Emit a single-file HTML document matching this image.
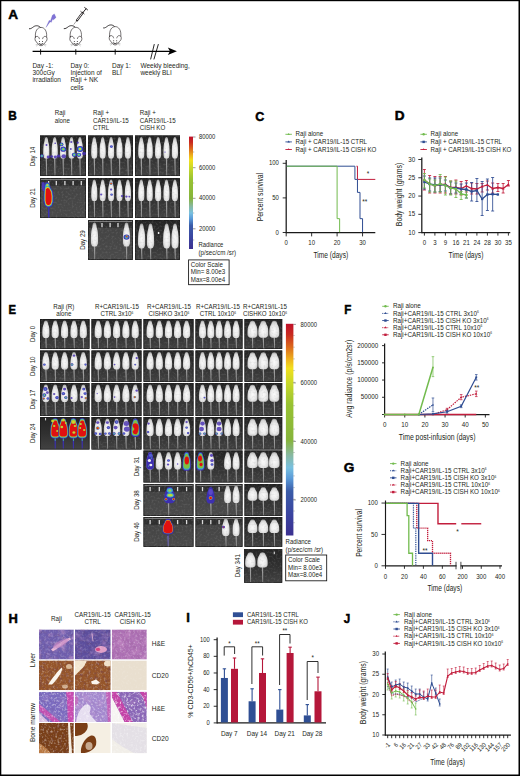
<!DOCTYPE html>
<html><head><meta charset="utf-8"><style>
html,body{margin:0;padding:0;background:#fff;width:520px;height:776px;overflow:hidden}
svg{display:block}
text{font-family:"Liberation Sans", sans-serif;stroke:none}
</style></head><body>
<svg width="520" height="776" viewBox="0 0 520 776" font-family='"Liberation Sans", sans-serif'>

<defs>
<radialGradient id="mg" cx="50%" cy="58%" r="60%">
 <stop offset="0" stop-color="#fafafa"/><stop offset="0.5" stop-color="#ececec"/><stop offset="0.8" stop-color="#d4d4d4"/><stop offset="1" stop-color="#8c8c8c"/>
</radialGradient>
<linearGradient id="pbg" x1="0" y1="0" x2="0" y2="1">
 <stop offset="0" stop-color="#242424"/><stop offset="0.5" stop-color="#303030"/><stop offset="1" stop-color="#424242"/>
</linearGradient>
<linearGradient id="cbar" x1="0" y1="0" x2="0" y2="1">
 <stop offset="0" stop-color="#c0102a"/>
 <stop offset="0.05" stop-color="#c82a20"/>
 <stop offset="0.11" stop-color="#dc6a1c"/>
 <stop offset="0.17" stop-color="#eeb41c"/>
 <stop offset="0.21" stop-color="#f2e01e"/>
 <stop offset="0.28" stop-color="#c8d82a"/>
 <stop offset="0.38" stop-color="#98c232"/>
 <stop offset="0.55" stop-color="#86b43c"/>
 <stop offset="0.62" stop-color="#88b8a0"/>
 <stop offset="0.68" stop-color="#78c0e0"/>
 <stop offset="0.73" stop-color="#5a9ad8"/>
 <stop offset="0.79" stop-color="#3a5ca8"/>
 <stop offset="0.9" stop-color="#3a44a0"/>
 <stop offset="1" stop-color="#3c3090"/>
</linearGradient>
<linearGradient id="pbg2" x1="0" y1="0" x2="0" y2="1">
 <stop offset="0" stop-color="#424242"/><stop offset="1" stop-color="#4a4a4a"/>
</linearGradient>
<g id="cmouse" fill="#fff" stroke="#231f20" stroke-width="0.62" stroke-linecap="round" stroke-linejoin="round">
 <path d="M-0.3,0.2 C-2,-1.8 -5,-2.4 -7.5,-0.6 C-9,0.5 -10.2,1.6 -11.6,1.4" fill="none" stroke-width="0.9"/>
 <path d="M-5.6,9.5 C-6.2,3.5 -3.4,0 0,0 C3.4,0 6.2,3.5 5.6,9.5 C6.6,11.5 6,14 4,15 C3,17.3 1.5,18.3 0,18.3 C-1.5,18.3 -3,17.3 -4,15 C-6,14 -6.6,11.5 -5.6,9.5 Z"/>
 <path d="M-5.4,9.6 C-4.2,8.3 -2.2,8.8 -1.6,11.3 M5.4,9.6 C4.2,8.3 2.2,8.8 1.6,11.3" fill="none"/>
 <circle cx="-1.5" cy="14.2" r="0.5" fill="#231f20" stroke="none"/>
 <circle cx="1.5" cy="14.2" r="0.5" fill="#231f20" stroke="none"/>
 <path d="M-1.8,16.4 Q0,18 1.8,16.4" fill="none" stroke-width="0.9"/>
 <path d="M-2.5,16.5 L-5,17.2 M-2.5,17 L-4.6,18.6 M2.5,16.5 L5,17.2 M2.5,17 L4.6,18.6" stroke="#888" stroke-width="0.4"/>
</g>
<filter id="speckW" x="0" y="0" width="100%" height="100%" filterUnits="objectBoundingBox">
 <feTurbulence type="fractalNoise" baseFrequency="0.45" numOctaves="3" seed="3"/>
 <feColorMatrix type="matrix" values="0 0 0 0 1  0 0 0 0 1  0 0 0 0 1  2.6 0 0 0 -1.25"/>
</filter>
<filter id="speckD" x="0" y="0" width="100%" height="100%" filterUnits="objectBoundingBox">
 <feTurbulence type="fractalNoise" baseFrequency="0.35" numOctaves="3" seed="8"/>
 <feColorMatrix type="matrix" values="0 0 0 0 0.15  0 0 0 0 0.05  0 0 0 0 0.1  2.4 0 0 0 -1.15"/>
</filter>
<filter id="speckP" x="0" y="0" width="100%" height="100%" filterUnits="objectBoundingBox">
 <feTurbulence type="fractalNoise" baseFrequency="0.12" numOctaves="3" seed="11"/>
 <feColorMatrix type="matrix" values="0 0 0 0 0.78  0 0 0 0 0.42  0 0 0 0 0.72  3.0 0 0 0 -1.4"/>
</filter>
<filter id="mtex" x="0" y="0" width="100%" height="100%" filterUnits="objectBoundingBox">
 <feTurbulence type="fractalNoise" baseFrequency="0.5" numOctaves="2" seed="5"/>
 <feColorMatrix type="matrix" values="0 0 0 0 0.35  0 0 0 0 0.35  0 0 0 0 0.35  2.6 0 0 0 -1.2"/>
</filter>
<filter id="soft" x="-20%" y="-10%" width="140%" height="120%"><feGaussianBlur stdDeviation="0.35"/></filter>
</defs>

<text transform="translate(8.2,19.299999999999997) scale(1.0,1)" font-size="13.6" font-weight="bold" fill="#000" style="stroke:#000;stroke-width:0.5px">A</text>
<use href="#cmouse" transform="translate(41.0,27.4)"/>
<use href="#cmouse" transform="translate(75.8,27.3)"/>
<use href="#cmouse" transform="translate(115.2,26.6)"/>
<path d="M46.1,27.3 L49.2,20.4 L50.5,20.9 L52.4,15.3 L54.3,13.9 L56.0,17.4 L53.6,19.7 L52.5,19.2 L51.3,22.3 L50.1,21.7 Z" fill="#7f72d6" stroke="#6458c0" stroke-width="0.3" stroke-linejoin="round"/>
<g stroke="#231f20" stroke-linecap="round"><line x1="74" y1="24.2" x2="77.2" y2="20" stroke-width="0.4"/><line x1="77" y1="20.4" x2="82.6" y2="12.8" stroke-width="2.2"/><line x1="77.4" y1="19.8" x2="82.1" y2="13.4" stroke="#fff" stroke-width="0.9"/><line x1="80.6" y1="11.3" x2="84.2" y2="14" stroke-width="0.6"/><line x1="83" y1="12.5" x2="86" y2="8.8" stroke-width="1"/><line x1="84.6" y1="7.5" x2="87.6" y2="9.9" stroke-width="0.9"/></g>
<line x1="32.6" y1="51.35" x2="172" y2="51.35" stroke="#000" stroke-width="1.25"/>
<path d="M176.9,51.35 L167.8,47.6 L170,51.35 L167.8,55.1 Z" fill="#000"/>
<line x1="40.6" y1="49.2" x2="40.6" y2="54.6" stroke="#000" stroke-width="0.9"/>
<line x1="75.8" y1="49.2" x2="75.8" y2="54.6" stroke="#000" stroke-width="0.9"/>
<line x1="115.2" y1="49.2" x2="115.2" y2="54.6" stroke="#000" stroke-width="0.9"/>
<line x1="150.6" y1="59.4" x2="154.3" y2="44.1" stroke="#000" stroke-width="0.85"/>
<line x1="153.9" y1="59.4" x2="158.4" y2="44.1" stroke="#000" stroke-width="0.85"/>
<text transform="translate(32.4,67.5) scale(0.8929,1)" font-size="7.28" text-anchor="start" font-weight="normal" fill="#231f20" >Day -1:</text>
<text transform="translate(32.4,74.95) scale(0.8929,1)" font-size="7.28" text-anchor="start" font-weight="normal" fill="#231f20" >300cGy</text>
<text transform="translate(32.4,82.4) scale(0.8929,1)" font-size="7.28" text-anchor="start" font-weight="normal" fill="#231f20" >irradiation</text>
<text transform="translate(70.4,67.5) scale(0.8929,1)" font-size="7.28" text-anchor="start" font-weight="normal" fill="#231f20" >Day 0:</text>
<text transform="translate(70.4,74.95) scale(0.8929,1)" font-size="7.28" text-anchor="start" font-weight="normal" fill="#231f20" >Injection of</text>
<text transform="translate(70.4,82.4) scale(0.8929,1)" font-size="7.28" text-anchor="start" font-weight="normal" fill="#231f20" >Raji + NK</text>
<text transform="translate(70.4,89.85) scale(0.8929,1)" font-size="7.28" text-anchor="start" font-weight="normal" fill="#231f20" >cells</text>
<text transform="translate(112.0,67.5) scale(0.8929,1)" font-size="7.28" text-anchor="start" font-weight="normal" fill="#231f20" >Day 1:</text>
<text transform="translate(112.0,74.95) scale(0.8929,1)" font-size="7.28" text-anchor="start" font-weight="normal" fill="#231f20" >BLI</text>
<text transform="translate(140.4,67.5) scale(0.8929,1)" font-size="7.28" text-anchor="start" font-weight="normal" fill="#231f20" >Weekly bleeding,</text>
<text transform="translate(140.4,74.95) scale(0.8929,1)" font-size="7.28" text-anchor="start" font-weight="normal" fill="#231f20" >weekly BLI</text>
<text transform="translate(8.3,120.4) scale(0.87,1)" font-size="13.6" font-weight="bold" fill="#000" style="stroke:#000;stroke-width:0.5px">B</text>
<text transform="translate(54.8,115.2) scale(0.8929,1)" font-size="6.944" text-anchor="start" font-weight="normal" fill="#231f20" >Raji</text>
<text transform="translate(54.8,122.6) scale(0.8929,1)" font-size="6.944" text-anchor="start" font-weight="normal" fill="#231f20" >alone</text>
<text transform="translate(93.0,115.2) scale(0.8929,1)" font-size="6.944" text-anchor="start" font-weight="normal" fill="#231f20" >Raji +</text>
<text transform="translate(93.0,122.6) scale(0.8929,1)" font-size="6.944" text-anchor="start" font-weight="normal" fill="#231f20" >CAR19/IL-15</text>
<text transform="translate(93.0,130.0) scale(0.8929,1)" font-size="6.944" text-anchor="start" font-weight="normal" fill="#231f20" >CTRL</text>
<text transform="translate(139.8,115.2) scale(0.8929,1)" font-size="6.944" text-anchor="start" font-weight="normal" fill="#231f20" >Raji +</text>
<text transform="translate(139.8,122.6) scale(0.8929,1)" font-size="6.944" text-anchor="start" font-weight="normal" fill="#231f20" >CAR19/IL-15</text>
<text transform="translate(139.8,130.0) scale(0.8929,1)" font-size="6.944" text-anchor="start" font-weight="normal" fill="#231f20" >CISH KO</text>
<text transform="translate(35.2,156.5) rotate(-90) scale(0.8929,1)" font-size="6.944" text-anchor="middle" fill="#231f20">Day 14</text>
<text transform="translate(35.2,198.0) rotate(-90) scale(0.8929,1)" font-size="6.944" text-anchor="middle" fill="#231f20">Day 21</text>
<text transform="translate(85.0,240.0) rotate(-90) scale(0.8929,1)" font-size="6.944" text-anchor="middle" fill="#231f20">Day 29</text>
<rect x="40" y="135.5" width="46" height="40.5" fill="url(#pbg)"/>
<rect x="40.35" y="135.85" width="45.3" height="39.8" fill="none" stroke="#1c1c1c" stroke-width="0.7"/>
<path d="M45.599999999999994,158.1 L47.0,158.1 L46.949999999999996,175.2 L46.24999999999999,175.2 Z" fill="#9c9c9c"/>
<path d="M46.30,137.10 C46.67,137.10 47.15,137.39 47.42,137.75 C47.68,138.10 47.78,138.64 47.91,139.25 C48.05,139.86 48.06,140.61 48.22,141.40 C48.38,142.19 48.70,143.01 48.87,143.98 C49.04,144.95 49.16,145.91 49.24,147.20 C49.33,148.49 49.39,150.25 49.40,151.72 C49.41,153.19 49.48,154.93 49.28,156.02 C49.07,157.11 48.66,157.85 48.16,158.28 C47.66,158.71 46.92,158.60 46.30,158.60 C45.68,158.60 44.94,158.71 44.44,158.28 C43.94,157.85 43.53,157.11 43.32,156.02 C43.12,154.93 43.19,153.19 43.20,151.72 C43.21,150.25 43.27,148.49 43.35,147.20 C43.44,145.91 43.56,144.95 43.73,143.98 C43.90,143.01 44.22,142.19 44.38,141.40 C44.54,140.61 44.55,139.86 44.69,139.25 C44.82,138.64 44.92,138.10 45.18,137.75 C45.45,137.39 45.93,137.10 46.30,137.10 Z" fill="url(#mg)" filter="url(#soft)"/>
<path d="M53.99999999999999,158.1 L55.4,158.1 L55.349999999999994,175.2 L54.64999999999999,175.2 Z" fill="#9c9c9c"/>
<path d="M54.70,137.10 C55.07,137.10 55.55,137.39 55.82,137.75 C56.08,138.10 56.18,138.64 56.31,139.25 C56.45,139.86 56.46,140.61 56.62,141.40 C56.78,142.19 57.10,143.01 57.27,143.98 C57.44,144.95 57.56,145.91 57.64,147.20 C57.73,148.49 57.79,150.25 57.80,151.72 C57.81,153.19 57.88,154.93 57.68,156.02 C57.47,157.11 57.06,157.85 56.56,158.28 C56.06,158.71 55.32,158.60 54.70,158.60 C54.08,158.60 53.34,158.71 52.84,158.28 C52.34,157.85 51.93,157.11 51.72,156.02 C51.52,154.93 51.59,153.19 51.60,151.72 C51.61,150.25 51.67,148.49 51.75,147.20 C51.84,145.91 51.96,144.95 52.13,143.98 C52.30,143.01 52.62,142.19 52.78,141.40 C52.94,140.61 52.95,139.86 53.09,139.25 C53.22,138.64 53.32,138.10 53.58,137.75 C53.85,137.39 54.33,137.10 54.70,137.10 Z" fill="url(#mg)" filter="url(#soft)"/>
<path d="M62.39999999999999,158.1 L63.8,158.1 L63.74999999999999,175.2 L63.04999999999999,175.2 Z" fill="#9c9c9c"/>
<path d="M63.10,137.10 C63.47,137.10 63.95,137.39 64.22,137.75 C64.48,138.10 64.58,138.64 64.71,139.25 C64.85,139.86 64.86,140.61 65.02,141.40 C65.18,142.19 65.50,143.01 65.67,143.98 C65.84,144.95 65.96,145.91 66.04,147.20 C66.13,148.49 66.19,150.25 66.20,151.72 C66.21,153.19 66.28,154.93 66.08,156.02 C65.87,157.11 65.46,157.85 64.96,158.28 C64.46,158.71 63.72,158.60 63.10,158.60 C62.48,158.60 61.74,158.71 61.24,158.28 C60.74,157.85 60.33,157.11 60.12,156.02 C59.92,154.93 59.99,153.19 60.00,151.72 C60.01,150.25 60.07,148.49 60.15,147.20 C60.24,145.91 60.36,144.95 60.53,143.98 C60.70,143.01 61.02,142.19 61.18,141.40 C61.34,140.61 61.35,139.86 61.49,139.25 C61.62,138.64 61.72,138.10 61.98,137.75 C62.25,137.39 62.73,137.10 63.10,137.10 Z" fill="url(#mg)" filter="url(#soft)"/>
<path d="M70.8,158.1 L72.2,158.1 L72.14999999999999,175.2 L71.45,175.2 Z" fill="#9c9c9c"/>
<path d="M71.50,137.10 C71.87,137.10 72.35,137.39 72.62,137.75 C72.88,138.10 72.98,138.64 73.11,139.25 C73.25,139.86 73.26,140.61 73.42,141.40 C73.58,142.19 73.90,143.01 74.07,143.98 C74.24,144.95 74.36,145.91 74.44,147.20 C74.53,148.49 74.59,150.25 74.60,151.72 C74.61,153.19 74.68,154.93 74.48,156.02 C74.27,157.11 73.86,157.85 73.36,158.28 C72.86,158.71 72.12,158.60 71.50,158.60 C70.88,158.60 70.14,158.71 69.64,158.28 C69.14,157.85 68.73,157.11 68.52,156.02 C68.32,154.93 68.39,153.19 68.40,151.72 C68.41,150.25 68.47,148.49 68.56,147.20 C68.64,145.91 68.76,144.95 68.93,143.98 C69.10,143.01 69.42,142.19 69.58,141.40 C69.74,140.61 69.75,139.86 69.89,139.25 C70.02,138.64 70.12,138.10 70.38,137.75 C70.65,137.39 71.13,137.10 71.50,137.10 Z" fill="url(#mg)" filter="url(#soft)"/>
<path d="M79.2,158.1 L80.60000000000001,158.1 L80.55,175.2 L79.85000000000001,175.2 Z" fill="#9c9c9c"/>
<path d="M79.90,137.10 C80.27,137.10 80.75,137.39 81.02,137.75 C81.28,138.10 81.38,138.64 81.51,139.25 C81.65,139.86 81.66,140.61 81.82,141.40 C81.98,142.19 82.30,143.01 82.47,143.98 C82.64,144.95 82.76,145.91 82.84,147.20 C82.93,148.49 82.99,150.25 83.00,151.72 C83.01,153.19 83.08,154.93 82.88,156.02 C82.67,157.11 82.26,157.85 81.76,158.28 C81.26,158.71 80.52,158.60 79.90,158.60 C79.28,158.60 78.54,158.71 78.04,158.28 C77.54,157.85 77.13,157.11 76.92,156.02 C76.72,154.93 76.79,153.19 76.80,151.72 C76.81,150.25 76.87,148.49 76.96,147.20 C77.04,145.91 77.16,144.95 77.33,143.98 C77.50,143.01 77.82,142.19 77.98,141.40 C78.14,140.61 78.15,139.86 78.29,139.25 C78.42,138.64 78.52,138.10 78.78,137.75 C79.05,137.39 79.53,137.10 79.90,137.10 Z" fill="url(#mg)" filter="url(#soft)"/>
<rect x="40" y="135.5" width="46" height="40.5" filter="url(#mtex)" opacity="0.22"/>
<ellipse cx="46.5" cy="145" rx="1.0" ry="0.9" fill="#4a32b5" opacity="0.85"/>
<ellipse cx="41.9" cy="156" rx="1.9" ry="1.71" fill="#3d2fb0"/><ellipse cx="41.9" cy="156" rx="1.2349999999999999" ry="1.14" fill="#3aa6c8"/><ellipse cx="41.9" cy="156" rx="0.6649999999999999" ry="0.57" fill="#a8d040"/>
<ellipse cx="48.3" cy="157" rx="1.6" ry="1.4400000000000002" fill="#4a32b5" opacity="0.85"/>
<ellipse cx="55.2" cy="143.3" rx="0.9" ry="0.81" fill="#4a32b5" opacity="0.85"/>
<ellipse cx="51.7" cy="156.5" rx="1.5" ry="1.35" fill="#4a32b5" opacity="0.85"/>
<ellipse cx="55.4" cy="157" rx="1.6" ry="1.4400000000000002" fill="#4a32b5" opacity="0.85"/>
<ellipse cx="61.5" cy="144.4" rx="2.0" ry="1.8" fill="#3d2fb0"/><ellipse cx="61.5" cy="144.4" rx="1.3" ry="1.2" fill="#3aa6c8"/><ellipse cx="61.5" cy="144.4" rx="0.7" ry="0.6" fill="#a8d040"/>
<ellipse cx="63.3" cy="149.2" rx="2.9" ry="2.61" fill="#3d2fb0"/><ellipse cx="63.3" cy="149.2" rx="1.885" ry="1.74" fill="#3aa6c8"/><ellipse cx="63.3" cy="149.2" rx="1.015" ry="0.87" fill="#a8d040"/>
<ellipse cx="58.6" cy="156" rx="1.7" ry="1.53" fill="#4a32b5" opacity="0.85"/>
<ellipse cx="63.8" cy="156.2" rx="2.3" ry="2.07" fill="#4a32b5" opacity="0.85"/>
<ellipse cx="71.3" cy="142" rx="1.1" ry="0.9900000000000001" fill="#4a32b5" opacity="0.85"/>
<ellipse cx="70.8" cy="149" rx="1.0" ry="0.9" fill="#4a32b5" opacity="0.85"/>
<ellipse cx="74.2" cy="154.8" rx="2.4" ry="2.16" fill="#3d2fb0"/><ellipse cx="74.2" cy="154.8" rx="1.56" ry="1.44" fill="#3aa6c8"/><ellipse cx="74.2" cy="154.8" rx="0.84" ry="0.72" fill="#a8d040"/>
<ellipse cx="77.7" cy="142.7" rx="1.2" ry="1.08" fill="#4a32b5" opacity="0.85"/>
<ellipse cx="80.0" cy="149.0" rx="3.4" ry="3.06" fill="#3d2fb0"/><ellipse cx="80.0" cy="149.0" rx="2.21" ry="2.04" fill="#3aa6c8"/><ellipse cx="80.0" cy="149.0" rx="1.19" ry="1.02" fill="#a8d040"/>
<ellipse cx="78.8" cy="154.8" rx="2.4" ry="2.16" fill="#3d2fb0"/><ellipse cx="78.8" cy="154.8" rx="1.56" ry="1.44" fill="#3aa6c8"/><ellipse cx="78.8" cy="154.8" rx="0.84" ry="0.72" fill="#a8d040"/>
<ellipse cx="84.0" cy="153.6" rx="2.0" ry="1.8" fill="#4a32b5" opacity="0.85"/>
<ellipse cx="80.0" cy="149.0" rx="1.2" ry="1.0" fill="#e8d020"/>
<rect x="88" y="135.5" width="45" height="40.5" fill="url(#pbg)"/>
<rect x="88.35" y="135.85" width="44.3" height="39.8" fill="none" stroke="#1c1c1c" stroke-width="0.7"/>
<path d="M93.6,158.1 L95.0,158.1 L94.94999999999999,175.2 L94.25,175.2 Z" fill="#9c9c9c"/>
<path d="M94.30,137.10 C94.67,137.10 95.15,137.39 95.42,137.75 C95.68,138.10 95.78,138.64 95.91,139.25 C96.05,139.86 96.06,140.61 96.22,141.40 C96.38,142.19 96.70,143.01 96.87,143.98 C97.04,144.95 97.16,145.91 97.24,147.20 C97.33,148.49 97.39,150.25 97.40,151.72 C97.41,153.19 97.48,154.93 97.28,156.02 C97.07,157.11 96.66,157.85 96.16,158.28 C95.66,158.71 94.92,158.60 94.30,158.60 C93.68,158.60 92.94,158.71 92.44,158.28 C91.94,157.85 91.53,157.11 91.32,156.02 C91.12,154.93 91.19,153.19 91.20,151.72 C91.21,150.25 91.27,148.49 91.36,147.20 C91.44,145.91 91.56,144.95 91.73,143.98 C91.90,143.01 92.22,142.19 92.38,141.40 C92.54,140.61 92.55,139.86 92.69,139.25 C92.82,138.64 92.92,138.10 93.18,137.75 C93.45,137.39 93.93,137.10 94.30,137.10 Z" fill="url(#mg)" filter="url(#soft)"/>
<path d="M102.0,158.1 L103.4,158.1 L103.35,175.2 L102.65,175.2 Z" fill="#9c9c9c"/>
<path d="M102.70,137.10 C103.07,137.10 103.55,137.39 103.82,137.75 C104.08,138.10 104.18,138.64 104.31,139.25 C104.45,139.86 104.46,140.61 104.62,141.40 C104.78,142.19 105.10,143.01 105.27,143.98 C105.44,144.95 105.56,145.91 105.64,147.20 C105.73,148.49 105.79,150.25 105.80,151.72 C105.81,153.19 105.88,154.93 105.68,156.02 C105.47,157.11 105.06,157.85 104.56,158.28 C104.06,158.71 103.32,158.60 102.70,158.60 C102.08,158.60 101.34,158.71 100.84,158.28 C100.34,157.85 99.93,157.11 99.72,156.02 C99.52,154.93 99.59,153.19 99.60,151.72 C99.61,150.25 99.67,148.49 99.76,147.20 C99.84,145.91 99.96,144.95 100.13,143.98 C100.30,143.01 100.62,142.19 100.78,141.40 C100.94,140.61 100.95,139.86 101.09,139.25 C101.22,138.64 101.32,138.10 101.58,137.75 C101.85,137.39 102.33,137.10 102.70,137.10 Z" fill="url(#mg)" filter="url(#soft)"/>
<path d="M110.39999999999999,158.1 L111.8,158.1 L111.74999999999999,175.2 L111.05,175.2 Z" fill="#9c9c9c"/>
<path d="M111.10,137.10 C111.47,137.10 111.95,137.39 112.22,137.75 C112.48,138.10 112.58,138.64 112.71,139.25 C112.85,139.86 112.86,140.61 113.02,141.40 C113.18,142.19 113.50,143.01 113.67,143.98 C113.84,144.95 113.96,145.91 114.04,147.20 C114.13,148.49 114.19,150.25 114.20,151.72 C114.21,153.19 114.28,154.93 114.08,156.02 C113.87,157.11 113.46,157.85 112.96,158.28 C112.46,158.71 111.72,158.60 111.10,158.60 C110.48,158.60 109.74,158.71 109.24,158.28 C108.74,157.85 108.33,157.11 108.12,156.02 C107.92,154.93 107.99,153.19 108.00,151.72 C108.01,150.25 108.07,148.49 108.16,147.20 C108.24,145.91 108.36,144.95 108.53,143.98 C108.70,143.01 109.02,142.19 109.18,141.40 C109.34,140.61 109.35,139.86 109.49,139.25 C109.62,138.64 109.72,138.10 109.98,137.75 C110.25,137.39 110.73,137.10 111.10,137.10 Z" fill="url(#mg)" filter="url(#soft)"/>
<ellipse cx="111.39999999999999" cy="146.6" rx="1.5" ry="1.35" fill="#3d2fb0" opacity="0.9"/><ellipse cx="111.39999999999999" cy="146.6" rx="0.675" ry="0.6000000000000001" fill="#4a8fe0" opacity="0.9"/>
<path d="M118.8,158.1 L120.2,158.1 L120.14999999999999,175.2 L119.45,175.2 Z" fill="#9c9c9c"/>
<path d="M119.50,137.10 C119.87,137.10 120.35,137.39 120.62,137.75 C120.88,138.10 120.98,138.64 121.11,139.25 C121.25,139.86 121.26,140.61 121.42,141.40 C121.58,142.19 121.90,143.01 122.07,143.98 C122.24,144.95 122.36,145.91 122.44,147.20 C122.53,148.49 122.59,150.25 122.60,151.72 C122.61,153.19 122.68,154.93 122.48,156.02 C122.27,157.11 121.86,157.85 121.36,158.28 C120.86,158.71 120.12,158.60 119.50,158.60 C118.88,158.60 118.14,158.71 117.64,158.28 C117.14,157.85 116.73,157.11 116.52,156.02 C116.32,154.93 116.39,153.19 116.40,151.72 C116.41,150.25 116.47,148.49 116.56,147.20 C116.64,145.91 116.76,144.95 116.93,143.98 C117.10,143.01 117.42,142.19 117.58,141.40 C117.74,140.61 117.75,139.86 117.89,139.25 C118.02,138.64 118.12,138.10 118.38,137.75 C118.65,137.39 119.13,137.10 119.50,137.10 Z" fill="url(#mg)" filter="url(#soft)"/>
<path d="M127.2,158.1 L128.6,158.1 L128.55,175.2 L127.85000000000002,175.2 Z" fill="#9c9c9c"/>
<path d="M127.90,137.10 C128.27,137.10 128.75,137.39 129.02,137.75 C129.28,138.10 129.38,138.64 129.51,139.25 C129.65,139.86 129.66,140.61 129.82,141.40 C129.98,142.19 130.30,143.01 130.47,143.98 C130.64,144.95 130.76,145.91 130.84,147.20 C130.93,148.49 130.99,150.25 131.00,151.72 C131.01,153.19 131.08,154.93 130.88,156.02 C130.67,157.11 130.26,157.85 129.76,158.28 C129.26,158.71 128.52,158.60 127.90,158.60 C127.28,158.60 126.54,158.71 126.04,158.28 C125.54,157.85 125.13,157.11 124.92,156.02 C124.72,154.93 124.79,153.19 124.80,151.72 C124.81,150.25 124.87,148.49 124.96,147.20 C125.04,145.91 125.16,144.95 125.33,143.98 C125.50,143.01 125.82,142.19 125.98,141.40 C126.14,140.61 126.15,139.86 126.29,139.25 C126.42,138.64 126.52,138.10 126.78,137.75 C127.05,137.39 127.53,137.10 127.90,137.10 Z" fill="url(#mg)" filter="url(#soft)"/>
<rect x="88" y="135.5" width="45" height="40.5" filter="url(#mtex)" opacity="0.22"/>
<rect x="135" y="135.5" width="45" height="40.5" fill="url(#pbg)"/>
<rect x="135.35" y="135.85" width="44.3" height="39.8" fill="none" stroke="#1c1c1c" stroke-width="0.7"/>
<path d="M140.60000000000002,158.1 L142.0,158.1 L141.95000000000002,175.2 L141.25000000000003,175.2 Z" fill="#9c9c9c"/>
<path d="M141.30,137.10 C141.67,137.10 142.15,137.39 142.42,137.75 C142.68,138.10 142.78,138.64 142.91,139.25 C143.05,139.86 143.06,140.61 143.22,141.40 C143.38,142.19 143.70,143.01 143.87,143.98 C144.04,144.95 144.16,145.91 144.25,147.20 C144.33,148.49 144.39,150.25 144.40,151.72 C144.41,153.19 144.48,154.93 144.28,156.02 C144.07,157.11 143.66,157.85 143.16,158.28 C142.66,158.71 141.92,158.60 141.30,158.60 C140.68,158.60 139.94,158.71 139.44,158.28 C138.94,157.85 138.53,157.11 138.32,156.02 C138.12,154.93 138.19,153.19 138.20,151.72 C138.21,150.25 138.27,148.49 138.36,147.20 C138.44,145.91 138.56,144.95 138.73,143.98 C138.90,143.01 139.22,142.19 139.38,141.40 C139.54,140.61 139.55,139.86 139.69,139.25 C139.82,138.64 139.92,138.10 140.18,137.75 C140.45,137.39 140.93,137.10 141.30,137.10 Z" fill="url(#mg)" filter="url(#soft)"/>
<path d="M149.00000000000003,158.1 L150.4,158.1 L150.35000000000002,175.2 L149.65000000000003,175.2 Z" fill="#9c9c9c"/>
<path d="M149.70,137.10 C150.07,137.10 150.55,137.39 150.82,137.75 C151.08,138.10 151.18,138.64 151.31,139.25 C151.45,139.86 151.46,140.61 151.62,141.40 C151.78,142.19 152.10,143.01 152.27,143.98 C152.44,144.95 152.56,145.91 152.65,147.20 C152.73,148.49 152.79,150.25 152.80,151.72 C152.81,153.19 152.88,154.93 152.68,156.02 C152.47,157.11 152.06,157.85 151.56,158.28 C151.06,158.71 150.32,158.60 149.70,158.60 C149.08,158.60 148.34,158.71 147.84,158.28 C147.34,157.85 146.93,157.11 146.72,156.02 C146.52,154.93 146.59,153.19 146.60,151.72 C146.61,150.25 146.67,148.49 146.76,147.20 C146.84,145.91 146.96,144.95 147.13,143.98 C147.30,143.01 147.62,142.19 147.78,141.40 C147.94,140.61 147.95,139.86 148.09,139.25 C148.22,138.64 148.32,138.10 148.58,137.75 C148.85,137.39 149.33,137.10 149.70,137.10 Z" fill="url(#mg)" filter="url(#soft)"/>
<path d="M157.40000000000003,158.1 L158.8,158.1 L158.75000000000003,175.2 L158.05000000000004,175.2 Z" fill="#9c9c9c"/>
<path d="M158.10,137.10 C158.47,137.10 158.95,137.39 159.22,137.75 C159.48,138.10 159.58,138.64 159.71,139.25 C159.85,139.86 159.86,140.61 160.02,141.40 C160.18,142.19 160.50,143.01 160.67,143.98 C160.84,144.95 160.96,145.91 161.05,147.20 C161.13,148.49 161.19,150.25 161.20,151.72 C161.21,153.19 161.28,154.93 161.08,156.02 C160.87,157.11 160.46,157.85 159.96,158.28 C159.46,158.71 158.72,158.60 158.10,158.60 C157.48,158.60 156.74,158.71 156.24,158.28 C155.74,157.85 155.33,157.11 155.12,156.02 C154.92,154.93 154.99,153.19 155.00,151.72 C155.01,150.25 155.07,148.49 155.16,147.20 C155.24,145.91 155.36,144.95 155.53,143.98 C155.70,143.01 156.02,142.19 156.18,141.40 C156.34,140.61 156.35,139.86 156.49,139.25 C156.62,138.64 156.72,138.10 156.98,137.75 C157.25,137.39 157.73,137.10 158.10,137.10 Z" fill="url(#mg)" filter="url(#soft)"/>
<path d="M165.8,158.1 L167.2,158.1 L167.15,175.2 L166.45000000000002,175.2 Z" fill="#9c9c9c"/>
<path d="M166.50,137.10 C166.87,137.10 167.35,137.39 167.62,137.75 C167.88,138.10 167.98,138.64 168.11,139.25 C168.25,139.86 168.26,140.61 168.42,141.40 C168.58,142.19 168.90,143.01 169.07,143.98 C169.24,144.95 169.36,145.91 169.44,147.20 C169.53,148.49 169.59,150.25 169.60,151.72 C169.61,153.19 169.68,154.93 169.48,156.02 C169.27,157.11 168.86,157.85 168.36,158.28 C167.86,158.71 167.12,158.60 166.50,158.60 C165.88,158.60 165.14,158.71 164.64,158.28 C164.14,157.85 163.73,157.11 163.52,156.02 C163.32,154.93 163.39,153.19 163.40,151.72 C163.41,150.25 163.47,148.49 163.56,147.20 C163.64,145.91 163.76,144.95 163.93,143.98 C164.10,143.01 164.42,142.19 164.58,141.40 C164.74,140.61 164.75,139.86 164.89,139.25 C165.02,138.64 165.12,138.10 165.38,137.75 C165.65,137.39 166.13,137.10 166.50,137.10 Z" fill="url(#mg)" filter="url(#soft)"/>
<ellipse cx="165.0" cy="152.1" rx="0.7" ry="0.63" fill="#4a32b5" opacity="0.85"/>
<path d="M174.20000000000002,158.1 L175.6,158.1 L175.55,175.2 L174.85000000000002,175.2 Z" fill="#9c9c9c"/>
<path d="M174.90,137.10 C175.27,137.10 175.75,137.39 176.02,137.75 C176.28,138.10 176.38,138.64 176.51,139.25 C176.65,139.86 176.66,140.61 176.82,141.40 C176.98,142.19 177.30,143.01 177.47,143.98 C177.64,144.95 177.76,145.91 177.84,147.20 C177.93,148.49 177.99,150.25 178.00,151.72 C178.01,153.19 178.08,154.93 177.88,156.02 C177.67,157.11 177.26,157.85 176.76,158.28 C176.26,158.71 175.52,158.60 174.90,158.60 C174.28,158.60 173.54,158.71 173.04,158.28 C172.54,157.85 172.13,157.11 171.92,156.02 C171.72,154.93 171.79,153.19 171.80,151.72 C171.81,150.25 171.87,148.49 171.96,147.20 C172.04,145.91 172.16,144.95 172.33,143.98 C172.50,143.01 172.82,142.19 172.98,141.40 C173.14,140.61 173.15,139.86 173.29,139.25 C173.42,138.64 173.52,138.10 173.78,137.75 C174.05,137.39 174.53,137.10 174.90,137.10 Z" fill="url(#mg)" filter="url(#soft)"/>
<rect x="135" y="135.5" width="45" height="40.5" filter="url(#mtex)" opacity="0.22"/>
<rect x="40" y="178" width="46" height="40" fill="url(#pbg2)"/>
<rect x="41" y="180.0" width="44" height="5.8" fill="#2e2e2e"/>
<rect x="41" y="179.0" width="44" height="1.0" fill="#7a7a7a"/>
<rect x="47.95" y="181.0" width="1.3" height="4.2" fill="#dcdcdc"/>
<rect x="55.65" y="181.0" width="1.3" height="4.2" fill="#dcdcdc"/>
<rect x="64.25" y="181.0" width="1.3" height="4.2" fill="#dcdcdc"/>
<rect x="72.44999999999999" y="181.0" width="1.3" height="4.2" fill="#dcdcdc"/>
<rect x="80.64999999999999" y="181.0" width="1.3" height="4.2" fill="#dcdcdc"/>
<rect x="40.35" y="178.35" width="45.3" height="39.3" fill="none" stroke="#1c1c1c" stroke-width="0.7"/>
<rect x="40" y="178" width="46" height="40" filter="url(#mtex)" opacity="0.22"/>
<line x1="48.6" y1="204" x2="48.8" y2="217.5" stroke="#3b30b0" stroke-width="1.5"/>
<path d="M41.6,182.6 L44.2,182 L45.2,186 L44.8,191.5 L42.6,190.8 L41.6,186 Z" fill="#4a3ab8"/>
<path d="M44.5,183.2 L46,182.3 L48.5,182.6 L49.9,184.8 L50.9,188 L52.9,191 L53.7,196 L53.5,202 L52.1,206 L49.7,207.6 L47.3,207.6 L44.9,206 L43.5,202 L43.5,196 L43.8,191 L44.6,188 Z" fill="#3d2fb0"/>
<path d="M45.2,186 L47,184.6 L49,185.3 L50.2,188 L52,191.2 L52.8,196 L52.7,201.5 L51.5,205.2 L49.4,206.6 L47.2,206.6 L45.4,205 L44.3,200.5 L44.3,195 L44.6,190.5 Z" fill="#38b0c8"/>
<path d="M45.6,188 L47.2,186.8 L49.2,187.4 L51.3,191.2 L52.2,196 L52.1,201.2 L51,204.6 L49.2,205.8 L47.3,205.8 L45.8,204.4 L44.9,200.5 L44.9,195 L45.2,191 Z" fill="#e8d020"/>
<path d="M45.9,189.2 L47.4,188 L49.2,188.6 L50.9,191.8 L51.6,196 L51.5,201 L50.6,204 L49.0,205.1 L47.5,205.1 L46.2,203.8 L45.5,200.3 L45.5,195 L45.7,191.5 Z" fill="#e01010"/>
<circle cx="47.4" cy="185.2" r="1.9" fill="#38b0c8"/><circle cx="47.4" cy="185.2" r="1.1" fill="#c8d830"/>
<rect x="88" y="178" width="45" height="40" fill="url(#pbg)"/>
<rect x="88.35" y="178.35" width="44.3" height="39.3" fill="none" stroke="#1c1c1c" stroke-width="0.7"/>
<path d="M93.6,200.6 L95.0,200.6 L94.94999999999999,217.2 L94.25,217.2 Z" fill="#9c9c9c"/>
<path d="M94.30,179.60 C94.67,179.60 95.15,179.89 95.42,180.25 C95.68,180.60 95.78,181.14 95.91,181.75 C96.05,182.36 96.06,183.11 96.22,183.90 C96.38,184.69 96.70,185.51 96.87,186.48 C97.04,187.45 97.16,188.41 97.24,189.70 C97.33,190.99 97.39,192.75 97.40,194.22 C97.41,195.69 97.48,197.43 97.28,198.52 C97.07,199.61 96.66,200.35 96.16,200.78 C95.66,201.21 94.92,201.10 94.30,201.10 C93.68,201.10 92.94,201.21 92.44,200.78 C91.94,200.35 91.53,199.61 91.32,198.52 C91.12,197.43 91.19,195.69 91.20,194.22 C91.21,192.75 91.27,190.99 91.36,189.70 C91.44,188.41 91.56,187.45 91.73,186.48 C91.90,185.51 92.22,184.69 92.38,183.90 C92.54,183.11 92.55,182.36 92.69,181.75 C92.82,181.14 92.92,180.60 93.18,180.25 C93.45,179.89 93.93,179.60 94.30,179.60 Z" fill="url(#mg)" filter="url(#soft)"/>
<path d="M102.0,200.6 L103.4,200.6 L103.35,217.2 L102.65,217.2 Z" fill="#9c9c9c"/>
<path d="M102.70,179.60 C103.07,179.60 103.55,179.89 103.82,180.25 C104.08,180.60 104.18,181.14 104.31,181.75 C104.45,182.36 104.46,183.11 104.62,183.90 C104.78,184.69 105.10,185.51 105.27,186.48 C105.44,187.45 105.56,188.41 105.64,189.70 C105.73,190.99 105.79,192.75 105.80,194.22 C105.81,195.69 105.88,197.43 105.68,198.52 C105.47,199.61 105.06,200.35 104.56,200.78 C104.06,201.21 103.32,201.10 102.70,201.10 C102.08,201.10 101.34,201.21 100.84,200.78 C100.34,200.35 99.93,199.61 99.72,198.52 C99.52,197.43 99.59,195.69 99.60,194.22 C99.61,192.75 99.67,190.99 99.76,189.70 C99.84,188.41 99.96,187.45 100.13,186.48 C100.30,185.51 100.62,184.69 100.78,183.90 C100.94,183.11 100.95,182.36 101.09,181.75 C101.22,181.14 101.32,180.60 101.58,180.25 C101.85,179.89 102.33,179.60 102.70,179.60 Z" fill="url(#mg)" filter="url(#soft)"/>
<ellipse cx="101.2" cy="194.6" rx="1.1" ry="0.9900000000000001" fill="#4a32b5" opacity="0.85"/>
<path d="M110.39999999999999,200.6 L111.8,200.6 L111.74999999999999,217.2 L111.05,217.2 Z" fill="#9c9c9c"/>
<path d="M111.10,179.60 C111.47,179.60 111.95,179.89 112.22,180.25 C112.48,180.60 112.58,181.14 112.71,181.75 C112.85,182.36 112.86,183.11 113.02,183.90 C113.18,184.69 113.50,185.51 113.67,186.48 C113.84,187.45 113.96,188.41 114.04,189.70 C114.13,190.99 114.19,192.75 114.20,194.22 C114.21,195.69 114.28,197.43 114.08,198.52 C113.87,199.61 113.46,200.35 112.96,200.78 C112.46,201.21 111.72,201.10 111.10,201.10 C110.48,201.10 109.74,201.21 109.24,200.78 C108.74,200.35 108.33,199.61 108.12,198.52 C107.92,197.43 107.99,195.69 108.00,194.22 C108.01,192.75 108.07,190.99 108.16,189.70 C108.24,188.41 108.36,187.45 108.53,186.48 C108.70,185.51 109.02,184.69 109.18,183.90 C109.34,183.11 109.35,182.36 109.49,181.75 C109.62,181.14 109.72,180.60 109.98,180.25 C110.25,179.89 110.73,179.60 111.10,179.60 Z" fill="url(#mg)" filter="url(#soft)"/>
<ellipse cx="111.1" cy="183.6" rx="1.3" ry="1.1700000000000002" fill="#3d2fb0"/><ellipse cx="111.1" cy="183.6" rx="1.066" ry="0.9750000000000001" fill="#38b0c8"/><ellipse cx="111.1" cy="183.6" rx="0.8840000000000001" ry="0.806" fill="#f0d020"/><ellipse cx="111.1" cy="183.6" rx="0.7150000000000001" ry="0.65" fill="#e01010"/>
<ellipse cx="111.1" cy="189.6" rx="1.2" ry="1.08" fill="#4a32b5" opacity="0.85"/>
<ellipse cx="111.6" cy="194.6" rx="1.3" ry="1.1700000000000002" fill="#3d2fb0" opacity="0.9"/><ellipse cx="111.6" cy="194.6" rx="0.5850000000000001" ry="0.52" fill="#4a8fe0" opacity="0.9"/>
<path d="M118.8,200.6 L120.2,200.6 L120.14999999999999,217.2 L119.45,217.2 Z" fill="#9c9c9c"/>
<path d="M119.50,179.60 C119.87,179.60 120.35,179.89 120.62,180.25 C120.88,180.60 120.98,181.14 121.11,181.75 C121.25,182.36 121.26,183.11 121.42,183.90 C121.58,184.69 121.90,185.51 122.07,186.48 C122.24,187.45 122.36,188.41 122.44,189.70 C122.53,190.99 122.59,192.75 122.60,194.22 C122.61,195.69 122.68,197.43 122.48,198.52 C122.27,199.61 121.86,200.35 121.36,200.78 C120.86,201.21 120.12,201.10 119.50,201.10 C118.88,201.10 118.14,201.21 117.64,200.78 C117.14,200.35 116.73,199.61 116.52,198.52 C116.32,197.43 116.39,195.69 116.40,194.22 C116.41,192.75 116.47,190.99 116.56,189.70 C116.64,188.41 116.76,187.45 116.93,186.48 C117.10,185.51 117.42,184.69 117.58,183.90 C117.74,183.11 117.75,182.36 117.89,181.75 C118.02,181.14 118.12,180.60 118.38,180.25 C118.65,179.89 119.13,179.60 119.50,179.60 Z" fill="url(#mg)" filter="url(#soft)"/>
<ellipse cx="122.0" cy="196.1" rx="1.2" ry="1.08" fill="#4a32b5" opacity="0.85"/>
<path d="M127.2,200.6 L128.6,200.6 L128.55,217.2 L127.85000000000002,217.2 Z" fill="#9c9c9c"/>
<path d="M127.90,179.60 C128.27,179.60 128.75,179.89 129.02,180.25 C129.28,180.60 129.38,181.14 129.51,181.75 C129.65,182.36 129.66,183.11 129.82,183.90 C129.98,184.69 130.30,185.51 130.47,186.48 C130.64,187.45 130.76,188.41 130.84,189.70 C130.93,190.99 130.99,192.75 131.00,194.22 C131.01,195.69 131.08,197.43 130.88,198.52 C130.67,199.61 130.26,200.35 129.76,200.78 C129.26,201.21 128.52,201.10 127.90,201.10 C127.28,201.10 126.54,201.21 126.04,200.78 C125.54,200.35 125.13,199.61 124.92,198.52 C124.72,197.43 124.79,195.69 124.80,194.22 C124.81,192.75 124.87,190.99 124.96,189.70 C125.04,188.41 125.16,187.45 125.33,186.48 C125.50,185.51 125.82,184.69 125.98,183.90 C126.14,183.11 126.15,182.36 126.29,181.75 C126.42,181.14 126.52,180.60 126.78,180.25 C127.05,179.89 127.53,179.60 127.90,179.60 Z" fill="url(#mg)" filter="url(#soft)"/>
<ellipse cx="126.4" cy="196.6" rx="1.2" ry="1.08" fill="#4a32b5" opacity="0.85"/>
<ellipse cx="129.4" cy="196.6" rx="1.0" ry="0.9" fill="#4a32b5" opacity="0.85"/>
<rect x="88" y="178" width="45" height="40" filter="url(#mtex)" opacity="0.22"/>
<rect x="135" y="178" width="45" height="40" fill="url(#pbg)"/>
<rect x="135.35" y="178.35" width="44.3" height="39.3" fill="none" stroke="#1c1c1c" stroke-width="0.7"/>
<path d="M140.60000000000002,200.6 L142.0,200.6 L141.95000000000002,217.2 L141.25000000000003,217.2 Z" fill="#9c9c9c"/>
<path d="M141.30,179.60 C141.67,179.60 142.15,179.89 142.42,180.25 C142.68,180.60 142.78,181.14 142.91,181.75 C143.05,182.36 143.06,183.11 143.22,183.90 C143.38,184.69 143.70,185.51 143.87,186.48 C144.04,187.45 144.16,188.41 144.25,189.70 C144.33,190.99 144.39,192.75 144.40,194.22 C144.41,195.69 144.48,197.43 144.28,198.52 C144.07,199.61 143.66,200.35 143.16,200.78 C142.66,201.21 141.92,201.10 141.30,201.10 C140.68,201.10 139.94,201.21 139.44,200.78 C138.94,200.35 138.53,199.61 138.32,198.52 C138.12,197.43 138.19,195.69 138.20,194.22 C138.21,192.75 138.27,190.99 138.36,189.70 C138.44,188.41 138.56,187.45 138.73,186.48 C138.90,185.51 139.22,184.69 139.38,183.90 C139.54,183.11 139.55,182.36 139.69,181.75 C139.82,181.14 139.92,180.60 140.18,180.25 C140.45,179.89 140.93,179.60 141.30,179.60 Z" fill="url(#mg)" filter="url(#soft)"/>
<path d="M149.00000000000003,200.6 L150.4,200.6 L150.35000000000002,217.2 L149.65000000000003,217.2 Z" fill="#9c9c9c"/>
<path d="M149.70,179.60 C150.07,179.60 150.55,179.89 150.82,180.25 C151.08,180.60 151.18,181.14 151.31,181.75 C151.45,182.36 151.46,183.11 151.62,183.90 C151.78,184.69 152.10,185.51 152.27,186.48 C152.44,187.45 152.56,188.41 152.65,189.70 C152.73,190.99 152.79,192.75 152.80,194.22 C152.81,195.69 152.88,197.43 152.68,198.52 C152.47,199.61 152.06,200.35 151.56,200.78 C151.06,201.21 150.32,201.10 149.70,201.10 C149.08,201.10 148.34,201.21 147.84,200.78 C147.34,200.35 146.93,199.61 146.72,198.52 C146.52,197.43 146.59,195.69 146.60,194.22 C146.61,192.75 146.67,190.99 146.76,189.70 C146.84,188.41 146.96,187.45 147.13,186.48 C147.30,185.51 147.62,184.69 147.78,183.90 C147.94,183.11 147.95,182.36 148.09,181.75 C148.22,181.14 148.32,180.60 148.58,180.25 C148.85,179.89 149.33,179.60 149.70,179.60 Z" fill="url(#mg)" filter="url(#soft)"/>
<path d="M157.40000000000003,200.6 L158.8,200.6 L158.75000000000003,217.2 L158.05000000000004,217.2 Z" fill="#9c9c9c"/>
<path d="M158.10,179.60 C158.47,179.60 158.95,179.89 159.22,180.25 C159.48,180.60 159.58,181.14 159.71,181.75 C159.85,182.36 159.86,183.11 160.02,183.90 C160.18,184.69 160.50,185.51 160.67,186.48 C160.84,187.45 160.96,188.41 161.05,189.70 C161.13,190.99 161.19,192.75 161.20,194.22 C161.21,195.69 161.28,197.43 161.08,198.52 C160.87,199.61 160.46,200.35 159.96,200.78 C159.46,201.21 158.72,201.10 158.10,201.10 C157.48,201.10 156.74,201.21 156.24,200.78 C155.74,200.35 155.33,199.61 155.12,198.52 C154.92,197.43 154.99,195.69 155.00,194.22 C155.01,192.75 155.07,190.99 155.16,189.70 C155.24,188.41 155.36,187.45 155.53,186.48 C155.70,185.51 156.02,184.69 156.18,183.90 C156.34,183.11 156.35,182.36 156.49,181.75 C156.62,181.14 156.72,180.60 156.98,180.25 C157.25,179.89 157.73,179.60 158.10,179.60 Z" fill="url(#mg)" filter="url(#soft)"/>
<path d="M165.8,200.6 L167.2,200.6 L167.15,217.2 L166.45000000000002,217.2 Z" fill="#9c9c9c"/>
<path d="M166.50,179.60 C166.87,179.60 167.35,179.89 167.62,180.25 C167.88,180.60 167.98,181.14 168.11,181.75 C168.25,182.36 168.26,183.11 168.42,183.90 C168.58,184.69 168.90,185.51 169.07,186.48 C169.24,187.45 169.36,188.41 169.44,189.70 C169.53,190.99 169.59,192.75 169.60,194.22 C169.61,195.69 169.68,197.43 169.48,198.52 C169.27,199.61 168.86,200.35 168.36,200.78 C167.86,201.21 167.12,201.10 166.50,201.10 C165.88,201.10 165.14,201.21 164.64,200.78 C164.14,200.35 163.73,199.61 163.52,198.52 C163.32,197.43 163.39,195.69 163.40,194.22 C163.41,192.75 163.47,190.99 163.56,189.70 C163.64,188.41 163.76,187.45 163.93,186.48 C164.10,185.51 164.42,184.69 164.58,183.90 C164.74,183.11 164.75,182.36 164.89,181.75 C165.02,181.14 165.12,180.60 165.38,180.25 C165.65,179.89 166.13,179.60 166.50,179.60 Z" fill="url(#mg)" filter="url(#soft)"/>
<path d="M174.20000000000002,200.6 L175.6,200.6 L175.55,217.2 L174.85000000000002,217.2 Z" fill="#9c9c9c"/>
<path d="M174.90,179.60 C175.27,179.60 175.75,179.89 176.02,180.25 C176.28,180.60 176.38,181.14 176.51,181.75 C176.65,182.36 176.66,183.11 176.82,183.90 C176.98,184.69 177.30,185.51 177.47,186.48 C177.64,187.45 177.76,188.41 177.84,189.70 C177.93,190.99 177.99,192.75 178.00,194.22 C178.01,195.69 178.08,197.43 177.88,198.52 C177.67,199.61 177.26,200.35 176.76,200.78 C176.26,201.21 175.52,201.10 174.90,201.10 C174.28,201.10 173.54,201.21 173.04,200.78 C172.54,200.35 172.13,199.61 171.92,198.52 C171.72,197.43 171.79,195.69 171.80,194.22 C171.81,192.75 171.87,190.99 171.96,189.70 C172.04,188.41 172.16,187.45 172.33,186.48 C172.50,185.51 172.82,184.69 172.98,183.90 C173.14,183.11 173.15,182.36 173.29,181.75 C173.42,181.14 173.52,180.60 173.78,180.25 C174.05,179.89 174.53,179.60 174.90,179.60 Z" fill="url(#mg)" filter="url(#soft)"/>
<rect x="135" y="178" width="45" height="40" filter="url(#mtex)" opacity="0.22"/>
<rect x="88" y="220" width="45" height="40" fill="url(#pbg2)"/>
<rect x="89" y="222.0" width="43" height="5.8" fill="#2e2e2e"/>
<rect x="89" y="221.0" width="43" height="1.0" fill="#7a7a7a"/>
<rect x="101.35" y="223.0" width="1.3" height="4.2" fill="#dcdcdc"/>
<rect x="109.44999999999999" y="223.0" width="1.3" height="4.2" fill="#dcdcdc"/>
<rect x="117.35" y="223.0" width="1.3" height="4.2" fill="#dcdcdc"/>
<rect x="88.35" y="220.35" width="44.3" height="39.3" fill="none" stroke="#1c1c1c" stroke-width="0.7"/>
<path d="M93.8,246.1 L95.2,246.1 L95.14999999999999,259.2 L94.45,259.2 Z" fill="#9c9c9c"/>
<path d="M94.50,222.60 C94.93,222.60 95.48,222.92 95.80,223.32 C96.11,223.72 96.22,224.32 96.37,225.00 C96.53,225.68 96.55,226.52 96.73,227.40 C96.92,228.28 97.29,229.20 97.49,230.28 C97.69,231.36 97.82,232.44 97.92,233.88 C98.02,235.32 98.09,237.28 98.10,238.92 C98.11,240.56 98.20,242.50 97.96,243.72 C97.72,244.94 97.24,245.76 96.66,246.24 C96.08,246.72 95.22,246.60 94.50,246.60 C93.78,246.60 92.92,246.72 92.34,246.24 C91.76,245.76 91.28,244.94 91.04,243.72 C90.80,242.50 90.89,240.56 90.90,238.92 C90.91,237.28 90.98,235.32 91.08,233.88 C91.18,232.44 91.31,231.36 91.51,230.28 C91.71,229.20 92.08,228.28 92.27,227.40 C92.45,226.52 92.47,225.68 92.63,225.00 C92.78,224.32 92.89,223.72 93.20,223.32 C93.52,222.92 94.07,222.60 94.50,222.60 Z" fill="url(#mg)" filter="url(#soft)"/>
<path d="M125.8,246.1 L127.2,246.1 L127.14999999999999,259.2 L126.45,259.2 Z" fill="#9c9c9c"/>
<path d="M126.50,222.60 C126.93,222.60 127.48,222.92 127.80,223.32 C128.11,223.72 128.22,224.32 128.37,225.00 C128.53,225.68 128.55,226.52 128.73,227.40 C128.92,228.28 129.29,229.20 129.49,230.28 C129.69,231.36 129.82,232.44 129.92,233.88 C130.02,235.32 130.09,237.28 130.10,238.92 C130.11,240.56 130.20,242.50 129.96,243.72 C129.72,244.94 129.24,245.76 128.66,246.24 C128.08,246.72 127.22,246.60 126.50,246.60 C125.78,246.60 124.92,246.72 124.34,246.24 C123.76,245.76 123.28,244.94 123.04,243.72 C122.80,242.50 122.89,240.56 122.90,238.92 C122.91,237.28 122.98,235.32 123.08,233.88 C123.18,232.44 123.31,231.36 123.51,230.28 C123.71,229.20 124.08,228.28 124.27,227.40 C124.45,226.52 124.47,225.68 124.63,225.00 C124.78,224.32 124.89,223.72 125.20,223.32 C125.52,222.92 126.07,222.60 126.50,222.60 Z" fill="url(#mg)" filter="url(#soft)"/>
<ellipse cx="126.5" cy="237.1" rx="3.0" ry="2.7" fill="#3d2fb0"/><ellipse cx="126.5" cy="237.1" rx="1.9500000000000002" ry="1.7999999999999998" fill="#3aa6c8"/><ellipse cx="126.5" cy="237.1" rx="1.0499999999999998" ry="0.8999999999999999" fill="#a8d040"/>
<ellipse cx="126.8" cy="236.4" rx="1.3" ry="1.1700000000000002" fill="#3d2fb0"/><ellipse cx="126.8" cy="236.4" rx="1.066" ry="0.9750000000000001" fill="#38b0c8"/><ellipse cx="126.8" cy="236.4" rx="0.8840000000000001" ry="0.806" fill="#f0d020"/><ellipse cx="126.8" cy="236.4" rx="0.7150000000000001" ry="0.65" fill="#e01010"/>
<rect x="88" y="220" width="45" height="40" filter="url(#mtex)" opacity="0.22"/>
<rect x="135" y="220" width="45" height="40" fill="url(#pbg)"/>
<rect x="135.35" y="220.35" width="44.3" height="39.3" fill="none" stroke="#1c1c1c" stroke-width="0.7"/>
<path d="M140.9,248.0 L142.29999999999998,248.0 L142.25,259.2 L141.55,259.2 Z" fill="#9c9c9c"/>
<path d="M141.60,223.50 C142.03,223.50 142.58,223.83 142.90,224.25 C143.21,224.67 143.32,225.29 143.47,226.00 C143.63,226.71 143.65,227.58 143.83,228.50 C144.02,229.42 144.39,230.38 144.59,231.50 C144.79,232.62 144.92,233.75 145.02,235.25 C145.12,236.75 145.19,238.79 145.20,240.50 C145.21,242.21 145.30,244.23 145.06,245.50 C144.82,246.77 144.34,247.62 143.76,248.12 C143.18,248.62 142.32,248.50 141.60,248.50 C140.88,248.50 140.02,248.62 139.44,248.12 C138.86,247.62 138.38,246.77 138.14,245.50 C137.90,244.23 137.99,242.21 138.00,240.50 C138.01,238.79 138.08,236.75 138.18,235.25 C138.28,233.75 138.41,232.62 138.61,231.50 C138.81,230.38 139.18,229.42 139.37,228.50 C139.55,227.58 139.57,226.71 139.73,226.00 C139.88,225.29 139.99,224.67 140.30,224.25 C140.62,223.83 141.17,223.50 141.60,223.50 Z" fill="url(#mg)" filter="url(#soft)"/>
<path d="M149.8,248.0 L151.2,248.0 L151.15,259.2 L150.45000000000002,259.2 Z" fill="#9c9c9c"/>
<path d="M150.50,223.50 C150.93,223.50 151.48,223.83 151.80,224.25 C152.11,224.67 152.22,225.29 152.37,226.00 C152.53,226.71 152.55,227.58 152.73,228.50 C152.92,229.42 153.29,230.38 153.49,231.50 C153.69,232.62 153.82,233.75 153.92,235.25 C154.02,236.75 154.09,238.79 154.10,240.50 C154.11,242.21 154.20,244.23 153.96,245.50 C153.72,246.77 153.24,247.62 152.66,248.12 C152.08,248.62 151.22,248.50 150.50,248.50 C149.78,248.50 148.92,248.62 148.34,248.12 C147.76,247.62 147.28,246.77 147.04,245.50 C146.80,244.23 146.89,242.21 146.90,240.50 C146.91,238.79 146.98,236.75 147.08,235.25 C147.18,233.75 147.31,232.62 147.51,231.50 C147.71,230.38 148.08,229.42 148.27,228.50 C148.45,227.58 148.47,226.71 148.63,226.00 C148.78,225.29 148.89,224.67 149.20,224.25 C149.52,223.83 150.07,223.50 150.50,223.50 Z" fill="url(#mg)" filter="url(#soft)"/>
<path d="M166.0,248.0 L167.39999999999998,248.0 L167.35,259.2 L166.65,259.2 Z" fill="#9c9c9c"/>
<path d="M166.70,223.50 C167.13,223.50 167.68,223.83 168.00,224.25 C168.31,224.67 168.42,225.29 168.57,226.00 C168.73,226.71 168.75,227.58 168.93,228.50 C169.12,229.42 169.49,230.38 169.69,231.50 C169.89,232.62 170.02,233.75 170.12,235.25 C170.22,236.75 170.29,238.79 170.30,240.50 C170.31,242.21 170.40,244.23 170.16,245.50 C169.92,246.77 169.44,247.62 168.86,248.12 C168.28,248.62 167.42,248.50 166.70,248.50 C165.98,248.50 165.12,248.62 164.54,248.12 C163.96,247.62 163.48,246.77 163.24,245.50 C163.00,244.23 163.09,242.21 163.10,240.50 C163.11,238.79 163.18,236.75 163.28,235.25 C163.38,233.75 163.51,232.62 163.71,231.50 C163.91,230.38 164.28,229.42 164.47,228.50 C164.65,227.58 164.67,226.71 164.83,226.00 C164.98,225.29 165.09,224.67 165.40,224.25 C165.72,223.83 166.27,223.50 166.70,223.50 Z" fill="url(#mg)" filter="url(#soft)"/>
<path d="M174.3,248.0 L175.7,248.0 L175.65,259.2 L174.95000000000002,259.2 Z" fill="#9c9c9c"/>
<path d="M175.00,223.50 C175.43,223.50 175.98,223.83 176.30,224.25 C176.61,224.67 176.72,225.29 176.87,226.00 C177.03,226.71 177.05,227.58 177.23,228.50 C177.42,229.42 177.79,230.38 177.99,231.50 C178.19,232.62 178.32,233.75 178.42,235.25 C178.52,236.75 178.59,238.79 178.60,240.50 C178.61,242.21 178.70,244.23 178.46,245.50 C178.22,246.77 177.74,247.62 177.16,248.12 C176.58,248.62 175.72,248.50 175.00,248.50 C174.28,248.50 173.42,248.62 172.84,248.12 C172.26,247.62 171.78,246.77 171.54,245.50 C171.30,244.23 171.39,242.21 171.40,240.50 C171.41,238.79 171.48,236.75 171.58,235.25 C171.68,233.75 171.81,232.62 172.01,231.50 C172.21,230.38 172.58,229.42 172.77,228.50 C172.95,227.58 172.97,226.71 173.13,226.00 C173.28,225.29 173.39,224.67 173.70,224.25 C174.02,223.83 174.57,223.50 175.00,223.50 Z" fill="url(#mg)" filter="url(#soft)"/>
<rect x="135" y="220" width="45" height="40" filter="url(#mtex)" opacity="0.22"/>
<circle cx="158.6" cy="233" r="0.9" fill="#fff"/>
<rect x="189" y="136.6" width="4" height="112.4" fill="url(#cbar)"/>
<line x1="193" y1="152" x2="194.3" y2="152" stroke="#555" stroke-width="0.4"/>
<line x1="193" y1="183" x2="194.3" y2="183" stroke="#555" stroke-width="0.4"/>
<line x1="193" y1="213" x2="194.3" y2="213" stroke="#555" stroke-width="0.4"/>
<line x1="193" y1="240" x2="194.3" y2="240" stroke="#555" stroke-width="0.4"/>
<line x1="193" y1="137" x2="195.5" y2="137" stroke="#333" stroke-width="0.5"/>
<text transform="translate(199,139.1) scale(0.8929,1)" font-size="6.608" text-anchor="start" font-weight="normal" fill="#231f20" >80000</text>
<line x1="193" y1="167.7" x2="195.5" y2="167.7" stroke="#333" stroke-width="0.5"/>
<text transform="translate(199,169.79999999999998) scale(0.8929,1)" font-size="6.608" text-anchor="start" font-weight="normal" fill="#231f20" >60000</text>
<line x1="193" y1="198.3" x2="195.5" y2="198.3" stroke="#333" stroke-width="0.5"/>
<text transform="translate(199,200.4) scale(0.8929,1)" font-size="6.608" text-anchor="start" font-weight="normal" fill="#231f20" >40000</text>
<line x1="193" y1="228.8" x2="195.5" y2="228.8" stroke="#333" stroke-width="0.5"/>
<text transform="translate(199,230.9) scale(0.8929,1)" font-size="6.608" text-anchor="start" font-weight="normal" fill="#231f20" >20000</text>
<text transform="translate(198.5,246.5) scale(0.8929,1)" font-size="6.608" text-anchor="start" font-weight="normal" fill="#231f20" >Radiance</text>
<text transform="translate(198.5,254.6) scale(0.8929,1)" font-size="6.944" text-anchor="start" font-weight="normal" fill="#231f20" >(p/sec/cm /sr)</text>
<rect x="188.6" y="259.9" width="40.5" height="24.8" fill="none" stroke="#111" stroke-width="0.85"/>
<text transform="translate(190.8,267.1) scale(0.8929,1)" font-size="6.944" text-anchor="start" font-weight="normal" fill="#231f20" >Color Scale</text>
<text transform="translate(190.8,274.3) scale(0.8929,1)" font-size="6.944" text-anchor="start" font-weight="normal" fill="#231f20" >Min= 8.00e3</text>
<text transform="translate(190.8,281.5) scale(0.8929,1)" font-size="6.944" text-anchor="start" font-weight="normal" fill="#231f20" >Max=8.00e4</text>
<text transform="translate(255.3,120.9) scale(0.92,1)" font-size="13.6" font-weight="bold" fill="#000" style="stroke:#000;stroke-width:0.5px">C</text>
<line x1="285.4" y1="134.3" x2="291.9" y2="134.3" stroke="#72bb4e" stroke-width="0.9"/>
<path d="M287.34999999999997,134.9 L288.65,133.0 L289.95,134.9 Z" fill="#72bb4e"/>
<text transform="translate(295.6,136.4) scale(0.8929,1)" font-size="6.944" text-anchor="start" font-weight="normal" fill="#231f20" >Raji alone</text>
<line x1="285.4" y1="141.9" x2="291.9" y2="141.9" stroke="#2f4d92" stroke-width="0.9"/>
<path d="M287.34999999999997,142.5 L288.65,140.6 L289.95,142.5 Z" fill="#2f4d92"/>
<text transform="translate(295.6,144.0) scale(0.8929,1)" font-size="6.944" text-anchor="start" font-weight="normal" fill="#231f20" >Raji + CAR19/IL-15 CTRL</text>
<line x1="285.4" y1="149.5" x2="291.9" y2="149.5" stroke="#c21d3c" stroke-width="0.9"/>
<path d="M287.34999999999997,150.1 L288.65,148.2 L289.95,150.1 Z" fill="#c21d3c"/>
<text transform="translate(295.6,151.6) scale(0.8929,1)" font-size="6.944" text-anchor="start" font-weight="normal" fill="#231f20" >Raji + CAR19/IL-15 CISH KO</text>
<line x1="286.2" y1="232.5" x2="375.3" y2="232.5" stroke="#1a1a1a" stroke-width="1.25"/>
<line x1="286.2" y1="233.125" x2="286.2" y2="160.0" stroke="#1a1a1a" stroke-width="1.25"/>
<line x1="282.7" y1="163.3" x2="286.2" y2="163.3" stroke="#1a1a1a" stroke-width="0.9"/>
<text transform="translate(278.9,165.45000000000002) scale(0.8929,1)" font-size="6.72" text-anchor="end" font-weight="normal" fill="#231f20" >100</text>
<line x1="282.7" y1="197.9" x2="286.2" y2="197.9" stroke="#1a1a1a" stroke-width="0.9"/>
<text transform="translate(278.9,200.05) scale(0.8929,1)" font-size="6.72" text-anchor="end" font-weight="normal" fill="#231f20" >50</text>
<line x1="282.7" y1="232.5" x2="286.2" y2="232.5" stroke="#1a1a1a" stroke-width="0.9"/>
<text transform="translate(278.9,234.65) scale(0.8929,1)" font-size="6.72" text-anchor="end" font-weight="normal" fill="#231f20" >0</text>
<line x1="286.2" y1="232.5" x2="286.2" y2="236.4" stroke="#1a1a1a" stroke-width="0.9"/>
<text transform="translate(286.2,245.4) scale(0.8929,1)" font-size="6.72" text-anchor="middle" font-weight="normal" fill="#231f20" >0</text>
<line x1="311.65" y1="232.5" x2="311.65" y2="236.4" stroke="#1a1a1a" stroke-width="0.9"/>
<text transform="translate(311.65,245.4) scale(0.8929,1)" font-size="6.72" text-anchor="middle" font-weight="normal" fill="#231f20" >10</text>
<line x1="337.09999999999997" y1="232.5" x2="337.09999999999997" y2="236.4" stroke="#1a1a1a" stroke-width="0.9"/>
<text transform="translate(337.09999999999997,245.4) scale(0.8929,1)" font-size="6.72" text-anchor="middle" font-weight="normal" fill="#231f20" >20</text>
<line x1="362.54999999999995" y1="232.5" x2="362.54999999999995" y2="236.4" stroke="#1a1a1a" stroke-width="0.9"/>
<text transform="translate(362.54999999999995,245.4) scale(0.8929,1)" font-size="6.72" text-anchor="middle" font-weight="normal" fill="#231f20" >30</text>
<polyline points="356.44,166.20 357.46,166.20 357.46,179.40 375.30,179.40 375.30,179.40" fill="none" stroke="#c21d3c" stroke-width="1.0" stroke-linejoin="miter"/>
<polyline points="286.70,166.20 354.91,166.20 354.91,179.40 357.46,179.40 357.46,192.40 360.00,192.40 360.00,218.66 362.55,218.66 362.55,232.20" fill="none" stroke="#2f4d92" stroke-width="1.0" stroke-linejoin="miter"/>
<polyline points="286.80,166.20 337.10,166.20 337.10,218.66 339.64,218.66 339.64,232.20" fill="none" stroke="#72bb4e" stroke-width="1.0" stroke-linejoin="miter"/>
<text transform="translate(368,175.6) scale(0.8929,1)" font-size="7.28" text-anchor="middle" font-weight="normal" fill="#231f20" >*</text>
<text transform="translate(364.8,203.8) scale(0.8929,1)" font-size="7.28" text-anchor="middle" font-weight="normal" fill="#231f20" >**</text>
<text transform="translate(262.9,197.1) rotate(-90) scale(0.7893,1)" font-size="8.624" text-anchor="middle" fill="#231f20">Percent survival</text>
<text transform="translate(330.8,257.8) scale(0.7411,1)" font-size="8.96" text-anchor="middle" font-weight="normal" fill="#231f20" >Time (days)</text>
<text transform="translate(394.8,120.4) scale(1.0,1)" font-size="13.6" font-weight="bold" fill="#000" style="stroke:#000;stroke-width:0.5px">D</text>
<line x1="420.4" y1="134.3" x2="426.9" y2="134.3" stroke="#72bb4e" stroke-width="0.9"/>
<circle cx="423.65" cy="134.3" r="1.2" fill="#72bb4e"/>
<text transform="translate(430.6,136.4) scale(0.8929,1)" font-size="6.944" text-anchor="start" font-weight="normal" fill="#231f20" >Raji alone</text>
<line x1="420.4" y1="141.9" x2="426.9" y2="141.9" stroke="#2f4d92" stroke-width="0.9"/>
<rect x="422.45" y="140.70000000000002" width="2.4" height="2.4" fill="#2f4d92"/>
<text transform="translate(430.6,144.0) scale(0.8929,1)" font-size="6.944" text-anchor="start" font-weight="normal" fill="#231f20" >Raji + CAR19/IL-15 CTRL</text>
<line x1="420.4" y1="149.5" x2="426.9" y2="149.5" stroke="#c21d3c" stroke-width="0.9"/>
<path d="M422.34999999999997,150.1 L423.65,148.2 L424.95,150.1 Z" fill="#c21d3c"/>
<text transform="translate(430.6,151.6) scale(0.8929,1)" font-size="6.944" text-anchor="start" font-weight="normal" fill="#231f20" >Raji + CAR19/IL-15 CISH KO</text>
<line x1="421.8" y1="232.6" x2="510.3" y2="232.6" stroke="#1a1a1a" stroke-width="1.25"/>
<line x1="421.8" y1="233.225" x2="421.8" y2="157.5" stroke="#1a1a1a" stroke-width="1.25"/>
<line x1="418.3" y1="159.5" x2="421.8" y2="159.5" stroke="#1a1a1a" stroke-width="0.9"/>
<text transform="translate(415.2,161.65) scale(0.8929,1)" font-size="6.944" text-anchor="end" font-weight="normal" fill="#231f20" >30</text>
<line x1="418.3" y1="177.775" x2="421.8" y2="177.775" stroke="#1a1a1a" stroke-width="0.9"/>
<text transform="translate(415.2,179.925) scale(0.8929,1)" font-size="6.944" text-anchor="end" font-weight="normal" fill="#231f20" >25</text>
<line x1="418.3" y1="196.05" x2="421.8" y2="196.05" stroke="#1a1a1a" stroke-width="0.9"/>
<text transform="translate(415.2,198.20000000000002) scale(0.8929,1)" font-size="6.944" text-anchor="end" font-weight="normal" fill="#231f20" >20</text>
<line x1="418.3" y1="214.325" x2="421.8" y2="214.325" stroke="#1a1a1a" stroke-width="0.9"/>
<text transform="translate(415.2,216.475) scale(0.8929,1)" font-size="6.944" text-anchor="end" font-weight="normal" fill="#231f20" >15</text>
<line x1="418.3" y1="232.6" x2="421.8" y2="232.6" stroke="#1a1a1a" stroke-width="0.9"/>
<text transform="translate(415.2,234.75) scale(0.8929,1)" font-size="6.944" text-anchor="end" font-weight="normal" fill="#231f20" >10</text>
<line x1="424.4" y1="232.6" x2="424.4" y2="235.6" stroke="#1a1a1a" stroke-width="0.9"/>
<text transform="translate(424.4,245.4) scale(0.8929,1)" font-size="6.832" text-anchor="middle" font-weight="normal" fill="#231f20" >0</text>
<line x1="434.9" y1="232.6" x2="434.9" y2="235.6" stroke="#1a1a1a" stroke-width="0.9"/>
<text transform="translate(434.9,245.4) scale(0.8929,1)" font-size="6.832" text-anchor="middle" font-weight="normal" fill="#231f20" >3</text>
<line x1="445.4" y1="232.6" x2="445.4" y2="235.6" stroke="#1a1a1a" stroke-width="0.9"/>
<text transform="translate(445.4,245.4) scale(0.8929,1)" font-size="6.832" text-anchor="middle" font-weight="normal" fill="#231f20" >9</text>
<line x1="455.9" y1="232.6" x2="455.9" y2="235.6" stroke="#1a1a1a" stroke-width="0.9"/>
<text transform="translate(455.9,245.4) scale(0.8929,1)" font-size="6.832" text-anchor="middle" font-weight="normal" fill="#231f20" >16</text>
<line x1="466.4" y1="232.6" x2="466.4" y2="235.6" stroke="#1a1a1a" stroke-width="0.9"/>
<text transform="translate(466.4,245.4) scale(0.8929,1)" font-size="6.832" text-anchor="middle" font-weight="normal" fill="#231f20" >21</text>
<line x1="476.9" y1="232.6" x2="476.9" y2="235.6" stroke="#1a1a1a" stroke-width="0.9"/>
<text transform="translate(476.9,245.4) scale(0.8929,1)" font-size="6.832" text-anchor="middle" font-weight="normal" fill="#231f20" >24</text>
<line x1="487.4" y1="232.6" x2="487.4" y2="235.6" stroke="#1a1a1a" stroke-width="0.9"/>
<text transform="translate(487.4,245.4) scale(0.8929,1)" font-size="6.832" text-anchor="middle" font-weight="normal" fill="#231f20" >28</text>
<line x1="497.9" y1="232.6" x2="497.9" y2="235.6" stroke="#1a1a1a" stroke-width="0.9"/>
<text transform="translate(497.9,245.4) scale(0.8929,1)" font-size="6.832" text-anchor="middle" font-weight="normal" fill="#231f20" >30</text>
<line x1="508.4" y1="232.6" x2="508.4" y2="235.6" stroke="#1a1a1a" stroke-width="0.9"/>
<text transform="translate(508.4,245.4) scale(0.8929,1)" font-size="6.832" text-anchor="middle" font-weight="normal" fill="#231f20" >35</text>
<line x1="424.40" y1="169.5" x2="424.40" y2="190" stroke="#c21d3c" stroke-width="0.85"/>
<line x1="422.90" y1="169.5" x2="425.90" y2="169.5" stroke="#c21d3c" stroke-width="0.85"/>
<line x1="422.90" y1="190" x2="425.90" y2="190" stroke="#c21d3c" stroke-width="0.85"/>
<line x1="429.65" y1="175.5" x2="429.65" y2="193" stroke="#c21d3c" stroke-width="0.85"/>
<line x1="428.15" y1="175.5" x2="431.15" y2="175.5" stroke="#c21d3c" stroke-width="0.85"/>
<line x1="428.15" y1="193" x2="431.15" y2="193" stroke="#c21d3c" stroke-width="0.85"/>
<line x1="434.90" y1="176.5" x2="434.90" y2="193" stroke="#c21d3c" stroke-width="0.85"/>
<line x1="433.40" y1="176.5" x2="436.40" y2="176.5" stroke="#c21d3c" stroke-width="0.85"/>
<line x1="433.40" y1="193" x2="436.40" y2="193" stroke="#c21d3c" stroke-width="0.85"/>
<line x1="440.15" y1="176.5" x2="440.15" y2="193" stroke="#c21d3c" stroke-width="0.85"/>
<line x1="438.65" y1="176.5" x2="441.65" y2="176.5" stroke="#c21d3c" stroke-width="0.85"/>
<line x1="438.65" y1="193" x2="441.65" y2="193" stroke="#c21d3c" stroke-width="0.85"/>
<line x1="445.40" y1="176.5" x2="445.40" y2="193" stroke="#c21d3c" stroke-width="0.85"/>
<line x1="443.90" y1="176.5" x2="446.90" y2="176.5" stroke="#c21d3c" stroke-width="0.85"/>
<line x1="443.90" y1="193" x2="446.90" y2="193" stroke="#c21d3c" stroke-width="0.85"/>
<line x1="450.65" y1="181" x2="450.65" y2="194" stroke="#c21d3c" stroke-width="0.85"/>
<line x1="449.15" y1="181" x2="452.15" y2="181" stroke="#c21d3c" stroke-width="0.85"/>
<line x1="449.15" y1="194" x2="452.15" y2="194" stroke="#c21d3c" stroke-width="0.85"/>
<line x1="455.90" y1="180" x2="455.90" y2="194" stroke="#c21d3c" stroke-width="0.85"/>
<line x1="454.40" y1="180" x2="457.40" y2="180" stroke="#c21d3c" stroke-width="0.85"/>
<line x1="454.40" y1="194" x2="457.40" y2="194" stroke="#c21d3c" stroke-width="0.85"/>
<line x1="461.15" y1="181.5" x2="461.15" y2="195" stroke="#c21d3c" stroke-width="0.85"/>
<line x1="459.65" y1="181.5" x2="462.65" y2="181.5" stroke="#c21d3c" stroke-width="0.85"/>
<line x1="459.65" y1="195" x2="462.65" y2="195" stroke="#c21d3c" stroke-width="0.85"/>
<line x1="466.40" y1="180.5" x2="466.40" y2="192" stroke="#c21d3c" stroke-width="0.85"/>
<line x1="464.90" y1="180.5" x2="467.90" y2="180.5" stroke="#c21d3c" stroke-width="0.85"/>
<line x1="464.90" y1="192" x2="467.90" y2="192" stroke="#c21d3c" stroke-width="0.85"/>
<line x1="471.65" y1="183" x2="471.65" y2="194" stroke="#c21d3c" stroke-width="0.85"/>
<line x1="470.15" y1="183" x2="473.15" y2="183" stroke="#c21d3c" stroke-width="0.85"/>
<line x1="470.15" y1="194" x2="473.15" y2="194" stroke="#c21d3c" stroke-width="0.85"/>
<line x1="476.90" y1="183.5" x2="476.90" y2="194" stroke="#c21d3c" stroke-width="0.85"/>
<line x1="475.40" y1="183.5" x2="478.40" y2="183.5" stroke="#c21d3c" stroke-width="0.85"/>
<line x1="475.40" y1="194" x2="478.40" y2="194" stroke="#c21d3c" stroke-width="0.85"/>
<line x1="482.15" y1="183.5" x2="482.15" y2="192" stroke="#c21d3c" stroke-width="0.85"/>
<line x1="480.65" y1="183.5" x2="483.65" y2="183.5" stroke="#c21d3c" stroke-width="0.85"/>
<line x1="480.65" y1="192" x2="483.65" y2="192" stroke="#c21d3c" stroke-width="0.85"/>
<line x1="487.40" y1="181" x2="487.40" y2="190" stroke="#c21d3c" stroke-width="0.85"/>
<line x1="485.90" y1="181" x2="488.90" y2="181" stroke="#c21d3c" stroke-width="0.85"/>
<line x1="485.90" y1="190" x2="488.90" y2="190" stroke="#c21d3c" stroke-width="0.85"/>
<line x1="492.65" y1="183" x2="492.65" y2="193" stroke="#c21d3c" stroke-width="0.85"/>
<line x1="491.15" y1="183" x2="494.15" y2="183" stroke="#c21d3c" stroke-width="0.85"/>
<line x1="491.15" y1="193" x2="494.15" y2="193" stroke="#c21d3c" stroke-width="0.85"/>
<line x1="497.90" y1="183.5" x2="497.90" y2="191.5" stroke="#c21d3c" stroke-width="0.85"/>
<line x1="496.40" y1="183.5" x2="499.40" y2="183.5" stroke="#c21d3c" stroke-width="0.85"/>
<line x1="496.40" y1="191.5" x2="499.40" y2="191.5" stroke="#c21d3c" stroke-width="0.85"/>
<line x1="503.15" y1="183.5" x2="503.15" y2="193" stroke="#c21d3c" stroke-width="0.85"/>
<line x1="501.65" y1="183.5" x2="504.65" y2="183.5" stroke="#c21d3c" stroke-width="0.85"/>
<line x1="501.65" y1="193" x2="504.65" y2="193" stroke="#c21d3c" stroke-width="0.85"/>
<line x1="508.40" y1="180.5" x2="508.40" y2="186" stroke="#c21d3c" stroke-width="0.85"/>
<line x1="506.90" y1="180.5" x2="509.90" y2="180.5" stroke="#c21d3c" stroke-width="0.85"/>
<line x1="506.90" y1="186" x2="509.90" y2="186" stroke="#c21d3c" stroke-width="0.85"/>
<line x1="424.40" y1="176" x2="424.40" y2="189" stroke="#2f4d92" stroke-width="0.85"/>
<line x1="422.90" y1="176" x2="425.90" y2="176" stroke="#2f4d92" stroke-width="0.85"/>
<line x1="422.90" y1="189" x2="425.90" y2="189" stroke="#2f4d92" stroke-width="0.85"/>
<line x1="429.65" y1="178" x2="429.65" y2="191" stroke="#2f4d92" stroke-width="0.85"/>
<line x1="428.15" y1="178" x2="431.15" y2="178" stroke="#2f4d92" stroke-width="0.85"/>
<line x1="428.15" y1="191" x2="431.15" y2="191" stroke="#2f4d92" stroke-width="0.85"/>
<line x1="434.90" y1="178" x2="434.90" y2="192" stroke="#2f4d92" stroke-width="0.85"/>
<line x1="433.40" y1="178" x2="436.40" y2="178" stroke="#2f4d92" stroke-width="0.85"/>
<line x1="433.40" y1="192" x2="436.40" y2="192" stroke="#2f4d92" stroke-width="0.85"/>
<line x1="440.15" y1="178" x2="440.15" y2="191.5" stroke="#2f4d92" stroke-width="0.85"/>
<line x1="438.65" y1="178" x2="441.65" y2="178" stroke="#2f4d92" stroke-width="0.85"/>
<line x1="438.65" y1="191.5" x2="441.65" y2="191.5" stroke="#2f4d92" stroke-width="0.85"/>
<line x1="445.40" y1="180" x2="445.40" y2="191" stroke="#2f4d92" stroke-width="0.85"/>
<line x1="443.90" y1="180" x2="446.90" y2="180" stroke="#2f4d92" stroke-width="0.85"/>
<line x1="443.90" y1="191" x2="446.90" y2="191" stroke="#2f4d92" stroke-width="0.85"/>
<line x1="450.65" y1="182" x2="450.65" y2="194" stroke="#2f4d92" stroke-width="0.85"/>
<line x1="449.15" y1="182" x2="452.15" y2="182" stroke="#2f4d92" stroke-width="0.85"/>
<line x1="449.15" y1="194" x2="452.15" y2="194" stroke="#2f4d92" stroke-width="0.85"/>
<line x1="455.90" y1="183" x2="455.90" y2="193" stroke="#2f4d92" stroke-width="0.85"/>
<line x1="454.40" y1="183" x2="457.40" y2="183" stroke="#2f4d92" stroke-width="0.85"/>
<line x1="454.40" y1="193" x2="457.40" y2="193" stroke="#2f4d92" stroke-width="0.85"/>
<line x1="461.15" y1="184" x2="461.15" y2="194.5" stroke="#2f4d92" stroke-width="0.85"/>
<line x1="459.65" y1="184" x2="462.65" y2="184" stroke="#2f4d92" stroke-width="0.85"/>
<line x1="459.65" y1="194.5" x2="462.65" y2="194.5" stroke="#2f4d92" stroke-width="0.85"/>
<line x1="466.40" y1="183" x2="466.40" y2="198" stroke="#2f4d92" stroke-width="0.85"/>
<line x1="464.90" y1="183" x2="467.90" y2="183" stroke="#2f4d92" stroke-width="0.85"/>
<line x1="464.90" y1="198" x2="467.90" y2="198" stroke="#2f4d92" stroke-width="0.85"/>
<line x1="471.65" y1="182.5" x2="471.65" y2="201" stroke="#2f4d92" stroke-width="0.85"/>
<line x1="470.15" y1="182.5" x2="473.15" y2="182.5" stroke="#2f4d92" stroke-width="0.85"/>
<line x1="470.15" y1="201" x2="473.15" y2="201" stroke="#2f4d92" stroke-width="0.85"/>
<line x1="476.90" y1="178.5" x2="476.90" y2="201.5" stroke="#2f4d92" stroke-width="0.85"/>
<line x1="475.40" y1="178.5" x2="478.40" y2="178.5" stroke="#2f4d92" stroke-width="0.85"/>
<line x1="475.40" y1="201.5" x2="478.40" y2="201.5" stroke="#2f4d92" stroke-width="0.85"/>
<line x1="482.15" y1="181.5" x2="482.15" y2="215.5" stroke="#2f4d92" stroke-width="0.85"/>
<line x1="480.65" y1="181.5" x2="483.65" y2="181.5" stroke="#2f4d92" stroke-width="0.85"/>
<line x1="480.65" y1="215.5" x2="483.65" y2="215.5" stroke="#2f4d92" stroke-width="0.85"/>
<line x1="487.40" y1="179" x2="487.40" y2="210.5" stroke="#2f4d92" stroke-width="0.85"/>
<line x1="485.90" y1="179" x2="488.90" y2="179" stroke="#2f4d92" stroke-width="0.85"/>
<line x1="485.90" y1="210.5" x2="488.90" y2="210.5" stroke="#2f4d92" stroke-width="0.85"/>
<line x1="492.65" y1="177.5" x2="492.65" y2="211" stroke="#2f4d92" stroke-width="0.85"/>
<line x1="491.15" y1="177.5" x2="494.15" y2="177.5" stroke="#2f4d92" stroke-width="0.85"/>
<line x1="491.15" y1="211" x2="494.15" y2="211" stroke="#2f4d92" stroke-width="0.85"/>
<line x1="424.40" y1="173.5" x2="424.40" y2="188" stroke="#72bb4e" stroke-width="0.85"/>
<line x1="422.90" y1="173.5" x2="425.90" y2="173.5" stroke="#72bb4e" stroke-width="0.85"/>
<line x1="422.90" y1="188" x2="425.90" y2="188" stroke="#72bb4e" stroke-width="0.85"/>
<line x1="429.65" y1="179" x2="429.65" y2="192" stroke="#72bb4e" stroke-width="0.85"/>
<line x1="428.15" y1="179" x2="431.15" y2="179" stroke="#72bb4e" stroke-width="0.85"/>
<line x1="428.15" y1="192" x2="431.15" y2="192" stroke="#72bb4e" stroke-width="0.85"/>
<line x1="434.90" y1="180" x2="434.90" y2="192" stroke="#72bb4e" stroke-width="0.85"/>
<line x1="433.40" y1="180" x2="436.40" y2="180" stroke="#72bb4e" stroke-width="0.85"/>
<line x1="433.40" y1="192" x2="436.40" y2="192" stroke="#72bb4e" stroke-width="0.85"/>
<line x1="440.15" y1="174.5" x2="440.15" y2="192" stroke="#72bb4e" stroke-width="0.85"/>
<line x1="438.65" y1="174.5" x2="441.65" y2="174.5" stroke="#72bb4e" stroke-width="0.85"/>
<line x1="438.65" y1="192" x2="441.65" y2="192" stroke="#72bb4e" stroke-width="0.85"/>
<line x1="445.40" y1="177" x2="445.40" y2="195" stroke="#72bb4e" stroke-width="0.85"/>
<line x1="443.90" y1="177" x2="446.90" y2="177" stroke="#72bb4e" stroke-width="0.85"/>
<line x1="443.90" y1="195" x2="446.90" y2="195" stroke="#72bb4e" stroke-width="0.85"/>
<line x1="450.65" y1="181" x2="450.65" y2="195" stroke="#72bb4e" stroke-width="0.85"/>
<line x1="449.15" y1="181" x2="452.15" y2="181" stroke="#72bb4e" stroke-width="0.85"/>
<line x1="449.15" y1="195" x2="452.15" y2="195" stroke="#72bb4e" stroke-width="0.85"/>
<line x1="455.90" y1="181" x2="455.90" y2="197.5" stroke="#72bb4e" stroke-width="0.85"/>
<line x1="454.40" y1="181" x2="457.40" y2="181" stroke="#72bb4e" stroke-width="0.85"/>
<line x1="454.40" y1="197.5" x2="457.40" y2="197.5" stroke="#72bb4e" stroke-width="0.85"/>
<line x1="461.15" y1="191.5" x2="461.15" y2="199.5" stroke="#72bb4e" stroke-width="0.85"/>
<line x1="459.65" y1="191.5" x2="462.65" y2="191.5" stroke="#72bb4e" stroke-width="0.85"/>
<line x1="459.65" y1="199.5" x2="462.65" y2="199.5" stroke="#72bb4e" stroke-width="0.85"/>
<line x1="466.40" y1="190.5" x2="466.40" y2="198" stroke="#72bb4e" stroke-width="0.85"/>
<line x1="464.90" y1="190.5" x2="467.90" y2="190.5" stroke="#72bb4e" stroke-width="0.85"/>
<line x1="464.90" y1="198" x2="467.90" y2="198" stroke="#72bb4e" stroke-width="0.85"/>
<polyline points="424.40,180.00 429.65,184.00 434.90,185.50 440.15,184.50 445.40,184.50 450.65,187.50 455.90,187.50 461.15,188.50 466.40,186.00 471.65,188.50 476.90,189.00 482.15,186.50 487.40,185.00 492.65,188.50 497.90,187.50 503.15,188.50 508.40,184.50" fill="none" stroke="#c21d3c" stroke-width="1.3" stroke-linejoin="miter"/>
<path d="M422.96,180.96 L424.40,178.56 L425.84,180.96 Z" fill="#c21d3c"/>
<path d="M428.21,184.96 L429.65,182.56 L431.09,184.96 Z" fill="#c21d3c"/>
<path d="M433.46,186.46 L434.90,184.06 L436.34,186.46 Z" fill="#c21d3c"/>
<path d="M438.71,185.46 L440.15,183.06 L441.59,185.46 Z" fill="#c21d3c"/>
<path d="M443.96,185.46 L445.40,183.06 L446.84,185.46 Z" fill="#c21d3c"/>
<path d="M449.21,188.46 L450.65,186.06 L452.09,188.46 Z" fill="#c21d3c"/>
<path d="M454.46,188.46 L455.90,186.06 L457.34,188.46 Z" fill="#c21d3c"/>
<path d="M459.71,189.46 L461.15,187.06 L462.59,189.46 Z" fill="#c21d3c"/>
<path d="M464.96,186.96 L466.40,184.56 L467.84,186.96 Z" fill="#c21d3c"/>
<path d="M470.21,189.46 L471.65,187.06 L473.09,189.46 Z" fill="#c21d3c"/>
<path d="M475.46,189.96 L476.90,187.56 L478.34,189.96 Z" fill="#c21d3c"/>
<path d="M480.71,187.46 L482.15,185.06 L483.59,187.46 Z" fill="#c21d3c"/>
<path d="M485.96,185.96 L487.40,183.56 L488.84,185.96 Z" fill="#c21d3c"/>
<path d="M491.21,189.46 L492.65,187.06 L494.09,189.46 Z" fill="#c21d3c"/>
<path d="M496.46,188.46 L497.90,186.06 L499.34,188.46 Z" fill="#c21d3c"/>
<path d="M501.71,189.46 L503.15,187.06 L504.59,189.46 Z" fill="#c21d3c"/>
<path d="M506.96,185.46 L508.40,183.06 L509.84,185.46 Z" fill="#c21d3c"/>
<polyline points="424.40,182.00 429.65,184.00 434.90,185.00 440.15,184.50 445.40,185.00 450.65,188.00 455.90,188.00 461.15,189.00 466.40,189.50 471.65,191.50 476.90,190.50 482.15,199.00 487.40,194.50 492.65,194.20 497.90,194.50" fill="none" stroke="#2f4d92" stroke-width="1.3" stroke-linejoin="miter"/>
<rect x="423.25" y="180.85" width="2.3" height="2.3" fill="#2f4d92"/>
<rect x="428.50" y="182.85" width="2.3" height="2.3" fill="#2f4d92"/>
<rect x="433.75" y="183.85" width="2.3" height="2.3" fill="#2f4d92"/>
<rect x="439.00" y="183.35" width="2.3" height="2.3" fill="#2f4d92"/>
<rect x="444.25" y="183.85" width="2.3" height="2.3" fill="#2f4d92"/>
<rect x="449.50" y="186.85" width="2.3" height="2.3" fill="#2f4d92"/>
<rect x="454.75" y="186.85" width="2.3" height="2.3" fill="#2f4d92"/>
<rect x="460.00" y="187.85" width="2.3" height="2.3" fill="#2f4d92"/>
<rect x="465.25" y="188.35" width="2.3" height="2.3" fill="#2f4d92"/>
<rect x="470.50" y="190.35" width="2.3" height="2.3" fill="#2f4d92"/>
<rect x="475.75" y="189.35" width="2.3" height="2.3" fill="#2f4d92"/>
<rect x="481.00" y="197.85" width="2.3" height="2.3" fill="#2f4d92"/>
<rect x="486.25" y="193.35" width="2.3" height="2.3" fill="#2f4d92"/>
<rect x="491.50" y="193.04999999999998" width="2.3" height="2.3" fill="#2f4d92"/>
<rect x="496.75" y="193.35" width="2.3" height="2.3" fill="#2f4d92"/>
<polyline points="424.40,180.00 429.65,184.00 434.90,185.50 440.15,184.00 445.40,185.50 450.65,188.00 455.90,189.00 461.15,194.00 466.40,195.00" fill="none" stroke="#72bb4e" stroke-width="1.3" stroke-linejoin="miter"/>
<circle cx="424.40" cy="180" r="1.35" fill="#72bb4e"/>
<circle cx="429.65" cy="184" r="1.35" fill="#72bb4e"/>
<circle cx="434.90" cy="185.5" r="1.35" fill="#72bb4e"/>
<circle cx="440.15" cy="184" r="1.35" fill="#72bb4e"/>
<circle cx="445.40" cy="185.5" r="1.35" fill="#72bb4e"/>
<circle cx="450.65" cy="188" r="1.35" fill="#72bb4e"/>
<circle cx="455.90" cy="189" r="1.35" fill="#72bb4e"/>
<circle cx="461.15" cy="194" r="1.35" fill="#72bb4e"/>
<circle cx="466.40" cy="195" r="1.35" fill="#72bb4e"/>
<text transform="translate(402.0,194.5) rotate(-90) scale(0.8036,1)" font-size="8.624" text-anchor="middle" fill="#231f20">Body weight (grams)</text>
<text transform="translate(466.0,257.8) scale(0.7411,1)" font-size="8.96" text-anchor="middle" font-weight="normal" fill="#231f20" >Time (days)</text>
<text transform="translate(8.6,313.5) scale(0.83,1)" font-size="13.6" font-weight="bold" fill="#000" style="stroke:#000;stroke-width:0.5px">E</text>
<text transform="translate(63.8,309.1) scale(0.8929,1)" font-size="6.944" text-anchor="middle" font-weight="normal" fill="#231f20" >Raji (R)</text>
<text transform="translate(63.8,316.4) scale(0.8929,1)" font-size="6.944" text-anchor="middle" font-weight="normal" fill="#231f20" >alone</text>
<text transform="translate(116.9,309.1) scale(0.8929,1)" font-size="6.944" text-anchor="middle" font-weight="normal" fill="#231f20" >R+CAR19/IL-15</text>
<text transform="translate(116.9,316.4) scale(0.8929,1)" font-size="6.944" text-anchor="middle" font-weight="normal" fill="#231f20" >CTRL 3x10<tspan font-size="3.6" dy="-2.4">6</tspan></text>
<text transform="translate(168.9,309.1) scale(0.8929,1)" font-size="6.944" text-anchor="middle" font-weight="normal" fill="#231f20" >R+CAR19/IL-15</text>
<text transform="translate(168.9,316.4) scale(0.8929,1)" font-size="6.944" text-anchor="middle" font-weight="normal" fill="#231f20" >CISHKO 3x10<tspan font-size="3.6" dy="-2.4">6</tspan></text>
<text transform="translate(217.9,309.1) scale(0.8929,1)" font-size="6.944" text-anchor="middle" font-weight="normal" fill="#231f20" >R+CAR19/IL-15</text>
<text transform="translate(217.9,316.4) scale(0.8929,1)" font-size="6.944" text-anchor="middle" font-weight="normal" fill="#231f20" >CTRL 10x10<tspan font-size="3.6" dy="-2.4">6</tspan></text>
<text transform="translate(265.0,309.1) scale(0.8929,1)" font-size="6.944" text-anchor="middle" font-weight="normal" fill="#231f20" >R+CAR19/IL-15</text>
<text transform="translate(265.0,316.4) scale(0.8929,1)" font-size="6.944" text-anchor="middle" font-weight="normal" fill="#231f20" >CISHKO 10x10<tspan font-size="3.6" dy="-2.4">6</tspan></text>
<text transform="translate(35.3,334.0) rotate(-90) scale(0.8929,1)" font-size="6.944" text-anchor="middle" fill="#231f20">Day 0</text>
<text transform="translate(35.3,366.25) rotate(-90) scale(0.8929,1)" font-size="6.944" text-anchor="middle" fill="#231f20">Day 10</text>
<text transform="translate(35.3,399.5) rotate(-90) scale(0.8929,1)" font-size="6.944" text-anchor="middle" fill="#231f20">Day 17</text>
<text transform="translate(35.3,433.25) rotate(-90) scale(0.8929,1)" font-size="6.944" text-anchor="middle" fill="#231f20">Day 24</text>
<text transform="translate(139.2,466.5) rotate(-90) scale(0.8929,1)" font-size="6.944" text-anchor="middle" fill="#231f20">Day 31</text>
<text transform="translate(139.2,500.0) rotate(-90) scale(0.8929,1)" font-size="6.944" text-anchor="middle" fill="#231f20">Day 38</text>
<text transform="translate(139.2,532.0) rotate(-90) scale(0.8929,1)" font-size="6.944" text-anchor="middle" fill="#231f20">Day 46</text>
<text transform="translate(239.6,565.6) rotate(-90) scale(0.8929,1)" font-size="6.944" text-anchor="middle" fill="#231f20">Day 341</text>
<rect x="40" y="319" width="49.5" height="30" fill="url(#pbg)"/>
<rect x="40.35" y="319.35" width="48.8" height="29.3" fill="none" stroke="#1c1c1c" stroke-width="0.7"/>
<path d="M45.199999999999996,337.6 L46.6,337.6 L46.55,348.2 L45.849999999999994,348.2 Z" fill="#9c9c9c"/>
<path d="M45.90,320.60 C46.33,320.60 46.88,320.83 47.20,321.12 C47.51,321.42 47.62,321.85 47.77,322.35 C47.93,322.85 47.95,323.46 48.13,324.10 C48.32,324.74 48.69,325.41 48.89,326.20 C49.09,326.99 49.22,327.78 49.32,328.83 C49.42,329.88 49.49,331.30 49.50,332.50 C49.51,333.70 49.60,335.11 49.36,336.00 C49.12,336.89 48.64,337.49 48.06,337.84 C47.48,338.19 46.62,338.10 45.90,338.10 C45.18,338.10 44.32,338.19 43.74,337.84 C43.16,337.49 42.68,336.89 42.44,336.00 C42.20,335.11 42.29,333.70 42.30,332.50 C42.31,331.30 42.38,329.88 42.48,328.83 C42.58,327.78 42.71,326.99 42.91,326.20 C43.11,325.41 43.48,324.74 43.67,324.10 C43.85,323.46 43.87,322.85 44.03,322.35 C44.18,321.85 44.29,321.42 44.60,321.12 C44.92,320.83 45.47,320.60 45.90,320.60 Z" fill="url(#mg)" filter="url(#soft)"/>
<path d="M54.5,337.6 L55.900000000000006,337.6 L55.85,348.2 L55.15,348.2 Z" fill="#9c9c9c"/>
<path d="M55.20,320.60 C55.63,320.60 56.18,320.83 56.50,321.12 C56.81,321.42 56.92,321.85 57.07,322.35 C57.23,322.85 57.25,323.46 57.43,324.10 C57.62,324.74 57.99,325.41 58.19,326.20 C58.39,326.99 58.52,327.78 58.62,328.83 C58.72,329.88 58.79,331.30 58.80,332.50 C58.81,333.70 58.90,335.11 58.66,336.00 C58.42,336.89 57.94,337.49 57.36,337.84 C56.78,338.19 55.92,338.10 55.20,338.10 C54.48,338.10 53.62,338.19 53.04,337.84 C52.46,337.49 51.98,336.89 51.74,336.00 C51.50,335.11 51.59,333.70 51.60,332.50 C51.61,331.30 51.68,329.88 51.78,328.83 C51.88,327.78 52.01,326.99 52.21,326.20 C52.41,325.41 52.78,324.74 52.97,324.10 C53.15,323.46 53.17,322.85 53.33,322.35 C53.48,321.85 53.59,321.42 53.90,321.12 C54.22,320.83 54.77,320.60 55.20,320.60 Z" fill="url(#mg)" filter="url(#soft)"/>
<path d="M63.89999999999999,337.6 L65.3,337.6 L65.24999999999999,348.2 L64.55,348.2 Z" fill="#9c9c9c"/>
<path d="M64.60,320.60 C65.03,320.60 65.58,320.83 65.90,321.12 C66.21,321.42 66.32,321.85 66.47,322.35 C66.63,322.85 66.65,323.46 66.83,324.10 C67.02,324.74 67.39,325.41 67.59,326.20 C67.79,326.99 67.92,327.78 68.02,328.83 C68.12,329.88 68.19,331.30 68.20,332.50 C68.21,333.70 68.30,335.11 68.06,336.00 C67.82,336.89 67.34,337.49 66.76,337.84 C66.18,338.19 65.32,338.10 64.60,338.10 C63.88,338.10 63.02,338.19 62.44,337.84 C61.86,337.49 61.38,336.89 61.14,336.00 C60.90,335.11 60.99,333.70 61.00,332.50 C61.01,331.30 61.08,329.88 61.18,328.83 C61.28,327.78 61.41,326.99 61.61,326.20 C61.81,325.41 62.18,324.74 62.37,324.10 C62.55,323.46 62.57,322.85 62.73,322.35 C62.88,321.85 62.99,321.42 63.30,321.12 C63.62,320.83 64.17,320.60 64.60,320.60 Z" fill="url(#mg)" filter="url(#soft)"/>
<path d="M73.3,337.6 L74.7,337.6 L74.64999999999999,348.2 L73.95,348.2 Z" fill="#9c9c9c"/>
<path d="M74.00,320.60 C74.43,320.60 74.98,320.83 75.30,321.12 C75.61,321.42 75.72,321.85 75.87,322.35 C76.03,322.85 76.05,323.46 76.23,324.10 C76.42,324.74 76.79,325.41 76.99,326.20 C77.19,326.99 77.32,327.78 77.42,328.83 C77.52,329.88 77.59,331.30 77.60,332.50 C77.61,333.70 77.70,335.11 77.46,336.00 C77.22,336.89 76.74,337.49 76.16,337.84 C75.58,338.19 74.72,338.10 74.00,338.10 C73.28,338.10 72.42,338.19 71.84,337.84 C71.26,337.49 70.78,336.89 70.54,336.00 C70.30,335.11 70.39,333.70 70.40,332.50 C70.41,331.30 70.48,329.88 70.58,328.83 C70.68,327.78 70.81,326.99 71.01,326.20 C71.21,325.41 71.58,324.74 71.77,324.10 C71.95,323.46 71.97,322.85 72.13,322.35 C72.28,321.85 72.39,321.42 72.70,321.12 C73.02,320.83 73.57,320.60 74.00,320.60 Z" fill="url(#mg)" filter="url(#soft)"/>
<path d="M82.6,337.6 L84.0,337.6 L83.94999999999999,348.2 L83.25,348.2 Z" fill="#9c9c9c"/>
<path d="M83.30,320.60 C83.73,320.60 84.28,320.83 84.60,321.12 C84.91,321.42 85.02,321.85 85.17,322.35 C85.33,322.85 85.35,323.46 85.53,324.10 C85.72,324.74 86.09,325.41 86.29,326.20 C86.49,326.99 86.62,327.78 86.72,328.83 C86.82,329.88 86.89,331.30 86.90,332.50 C86.91,333.70 87.00,335.11 86.76,336.00 C86.52,336.89 86.04,337.49 85.46,337.84 C84.88,338.19 84.02,338.10 83.30,338.10 C82.58,338.10 81.72,338.19 81.14,337.84 C80.56,337.49 80.08,336.89 79.84,336.00 C79.60,335.11 79.69,333.70 79.70,332.50 C79.71,331.30 79.78,329.88 79.88,328.83 C79.98,327.78 80.11,326.99 80.31,326.20 C80.51,325.41 80.88,324.74 81.07,324.10 C81.25,323.46 81.27,322.85 81.43,322.35 C81.58,321.85 81.69,321.42 82.00,321.12 C82.32,320.83 82.87,320.60 83.30,320.60 Z" fill="url(#mg)" filter="url(#soft)"/>
<rect x="40" y="319" width="49.5" height="30" filter="url(#mtex)" opacity="0.22"/>
<rect x="91.5" y="319" width="50.0" height="30" fill="url(#pbg)"/>
<rect x="91.85" y="319.35" width="49.3" height="29.3" fill="none" stroke="#1c1c1c" stroke-width="0.7"/>
<path d="M97.5,337.6 L98.9,337.6 L98.85,348.2 L98.15,348.2 Z" fill="#9c9c9c"/>
<path d="M98.20,320.60 C98.63,320.60 99.18,320.83 99.50,321.12 C99.81,321.42 99.92,321.85 100.07,322.35 C100.23,322.85 100.25,323.46 100.43,324.10 C100.62,324.74 100.99,325.41 101.19,326.20 C101.39,326.99 101.52,327.78 101.62,328.83 C101.72,329.88 101.79,331.30 101.80,332.50 C101.81,333.70 101.90,335.11 101.66,336.00 C101.42,336.89 100.94,337.49 100.36,337.84 C99.78,338.19 98.92,338.10 98.20,338.10 C97.48,338.10 96.62,338.19 96.04,337.84 C95.46,337.49 94.98,336.89 94.74,336.00 C94.50,335.11 94.59,333.70 94.60,332.50 C94.61,331.30 94.68,329.88 94.78,328.83 C94.88,327.78 95.01,326.99 95.21,326.20 C95.41,325.41 95.78,324.74 95.97,324.10 C96.15,323.46 96.17,322.85 96.33,322.35 C96.48,321.85 96.59,321.42 96.90,321.12 C97.22,320.83 97.77,320.60 98.20,320.60 Z" fill="url(#mg)" filter="url(#soft)"/>
<path d="M106.7,337.6 L108.10000000000001,337.6 L108.05,348.2 L107.35000000000001,348.2 Z" fill="#9c9c9c"/>
<path d="M107.40,320.60 C107.83,320.60 108.38,320.83 108.70,321.12 C109.01,321.42 109.12,321.85 109.27,322.35 C109.43,322.85 109.45,323.46 109.63,324.10 C109.82,324.74 110.19,325.41 110.39,326.20 C110.59,326.99 110.72,327.78 110.82,328.83 C110.92,329.88 110.99,331.30 111.00,332.50 C111.01,333.70 111.10,335.11 110.86,336.00 C110.62,336.89 110.14,337.49 109.56,337.84 C108.98,338.19 108.12,338.10 107.40,338.10 C106.68,338.10 105.82,338.19 105.24,337.84 C104.66,337.49 104.18,336.89 103.94,336.00 C103.70,335.11 103.79,333.70 103.80,332.50 C103.81,331.30 103.88,329.88 103.98,328.83 C104.08,327.78 104.21,326.99 104.41,326.20 C104.61,325.41 104.98,324.74 105.17,324.10 C105.35,323.46 105.37,322.85 105.53,322.35 C105.68,321.85 105.79,321.42 106.10,321.12 C106.42,320.83 106.97,320.60 107.40,320.60 Z" fill="url(#mg)" filter="url(#soft)"/>
<path d="M115.89999999999999,337.6 L117.3,337.6 L117.24999999999999,348.2 L116.55,348.2 Z" fill="#9c9c9c"/>
<path d="M116.60,320.60 C117.03,320.60 117.58,320.83 117.90,321.12 C118.21,321.42 118.32,321.85 118.47,322.35 C118.63,322.85 118.65,323.46 118.83,324.10 C119.02,324.74 119.39,325.41 119.59,326.20 C119.79,326.99 119.92,327.78 120.02,328.83 C120.12,329.88 120.19,331.30 120.20,332.50 C120.21,333.70 120.30,335.11 120.06,336.00 C119.82,336.89 119.34,337.49 118.76,337.84 C118.18,338.19 117.32,338.10 116.60,338.10 C115.88,338.10 115.02,338.19 114.44,337.84 C113.86,337.49 113.38,336.89 113.14,336.00 C112.90,335.11 112.99,333.70 113.00,332.50 C113.01,331.30 113.08,329.88 113.18,328.83 C113.28,327.78 113.41,326.99 113.61,326.20 C113.81,325.41 114.18,324.74 114.37,324.10 C114.55,323.46 114.57,322.85 114.73,322.35 C114.88,321.85 114.99,321.42 115.30,321.12 C115.62,320.83 116.17,320.60 116.60,320.60 Z" fill="url(#mg)" filter="url(#soft)"/>
<path d="M125.2,337.6 L126.60000000000001,337.6 L126.55,348.2 L125.85000000000001,348.2 Z" fill="#9c9c9c"/>
<path d="M125.90,320.60 C126.33,320.60 126.88,320.83 127.20,321.12 C127.51,321.42 127.62,321.85 127.77,322.35 C127.93,322.85 127.95,323.46 128.13,324.10 C128.32,324.74 128.69,325.41 128.89,326.20 C129.09,326.99 129.22,327.78 129.32,328.83 C129.42,329.88 129.49,331.30 129.50,332.50 C129.51,333.70 129.60,335.11 129.36,336.00 C129.12,336.89 128.64,337.49 128.06,337.84 C127.48,338.19 126.62,338.10 125.90,338.10 C125.18,338.10 124.32,338.19 123.74,337.84 C123.16,337.49 122.68,336.89 122.44,336.00 C122.20,335.11 122.29,333.70 122.30,332.50 C122.31,331.30 122.38,329.88 122.48,328.83 C122.58,327.78 122.71,326.99 122.91,326.20 C123.11,325.41 123.48,324.74 123.67,324.10 C123.85,323.46 123.87,322.85 124.03,322.35 C124.18,321.85 124.29,321.42 124.60,321.12 C124.92,320.83 125.47,320.60 125.90,320.60 Z" fill="url(#mg)" filter="url(#soft)"/>
<path d="M134.5,337.6 L135.89999999999998,337.6 L135.85,348.2 L135.15,348.2 Z" fill="#9c9c9c"/>
<path d="M135.20,320.60 C135.63,320.60 136.18,320.83 136.50,321.12 C136.81,321.42 136.92,321.85 137.07,322.35 C137.23,322.85 137.25,323.46 137.43,324.10 C137.62,324.74 137.99,325.41 138.19,326.20 C138.39,326.99 138.52,327.78 138.62,328.83 C138.72,329.88 138.79,331.30 138.80,332.50 C138.81,333.70 138.90,335.11 138.66,336.00 C138.42,336.89 137.94,337.49 137.36,337.84 C136.78,338.19 135.92,338.10 135.20,338.10 C134.48,338.10 133.62,338.19 133.04,337.84 C132.46,337.49 131.98,336.89 131.74,336.00 C131.50,335.11 131.59,333.70 131.60,332.50 C131.61,331.30 131.68,329.88 131.78,328.83 C131.88,327.78 132.01,326.99 132.21,326.20 C132.41,325.41 132.78,324.74 132.97,324.10 C133.15,323.46 133.17,322.85 133.33,322.35 C133.48,321.85 133.59,321.42 133.90,321.12 C134.22,320.83 134.77,320.60 135.20,320.60 Z" fill="url(#mg)" filter="url(#soft)"/>
<rect x="91.5" y="319" width="50.0" height="30" filter="url(#mtex)" opacity="0.22"/>
<rect x="143.5" y="319" width="50.0" height="30" fill="url(#pbg)"/>
<rect x="143.85" y="319.35" width="49.3" height="29.3" fill="none" stroke="#1c1c1c" stroke-width="0.7"/>
<path d="M149.4,337.6 L150.79999999999998,337.6 L150.75,348.2 L150.05,348.2 Z" fill="#9c9c9c"/>
<path d="M150.10,320.60 C150.53,320.60 151.08,320.83 151.40,321.12 C151.71,321.42 151.82,321.85 151.97,322.35 C152.13,322.85 152.15,323.46 152.33,324.10 C152.52,324.74 152.89,325.41 153.09,326.20 C153.29,326.99 153.42,327.78 153.52,328.83 C153.62,329.88 153.69,331.30 153.70,332.50 C153.71,333.70 153.80,335.11 153.56,336.00 C153.32,336.89 152.84,337.49 152.26,337.84 C151.68,338.19 150.82,338.10 150.10,338.10 C149.38,338.10 148.52,338.19 147.94,337.84 C147.36,337.49 146.88,336.89 146.64,336.00 C146.40,335.11 146.49,333.70 146.50,332.50 C146.51,331.30 146.58,329.88 146.68,328.83 C146.78,327.78 146.91,326.99 147.11,326.20 C147.31,325.41 147.68,324.74 147.87,324.10 C148.05,323.46 148.07,322.85 148.23,322.35 C148.38,321.85 148.49,321.42 148.80,321.12 C149.12,320.83 149.67,320.60 150.10,320.60 Z" fill="url(#mg)" filter="url(#soft)"/>
<path d="M158.60000000000002,337.6 L160.0,337.6 L159.95000000000002,348.2 L159.25000000000003,348.2 Z" fill="#9c9c9c"/>
<path d="M159.30,320.60 C159.73,320.60 160.28,320.83 160.60,321.12 C160.91,321.42 161.02,321.85 161.17,322.35 C161.33,322.85 161.35,323.46 161.53,324.10 C161.72,324.74 162.09,325.41 162.29,326.20 C162.49,326.99 162.62,327.78 162.72,328.83 C162.82,329.88 162.89,331.30 162.90,332.50 C162.91,333.70 163.00,335.11 162.76,336.00 C162.52,336.89 162.04,337.49 161.46,337.84 C160.88,338.19 160.02,338.10 159.30,338.10 C158.58,338.10 157.72,338.19 157.14,337.84 C156.56,337.49 156.08,336.89 155.84,336.00 C155.60,335.11 155.69,333.70 155.70,332.50 C155.71,331.30 155.78,329.88 155.88,328.83 C155.98,327.78 156.11,326.99 156.31,326.20 C156.51,325.41 156.88,324.74 157.07,324.10 C157.25,323.46 157.27,322.85 157.43,322.35 C157.58,321.85 157.69,321.42 158.00,321.12 C158.32,320.83 158.87,320.60 159.30,320.60 Z" fill="url(#mg)" filter="url(#soft)"/>
<path d="M167.8,337.6 L169.2,337.6 L169.15,348.2 L168.45000000000002,348.2 Z" fill="#9c9c9c"/>
<path d="M168.50,320.60 C168.93,320.60 169.48,320.83 169.80,321.12 C170.11,321.42 170.22,321.85 170.37,322.35 C170.53,322.85 170.55,323.46 170.73,324.10 C170.92,324.74 171.29,325.41 171.49,326.20 C171.69,326.99 171.82,327.78 171.92,328.83 C172.02,329.88 172.09,331.30 172.10,332.50 C172.11,333.70 172.20,335.11 171.96,336.00 C171.72,336.89 171.24,337.49 170.66,337.84 C170.08,338.19 169.22,338.10 168.50,338.10 C167.78,338.10 166.92,338.19 166.34,337.84 C165.76,337.49 165.28,336.89 165.04,336.00 C164.80,335.11 164.89,333.70 164.90,332.50 C164.91,331.30 164.98,329.88 165.08,328.83 C165.18,327.78 165.31,326.99 165.51,326.20 C165.71,325.41 166.08,324.74 166.27,324.10 C166.45,323.46 166.47,322.85 166.63,322.35 C166.78,321.85 166.89,321.42 167.20,321.12 C167.52,320.83 168.07,320.60 168.50,320.60 Z" fill="url(#mg)" filter="url(#soft)"/>
<path d="M176.9,337.6 L178.29999999999998,337.6 L178.25,348.2 L177.55,348.2 Z" fill="#9c9c9c"/>
<path d="M177.60,320.60 C178.03,320.60 178.58,320.83 178.90,321.12 C179.21,321.42 179.32,321.85 179.47,322.35 C179.63,322.85 179.65,323.46 179.83,324.10 C180.02,324.74 180.39,325.41 180.59,326.20 C180.79,326.99 180.92,327.78 181.02,328.83 C181.12,329.88 181.19,331.30 181.20,332.50 C181.21,333.70 181.30,335.11 181.06,336.00 C180.82,336.89 180.34,337.49 179.76,337.84 C179.18,338.19 178.32,338.10 177.60,338.10 C176.88,338.10 176.02,338.19 175.44,337.84 C174.86,337.49 174.38,336.89 174.14,336.00 C173.90,335.11 173.99,333.70 174.00,332.50 C174.01,331.30 174.08,329.88 174.18,328.83 C174.28,327.78 174.41,326.99 174.61,326.20 C174.81,325.41 175.18,324.74 175.37,324.10 C175.55,323.46 175.57,322.85 175.73,322.35 C175.88,321.85 175.99,321.42 176.30,321.12 C176.62,320.83 177.17,320.60 177.60,320.60 Z" fill="url(#mg)" filter="url(#soft)"/>
<path d="M185.9,337.6 L187.29999999999998,337.6 L187.25,348.2 L186.55,348.2 Z" fill="#9c9c9c"/>
<path d="M186.60,320.60 C187.03,320.60 187.58,320.83 187.90,321.12 C188.21,321.42 188.32,321.85 188.47,322.35 C188.63,322.85 188.65,323.46 188.83,324.10 C189.02,324.74 189.39,325.41 189.59,326.20 C189.79,326.99 189.92,327.78 190.02,328.83 C190.12,329.88 190.19,331.30 190.20,332.50 C190.21,333.70 190.30,335.11 190.06,336.00 C189.82,336.89 189.34,337.49 188.76,337.84 C188.18,338.19 187.32,338.10 186.60,338.10 C185.88,338.10 185.02,338.19 184.44,337.84 C183.86,337.49 183.38,336.89 183.14,336.00 C182.90,335.11 182.99,333.70 183.00,332.50 C183.01,331.30 183.08,329.88 183.18,328.83 C183.28,327.78 183.41,326.99 183.61,326.20 C183.81,325.41 184.18,324.74 184.37,324.10 C184.55,323.46 184.57,322.85 184.73,322.35 C184.88,321.85 184.99,321.42 185.30,321.12 C185.62,320.83 186.17,320.60 186.60,320.60 Z" fill="url(#mg)" filter="url(#soft)"/>
<rect x="143.5" y="319" width="50.0" height="30" filter="url(#mtex)" opacity="0.22"/>
<rect x="195.5" y="319" width="47.0" height="30" fill="url(#pbg)"/>
<rect x="195.85" y="319.35" width="46.3" height="29.3" fill="none" stroke="#1c1c1c" stroke-width="0.7"/>
<path d="M201.8,337.6 L203.2,337.6 L203.15,348.2 L202.45000000000002,348.2 Z" fill="#9c9c9c"/>
<path d="M202.50,320.60 C202.92,320.60 203.46,320.83 203.76,321.12 C204.06,321.42 204.17,321.85 204.32,322.35 C204.47,322.85 204.49,323.46 204.67,324.10 C204.85,324.74 205.21,325.41 205.41,326.20 C205.60,326.99 205.73,327.78 205.82,328.83 C205.92,329.88 205.99,331.30 206.00,332.50 C206.01,333.70 206.09,335.11 205.86,336.00 C205.63,336.89 205.16,337.49 204.60,337.84 C204.04,338.19 203.20,338.10 202.50,338.10 C201.80,338.10 200.96,338.19 200.40,337.84 C199.84,337.49 199.37,336.89 199.14,336.00 C198.91,335.11 198.99,333.70 199.00,332.50 C199.01,331.30 199.08,329.88 199.18,328.83 C199.27,327.78 199.40,326.99 199.59,326.20 C199.79,325.41 200.15,324.74 200.33,324.10 C200.51,323.46 200.53,322.85 200.68,322.35 C200.83,321.85 200.94,321.42 201.24,321.12 C201.54,320.83 202.08,320.60 202.50,320.60 Z" fill="url(#mg)" filter="url(#soft)"/>
<path d="M210.10000000000002,337.6 L211.5,337.6 L211.45000000000002,348.2 L210.75000000000003,348.2 Z" fill="#9c9c9c"/>
<path d="M210.80,320.60 C211.22,320.60 211.76,320.83 212.06,321.12 C212.36,321.42 212.47,321.85 212.62,322.35 C212.77,322.85 212.79,323.46 212.97,324.10 C213.15,324.74 213.51,325.41 213.71,326.20 C213.90,326.99 214.03,327.78 214.12,328.83 C214.22,329.88 214.29,331.30 214.30,332.50 C214.31,333.70 214.39,335.11 214.16,336.00 C213.93,336.89 213.46,337.49 212.90,337.84 C212.34,338.19 211.50,338.10 210.80,338.10 C210.10,338.10 209.26,338.19 208.70,337.84 C208.14,337.49 207.67,336.89 207.44,336.00 C207.21,335.11 207.29,333.70 207.30,332.50 C207.31,331.30 207.38,329.88 207.48,328.83 C207.57,327.78 207.70,326.99 207.90,326.20 C208.09,325.41 208.45,324.74 208.63,324.10 C208.81,323.46 208.83,322.85 208.98,322.35 C209.13,321.85 209.24,321.42 209.54,321.12 C209.84,320.83 210.38,320.60 210.80,320.60 Z" fill="url(#mg)" filter="url(#soft)"/>
<path d="M218.4,337.6 L219.79999999999998,337.6 L219.75,348.2 L219.05,348.2 Z" fill="#9c9c9c"/>
<path d="M219.10,320.60 C219.52,320.60 220.06,320.83 220.36,321.12 C220.66,321.42 220.77,321.85 220.92,322.35 C221.07,322.85 221.09,323.46 221.27,324.10 C221.45,324.74 221.81,325.41 222.00,326.20 C222.20,326.99 222.33,327.78 222.42,328.83 C222.52,329.88 222.59,331.30 222.60,332.50 C222.61,333.70 222.69,335.11 222.46,336.00 C222.23,336.89 221.76,337.49 221.20,337.84 C220.64,338.19 219.80,338.10 219.10,338.10 C218.40,338.10 217.56,338.19 217.00,337.84 C216.44,337.49 215.97,336.89 215.74,336.00 C215.51,335.11 215.59,333.70 215.60,332.50 C215.61,331.30 215.68,329.88 215.78,328.83 C215.87,327.78 216.00,326.99 216.19,326.20 C216.39,325.41 216.75,324.74 216.93,324.10 C217.11,323.46 217.13,322.85 217.28,322.35 C217.43,321.85 217.54,321.42 217.84,321.12 C218.14,320.83 218.68,320.60 219.10,320.60 Z" fill="url(#mg)" filter="url(#soft)"/>
<path d="M226.9,337.6 L228.29999999999998,337.6 L228.25,348.2 L227.55,348.2 Z" fill="#9c9c9c"/>
<path d="M227.60,320.60 C228.02,320.60 228.56,320.83 228.86,321.12 C229.16,321.42 229.27,321.85 229.42,322.35 C229.57,322.85 229.59,323.46 229.77,324.10 C229.95,324.74 230.31,325.41 230.50,326.20 C230.70,326.99 230.83,327.78 230.92,328.83 C231.02,329.88 231.09,331.30 231.10,332.50 C231.11,333.70 231.19,335.11 230.96,336.00 C230.73,336.89 230.26,337.49 229.70,337.84 C229.14,338.19 228.30,338.10 227.60,338.10 C226.90,338.10 226.06,338.19 225.50,337.84 C224.94,337.49 224.47,336.89 224.24,336.00 C224.01,335.11 224.09,333.70 224.10,332.50 C224.11,331.30 224.18,329.88 224.28,328.83 C224.37,327.78 224.50,326.99 224.69,326.20 C224.89,325.41 225.25,324.74 225.43,324.10 C225.61,323.46 225.63,322.85 225.78,322.35 C225.93,321.85 226.04,321.42 226.34,321.12 C226.64,320.83 227.18,320.60 227.60,320.60 Z" fill="url(#mg)" filter="url(#soft)"/>
<path d="M235.4,337.6 L236.79999999999998,337.6 L236.75,348.2 L236.05,348.2 Z" fill="#9c9c9c"/>
<path d="M236.10,320.60 C236.52,320.60 237.06,320.83 237.36,321.12 C237.66,321.42 237.77,321.85 237.92,322.35 C238.07,322.85 238.09,323.46 238.27,324.10 C238.45,324.74 238.81,325.41 239.00,326.20 C239.20,326.99 239.33,327.78 239.42,328.83 C239.52,329.88 239.59,331.30 239.60,332.50 C239.61,333.70 239.69,335.11 239.46,336.00 C239.23,336.89 238.76,337.49 238.20,337.84 C237.64,338.19 236.80,338.10 236.10,338.10 C235.40,338.10 234.56,338.19 234.00,337.84 C233.44,337.49 232.97,336.89 232.74,336.00 C232.51,335.11 232.59,333.70 232.60,332.50 C232.61,331.30 232.68,329.88 232.78,328.83 C232.87,327.78 233.00,326.99 233.19,326.20 C233.39,325.41 233.75,324.74 233.93,324.10 C234.11,323.46 234.13,322.85 234.28,322.35 C234.43,321.85 234.54,321.42 234.84,321.12 C235.14,320.83 235.68,320.60 236.10,320.60 Z" fill="url(#mg)" filter="url(#soft)"/>
<rect x="195.5" y="319" width="47.0" height="30" filter="url(#mtex)" opacity="0.22"/>
<rect x="244.5" y="319" width="37.69999999999999" height="30" fill="url(#pbg)"/>
<rect x="244.85" y="319.35" width="36.999999999999986" height="29.3" fill="none" stroke="#1c1c1c" stroke-width="0.7"/>
<path d="M251.8,337.3 L253.2,337.3 L253.15,348.2 L252.45000000000002,348.2 Z" fill="#9c9c9c"/>
<path d="M252.50,320.80 C253.10,320.80 253.87,321.03 254.30,321.31 C254.73,321.59 254.88,322.02 255.10,322.50 C255.32,322.98 255.34,323.58 255.60,324.20 C255.86,324.82 256.38,325.48 256.65,326.24 C256.92,327.00 257.11,327.77 257.25,328.79 C257.39,329.81 257.49,331.20 257.50,332.36 C257.51,333.52 257.63,334.90 257.30,335.76 C256.97,336.62 256.30,337.21 255.50,337.55 C254.70,337.88 253.50,337.80 252.50,337.80 C251.50,337.80 250.30,337.88 249.50,337.55 C248.70,337.21 248.03,336.62 247.70,335.76 C247.37,334.90 247.49,333.52 247.50,332.36 C247.51,331.20 247.61,329.81 247.75,328.79 C247.89,327.77 248.07,327.00 248.35,326.24 C248.62,325.48 249.14,324.82 249.40,324.20 C249.66,323.58 249.68,322.98 249.90,322.50 C250.12,322.02 250.27,321.59 250.70,321.31 C251.13,321.03 251.90,320.80 252.50,320.80 Z" fill="url(#mg)" filter="url(#soft)"/>
<path d="M262.6,337.3 L264.0,337.3 L263.95000000000005,348.2 L263.25,348.2 Z" fill="#9c9c9c"/>
<path d="M263.30,320.80 C263.90,320.80 264.67,321.03 265.10,321.31 C265.53,321.59 265.68,322.02 265.90,322.50 C266.12,322.98 266.14,323.58 266.40,324.20 C266.66,324.82 267.18,325.48 267.45,326.24 C267.72,327.00 267.91,327.77 268.05,328.79 C268.19,329.81 268.29,331.20 268.30,332.36 C268.31,333.52 268.43,334.90 268.10,335.76 C267.77,336.62 267.10,337.21 266.30,337.55 C265.50,337.88 264.30,337.80 263.30,337.80 C262.30,337.80 261.10,337.88 260.30,337.55 C259.50,337.21 258.83,336.62 258.50,335.76 C258.17,334.90 258.29,333.52 258.30,332.36 C258.31,331.20 258.41,329.81 258.55,328.79 C258.69,327.77 258.88,327.00 259.15,326.24 C259.43,325.48 259.94,324.82 260.20,324.20 C260.46,323.58 260.48,322.98 260.70,322.50 C260.92,322.02 261.07,321.59 261.50,321.31 C261.93,321.03 262.70,320.80 263.30,320.80 Z" fill="url(#mg)" filter="url(#soft)"/>
<path d="M273.6,337.3 L275.0,337.3 L274.95000000000005,348.2 L274.25,348.2 Z" fill="#9c9c9c"/>
<path d="M274.30,320.80 C274.90,320.80 275.67,321.03 276.10,321.31 C276.53,321.59 276.68,322.02 276.90,322.50 C277.12,322.98 277.14,323.58 277.40,324.20 C277.66,324.82 278.18,325.48 278.45,326.24 C278.72,327.00 278.91,327.77 279.05,328.79 C279.19,329.81 279.29,331.20 279.30,332.36 C279.31,333.52 279.43,334.90 279.10,335.76 C278.77,336.62 278.10,337.21 277.30,337.55 C276.50,337.88 275.30,337.80 274.30,337.80 C273.30,337.80 272.10,337.88 271.30,337.55 C270.50,337.21 269.83,336.62 269.50,335.76 C269.17,334.90 269.29,333.52 269.30,332.36 C269.31,331.20 269.41,329.81 269.55,328.79 C269.69,327.77 269.88,327.00 270.15,326.24 C270.43,325.48 270.94,324.82 271.20,324.20 C271.46,323.58 271.48,322.98 271.70,322.50 C271.92,322.02 272.07,321.59 272.50,321.31 C272.93,321.03 273.70,320.80 274.30,320.80 Z" fill="url(#mg)" filter="url(#soft)"/>
<rect x="244.5" y="319" width="37.69999999999999" height="30" filter="url(#mtex)" opacity="0.22"/>
<rect x="40" y="350.5" width="49.5" height="31.5" fill="url(#pbg)"/>
<rect x="40.35" y="350.85" width="48.8" height="30.8" fill="none" stroke="#1c1c1c" stroke-width="0.7"/>
<path d="M45.199999999999996,369.1 L46.6,369.1 L46.55,381.2 L45.849999999999994,381.2 Z" fill="#9c9c9c"/>
<path d="M45.90,352.10 C46.33,352.10 46.88,352.33 47.20,352.62 C47.51,352.92 47.62,353.35 47.77,353.85 C47.93,354.35 47.95,354.96 48.13,355.60 C48.32,356.24 48.69,356.91 48.89,357.70 C49.09,358.49 49.22,359.28 49.32,360.33 C49.42,361.38 49.49,362.80 49.50,364.00 C49.51,365.20 49.60,366.61 49.36,367.50 C49.12,368.39 48.64,368.99 48.06,369.34 C47.48,369.69 46.62,369.60 45.90,369.60 C45.18,369.60 44.32,369.69 43.74,369.34 C43.16,368.99 42.68,368.39 42.44,367.50 C42.20,366.61 42.29,365.20 42.30,364.00 C42.31,362.80 42.38,361.38 42.48,360.33 C42.58,359.28 42.71,358.49 42.91,357.70 C43.11,356.91 43.48,356.24 43.67,355.60 C43.85,354.96 43.87,354.35 44.03,353.85 C44.18,353.35 44.29,352.92 44.60,352.62 C44.92,352.33 45.47,352.10 45.90,352.10 Z" fill="url(#mg)" filter="url(#soft)"/>
<ellipse cx="44.4" cy="364.6" rx="1.3" ry="1.1700000000000002" fill="#3d2fb0" opacity="0.9"/><ellipse cx="44.4" cy="364.6" rx="0.5850000000000001" ry="0.52" fill="#4a8fe0" opacity="0.9"/>
<path d="M54.5,369.1 L55.900000000000006,369.1 L55.85,381.2 L55.15,381.2 Z" fill="#9c9c9c"/>
<path d="M55.20,352.10 C55.63,352.10 56.18,352.33 56.50,352.62 C56.81,352.92 56.92,353.35 57.07,353.85 C57.23,354.35 57.25,354.96 57.43,355.60 C57.62,356.24 57.99,356.91 58.19,357.70 C58.39,358.49 58.52,359.28 58.62,360.33 C58.72,361.38 58.79,362.80 58.80,364.00 C58.81,365.20 58.90,366.61 58.66,367.50 C58.42,368.39 57.94,368.99 57.36,369.34 C56.78,369.69 55.92,369.60 55.20,369.60 C54.48,369.60 53.62,369.69 53.04,369.34 C52.46,368.99 51.98,368.39 51.74,367.50 C51.50,366.61 51.59,365.20 51.60,364.00 C51.61,362.80 51.68,361.38 51.78,360.33 C51.88,359.28 52.01,358.49 52.21,357.70 C52.41,356.91 52.78,356.24 52.97,355.60 C53.15,354.96 53.17,354.35 53.33,353.85 C53.48,353.35 53.59,352.92 53.90,352.62 C54.22,352.33 54.77,352.10 55.20,352.10 Z" fill="url(#mg)" filter="url(#soft)"/>
<path d="M63.89999999999999,369.1 L65.3,369.1 L65.24999999999999,381.2 L64.55,381.2 Z" fill="#9c9c9c"/>
<path d="M64.60,352.10 C65.03,352.10 65.58,352.33 65.90,352.62 C66.21,352.92 66.32,353.35 66.47,353.85 C66.63,354.35 66.65,354.96 66.83,355.60 C67.02,356.24 67.39,356.91 67.59,357.70 C67.79,358.49 67.92,359.28 68.02,360.33 C68.12,361.38 68.19,362.80 68.20,364.00 C68.21,365.20 68.30,366.61 68.06,367.50 C67.82,368.39 67.34,368.99 66.76,369.34 C66.18,369.69 65.32,369.60 64.60,369.60 C63.88,369.60 63.02,369.69 62.44,369.34 C61.86,368.99 61.38,368.39 61.14,367.50 C60.90,366.61 60.99,365.20 61.00,364.00 C61.01,362.80 61.08,361.38 61.18,360.33 C61.28,359.28 61.41,358.49 61.61,357.70 C61.81,356.91 62.18,356.24 62.37,355.60 C62.55,354.96 62.57,354.35 62.73,353.85 C62.88,353.35 62.99,352.92 63.30,352.62 C63.62,352.33 64.17,352.10 64.60,352.10 Z" fill="url(#mg)" filter="url(#soft)"/>
<path d="M73.3,369.1 L74.7,369.1 L74.64999999999999,381.2 L73.95,381.2 Z" fill="#9c9c9c"/>
<path d="M74.00,352.10 C74.43,352.10 74.98,352.33 75.30,352.62 C75.61,352.92 75.72,353.35 75.87,353.85 C76.03,354.35 76.05,354.96 76.23,355.60 C76.42,356.24 76.79,356.91 76.99,357.70 C77.19,358.49 77.32,359.28 77.42,360.33 C77.52,361.38 77.59,362.80 77.60,364.00 C77.61,365.20 77.70,366.61 77.46,367.50 C77.22,368.39 76.74,368.99 76.16,369.34 C75.58,369.69 74.72,369.60 74.00,369.60 C73.28,369.60 72.42,369.69 71.84,369.34 C71.26,368.99 70.78,368.39 70.54,367.50 C70.30,366.61 70.39,365.20 70.40,364.00 C70.41,362.80 70.48,361.38 70.58,360.33 C70.68,359.28 70.81,358.49 71.01,357.70 C71.21,356.91 71.58,356.24 71.77,355.60 C71.95,354.96 71.97,354.35 72.13,353.85 C72.28,353.35 72.39,352.92 72.70,352.62 C73.02,352.33 73.57,352.10 74.00,352.10 Z" fill="url(#mg)" filter="url(#soft)"/>
<ellipse cx="74.0" cy="355.6" rx="1.3" ry="1.1700000000000002" fill="#4a32b5" opacity="0.85"/>
<ellipse cx="72.0" cy="364.6" rx="1.4" ry="1.26" fill="#3d2fb0"/><ellipse cx="72.0" cy="364.6" rx="0.9099999999999999" ry="0.84" fill="#3aa6c8"/><ellipse cx="72.0" cy="364.6" rx="0.48999999999999994" ry="0.42" fill="#a8d040"/>
<path d="M82.6,369.1 L84.0,369.1 L83.94999999999999,381.2 L83.25,381.2 Z" fill="#9c9c9c"/>
<path d="M83.30,352.10 C83.73,352.10 84.28,352.33 84.60,352.62 C84.91,352.92 85.02,353.35 85.17,353.85 C85.33,354.35 85.35,354.96 85.53,355.60 C85.72,356.24 86.09,356.91 86.29,357.70 C86.49,358.49 86.62,359.28 86.72,360.33 C86.82,361.38 86.89,362.80 86.90,364.00 C86.91,365.20 87.00,366.61 86.76,367.50 C86.52,368.39 86.04,368.99 85.46,369.34 C84.88,369.69 84.02,369.60 83.30,369.60 C82.58,369.60 81.72,369.69 81.14,369.34 C80.56,368.99 80.08,368.39 79.84,367.50 C79.60,366.61 79.69,365.20 79.70,364.00 C79.71,362.80 79.78,361.38 79.88,360.33 C79.98,359.28 80.11,358.49 80.31,357.70 C80.51,356.91 80.88,356.24 81.07,355.60 C81.25,354.96 81.27,354.35 81.43,353.85 C81.58,353.35 81.69,352.92 82.00,352.62 C82.32,352.33 82.87,352.10 83.30,352.10 Z" fill="url(#mg)" filter="url(#soft)"/>
<ellipse cx="85.5" cy="364.6" rx="1.2" ry="1.08" fill="#3d2fb0" opacity="0.9"/><ellipse cx="85.5" cy="364.6" rx="0.54" ry="0.48" fill="#4a8fe0" opacity="0.9"/>
<rect x="40" y="350.5" width="49.5" height="31.5" filter="url(#mtex)" opacity="0.22"/>
<rect x="91.5" y="350.5" width="50.0" height="31.5" fill="url(#pbg)"/>
<rect x="91.85" y="350.85" width="49.3" height="30.8" fill="none" stroke="#1c1c1c" stroke-width="0.7"/>
<path d="M97.5,369.1 L98.9,369.1 L98.85,381.2 L98.15,381.2 Z" fill="#9c9c9c"/>
<path d="M98.20,352.10 C98.63,352.10 99.18,352.33 99.50,352.62 C99.81,352.92 99.92,353.35 100.07,353.85 C100.23,354.35 100.25,354.96 100.43,355.60 C100.62,356.24 100.99,356.91 101.19,357.70 C101.39,358.49 101.52,359.28 101.62,360.33 C101.72,361.38 101.79,362.80 101.80,364.00 C101.81,365.20 101.90,366.61 101.66,367.50 C101.42,368.39 100.94,368.99 100.36,369.34 C99.78,369.69 98.92,369.60 98.20,369.60 C97.48,369.60 96.62,369.69 96.04,369.34 C95.46,368.99 94.98,368.39 94.74,367.50 C94.50,366.61 94.59,365.20 94.60,364.00 C94.61,362.80 94.68,361.38 94.78,360.33 C94.88,359.28 95.01,358.49 95.21,357.70 C95.41,356.91 95.78,356.24 95.97,355.60 C96.15,354.96 96.17,354.35 96.33,353.85 C96.48,353.35 96.59,352.92 96.90,352.62 C97.22,352.33 97.77,352.10 98.20,352.10 Z" fill="url(#mg)" filter="url(#soft)"/>
<path d="M106.7,369.1 L108.10000000000001,369.1 L108.05,381.2 L107.35000000000001,381.2 Z" fill="#9c9c9c"/>
<path d="M107.40,352.10 C107.83,352.10 108.38,352.33 108.70,352.62 C109.01,352.92 109.12,353.35 109.27,353.85 C109.43,354.35 109.45,354.96 109.63,355.60 C109.82,356.24 110.19,356.91 110.39,357.70 C110.59,358.49 110.72,359.28 110.82,360.33 C110.92,361.38 110.99,362.80 111.00,364.00 C111.01,365.20 111.10,366.61 110.86,367.50 C110.62,368.39 110.14,368.99 109.56,369.34 C108.98,369.69 108.12,369.60 107.40,369.60 C106.68,369.60 105.82,369.69 105.24,369.34 C104.66,368.99 104.18,368.39 103.94,367.50 C103.70,366.61 103.79,365.20 103.80,364.00 C103.81,362.80 103.88,361.38 103.98,360.33 C104.08,359.28 104.21,358.49 104.41,357.70 C104.61,356.91 104.98,356.24 105.17,355.60 C105.35,354.96 105.37,354.35 105.53,353.85 C105.68,353.35 105.79,352.92 106.10,352.62 C106.42,352.33 106.97,352.10 107.40,352.10 Z" fill="url(#mg)" filter="url(#soft)"/>
<path d="M115.89999999999999,369.1 L117.3,369.1 L117.24999999999999,381.2 L116.55,381.2 Z" fill="#9c9c9c"/>
<path d="M116.60,352.10 C117.03,352.10 117.58,352.33 117.90,352.62 C118.21,352.92 118.32,353.35 118.47,353.85 C118.63,354.35 118.65,354.96 118.83,355.60 C119.02,356.24 119.39,356.91 119.59,357.70 C119.79,358.49 119.92,359.28 120.02,360.33 C120.12,361.38 120.19,362.80 120.20,364.00 C120.21,365.20 120.30,366.61 120.06,367.50 C119.82,368.39 119.34,368.99 118.76,369.34 C118.18,369.69 117.32,369.60 116.60,369.60 C115.88,369.60 115.02,369.69 114.44,369.34 C113.86,368.99 113.38,368.39 113.14,367.50 C112.90,366.61 112.99,365.20 113.00,364.00 C113.01,362.80 113.08,361.38 113.18,360.33 C113.28,359.28 113.41,358.49 113.61,357.70 C113.81,356.91 114.18,356.24 114.37,355.60 C114.55,354.96 114.57,354.35 114.73,353.85 C114.88,353.35 114.99,352.92 115.30,352.62 C115.62,352.33 116.17,352.10 116.60,352.10 Z" fill="url(#mg)" filter="url(#soft)"/>
<ellipse cx="114.6" cy="364.6" rx="0.9" ry="0.81" fill="#4a32b5" opacity="0.85"/>
<path d="M125.2,369.1 L126.60000000000001,369.1 L126.55,381.2 L125.85000000000001,381.2 Z" fill="#9c9c9c"/>
<path d="M125.90,352.10 C126.33,352.10 126.88,352.33 127.20,352.62 C127.51,352.92 127.62,353.35 127.77,353.85 C127.93,354.35 127.95,354.96 128.13,355.60 C128.32,356.24 128.69,356.91 128.89,357.70 C129.09,358.49 129.22,359.28 129.32,360.33 C129.42,361.38 129.49,362.80 129.50,364.00 C129.51,365.20 129.60,366.61 129.36,367.50 C129.12,368.39 128.64,368.99 128.06,369.34 C127.48,369.69 126.62,369.60 125.90,369.60 C125.18,369.60 124.32,369.69 123.74,369.34 C123.16,368.99 122.68,368.39 122.44,367.50 C122.20,366.61 122.29,365.20 122.30,364.00 C122.31,362.80 122.38,361.38 122.48,360.33 C122.58,359.28 122.71,358.49 122.91,357.70 C123.11,356.91 123.48,356.24 123.67,355.60 C123.85,354.96 123.87,354.35 124.03,353.85 C124.18,353.35 124.29,352.92 124.60,352.62 C124.92,352.33 125.47,352.10 125.90,352.10 Z" fill="url(#mg)" filter="url(#soft)"/>
<path d="M134.5,369.1 L135.89999999999998,369.1 L135.85,381.2 L135.15,381.2 Z" fill="#9c9c9c"/>
<path d="M135.20,352.10 C135.63,352.10 136.18,352.33 136.50,352.62 C136.81,352.92 136.92,353.35 137.07,353.85 C137.23,354.35 137.25,354.96 137.43,355.60 C137.62,356.24 137.99,356.91 138.19,357.70 C138.39,358.49 138.52,359.28 138.62,360.33 C138.72,361.38 138.79,362.80 138.80,364.00 C138.81,365.20 138.90,366.61 138.66,367.50 C138.42,368.39 137.94,368.99 137.36,369.34 C136.78,369.69 135.92,369.60 135.20,369.60 C134.48,369.60 133.62,369.69 133.04,369.34 C132.46,368.99 131.98,368.39 131.74,367.50 C131.50,366.61 131.59,365.20 131.60,364.00 C131.61,362.80 131.68,361.38 131.78,360.33 C131.88,359.28 132.01,358.49 132.21,357.70 C132.41,356.91 132.78,356.24 132.97,355.60 C133.15,354.96 133.17,354.35 133.33,353.85 C133.48,353.35 133.59,352.92 133.90,352.62 C134.22,352.33 134.77,352.10 135.20,352.10 Z" fill="url(#mg)" filter="url(#soft)"/>
<ellipse cx="136.7" cy="358.1" rx="1.2" ry="1.08" fill="#4a32b5" opacity="0.85"/>
<ellipse cx="135.2" cy="364.6" rx="1.0" ry="0.9" fill="#3d2fb0" opacity="0.9"/><ellipse cx="135.2" cy="364.6" rx="0.45" ry="0.4" fill="#4a8fe0" opacity="0.9"/>
<rect x="91.5" y="350.5" width="50.0" height="31.5" filter="url(#mtex)" opacity="0.22"/>
<rect x="143.5" y="350.5" width="50.0" height="31.5" fill="url(#pbg)"/>
<rect x="143.85" y="350.85" width="49.3" height="30.8" fill="none" stroke="#1c1c1c" stroke-width="0.7"/>
<path d="M149.4,369.1 L150.79999999999998,369.1 L150.75,381.2 L150.05,381.2 Z" fill="#9c9c9c"/>
<path d="M150.10,352.10 C150.53,352.10 151.08,352.33 151.40,352.62 C151.71,352.92 151.82,353.35 151.97,353.85 C152.13,354.35 152.15,354.96 152.33,355.60 C152.52,356.24 152.89,356.91 153.09,357.70 C153.29,358.49 153.42,359.28 153.52,360.33 C153.62,361.38 153.69,362.80 153.70,364.00 C153.71,365.20 153.80,366.61 153.56,367.50 C153.32,368.39 152.84,368.99 152.26,369.34 C151.68,369.69 150.82,369.60 150.10,369.60 C149.38,369.60 148.52,369.69 147.94,369.34 C147.36,368.99 146.88,368.39 146.64,367.50 C146.40,366.61 146.49,365.20 146.50,364.00 C146.51,362.80 146.58,361.38 146.68,360.33 C146.78,359.28 146.91,358.49 147.11,357.70 C147.31,356.91 147.68,356.24 147.87,355.60 C148.05,354.96 148.07,354.35 148.23,353.85 C148.38,353.35 148.49,352.92 148.80,352.62 C149.12,352.33 149.67,352.10 150.10,352.10 Z" fill="url(#mg)" filter="url(#soft)"/>
<path d="M158.60000000000002,369.1 L160.0,369.1 L159.95000000000002,381.2 L159.25000000000003,381.2 Z" fill="#9c9c9c"/>
<path d="M159.30,352.10 C159.73,352.10 160.28,352.33 160.60,352.62 C160.91,352.92 161.02,353.35 161.17,353.85 C161.33,354.35 161.35,354.96 161.53,355.60 C161.72,356.24 162.09,356.91 162.29,357.70 C162.49,358.49 162.62,359.28 162.72,360.33 C162.82,361.38 162.89,362.80 162.90,364.00 C162.91,365.20 163.00,366.61 162.76,367.50 C162.52,368.39 162.04,368.99 161.46,369.34 C160.88,369.69 160.02,369.60 159.30,369.60 C158.58,369.60 157.72,369.69 157.14,369.34 C156.56,368.99 156.08,368.39 155.84,367.50 C155.60,366.61 155.69,365.20 155.70,364.00 C155.71,362.80 155.78,361.38 155.88,360.33 C155.98,359.28 156.11,358.49 156.31,357.70 C156.51,356.91 156.88,356.24 157.07,355.60 C157.25,354.96 157.27,354.35 157.43,353.85 C157.58,353.35 157.69,352.92 158.00,352.62 C158.32,352.33 158.87,352.10 159.30,352.10 Z" fill="url(#mg)" filter="url(#soft)"/>
<path d="M167.8,369.1 L169.2,369.1 L169.15,381.2 L168.45000000000002,381.2 Z" fill="#9c9c9c"/>
<path d="M168.50,352.10 C168.93,352.10 169.48,352.33 169.80,352.62 C170.11,352.92 170.22,353.35 170.37,353.85 C170.53,354.35 170.55,354.96 170.73,355.60 C170.92,356.24 171.29,356.91 171.49,357.70 C171.69,358.49 171.82,359.28 171.92,360.33 C172.02,361.38 172.09,362.80 172.10,364.00 C172.11,365.20 172.20,366.61 171.96,367.50 C171.72,368.39 171.24,368.99 170.66,369.34 C170.08,369.69 169.22,369.60 168.50,369.60 C167.78,369.60 166.92,369.69 166.34,369.34 C165.76,368.99 165.28,368.39 165.04,367.50 C164.80,366.61 164.89,365.20 164.90,364.00 C164.91,362.80 164.98,361.38 165.08,360.33 C165.18,359.28 165.31,358.49 165.51,357.70 C165.71,356.91 166.08,356.24 166.27,355.60 C166.45,354.96 166.47,354.35 166.63,353.85 C166.78,353.35 166.89,352.92 167.20,352.62 C167.52,352.33 168.07,352.10 168.50,352.10 Z" fill="url(#mg)" filter="url(#soft)"/>
<path d="M176.9,369.1 L178.29999999999998,369.1 L178.25,381.2 L177.55,381.2 Z" fill="#9c9c9c"/>
<path d="M177.60,352.10 C178.03,352.10 178.58,352.33 178.90,352.62 C179.21,352.92 179.32,353.35 179.47,353.85 C179.63,354.35 179.65,354.96 179.83,355.60 C180.02,356.24 180.39,356.91 180.59,357.70 C180.79,358.49 180.92,359.28 181.02,360.33 C181.12,361.38 181.19,362.80 181.20,364.00 C181.21,365.20 181.30,366.61 181.06,367.50 C180.82,368.39 180.34,368.99 179.76,369.34 C179.18,369.69 178.32,369.60 177.60,369.60 C176.88,369.60 176.02,369.69 175.44,369.34 C174.86,368.99 174.38,368.39 174.14,367.50 C173.90,366.61 173.99,365.20 174.00,364.00 C174.01,362.80 174.08,361.38 174.18,360.33 C174.28,359.28 174.41,358.49 174.61,357.70 C174.81,356.91 175.18,356.24 175.37,355.60 C175.55,354.96 175.57,354.35 175.73,353.85 C175.88,353.35 175.99,352.92 176.30,352.62 C176.62,352.33 177.17,352.10 177.60,352.10 Z" fill="url(#mg)" filter="url(#soft)"/>
<path d="M185.9,369.1 L187.29999999999998,369.1 L187.25,381.2 L186.55,381.2 Z" fill="#9c9c9c"/>
<path d="M186.60,352.10 C187.03,352.10 187.58,352.33 187.90,352.62 C188.21,352.92 188.32,353.35 188.47,353.85 C188.63,354.35 188.65,354.96 188.83,355.60 C189.02,356.24 189.39,356.91 189.59,357.70 C189.79,358.49 189.92,359.28 190.02,360.33 C190.12,361.38 190.19,362.80 190.20,364.00 C190.21,365.20 190.30,366.61 190.06,367.50 C189.82,368.39 189.34,368.99 188.76,369.34 C188.18,369.69 187.32,369.60 186.60,369.60 C185.88,369.60 185.02,369.69 184.44,369.34 C183.86,368.99 183.38,368.39 183.14,367.50 C182.90,366.61 182.99,365.20 183.00,364.00 C183.01,362.80 183.08,361.38 183.18,360.33 C183.28,359.28 183.41,358.49 183.61,357.70 C183.81,356.91 184.18,356.24 184.37,355.60 C184.55,354.96 184.57,354.35 184.73,353.85 C184.88,353.35 184.99,352.92 185.30,352.62 C185.62,352.33 186.17,352.10 186.60,352.10 Z" fill="url(#mg)" filter="url(#soft)"/>
<rect x="143.5" y="350.5" width="50.0" height="31.5" filter="url(#mtex)" opacity="0.22"/>
<rect x="195.5" y="350.5" width="47.0" height="31.5" fill="url(#pbg)"/>
<rect x="195.85" y="350.85" width="46.3" height="30.8" fill="none" stroke="#1c1c1c" stroke-width="0.7"/>
<path d="M201.8,369.1 L203.2,369.1 L203.15,381.2 L202.45000000000002,381.2 Z" fill="#9c9c9c"/>
<path d="M202.50,352.10 C202.92,352.10 203.46,352.33 203.76,352.62 C204.06,352.92 204.17,353.35 204.32,353.85 C204.47,354.35 204.49,354.96 204.67,355.60 C204.85,356.24 205.21,356.91 205.41,357.70 C205.60,358.49 205.73,359.28 205.82,360.33 C205.92,361.38 205.99,362.80 206.00,364.00 C206.01,365.20 206.09,366.61 205.86,367.50 C205.63,368.39 205.16,368.99 204.60,369.34 C204.04,369.69 203.20,369.60 202.50,369.60 C201.80,369.60 200.96,369.69 200.40,369.34 C199.84,368.99 199.37,368.39 199.14,367.50 C198.91,366.61 198.99,365.20 199.00,364.00 C199.01,362.80 199.08,361.38 199.18,360.33 C199.27,359.28 199.40,358.49 199.59,357.70 C199.79,356.91 200.15,356.24 200.33,355.60 C200.51,354.96 200.53,354.35 200.68,353.85 C200.83,353.35 200.94,352.92 201.24,352.62 C201.54,352.33 202.08,352.10 202.50,352.10 Z" fill="url(#mg)" filter="url(#soft)"/>
<path d="M210.10000000000002,369.1 L211.5,369.1 L211.45000000000002,381.2 L210.75000000000003,381.2 Z" fill="#9c9c9c"/>
<path d="M210.80,352.10 C211.22,352.10 211.76,352.33 212.06,352.62 C212.36,352.92 212.47,353.35 212.62,353.85 C212.77,354.35 212.79,354.96 212.97,355.60 C213.15,356.24 213.51,356.91 213.71,357.70 C213.90,358.49 214.03,359.28 214.12,360.33 C214.22,361.38 214.29,362.80 214.30,364.00 C214.31,365.20 214.39,366.61 214.16,367.50 C213.93,368.39 213.46,368.99 212.90,369.34 C212.34,369.69 211.50,369.60 210.80,369.60 C210.10,369.60 209.26,369.69 208.70,369.34 C208.14,368.99 207.67,368.39 207.44,367.50 C207.21,366.61 207.29,365.20 207.30,364.00 C207.31,362.80 207.38,361.38 207.48,360.33 C207.57,359.28 207.70,358.49 207.90,357.70 C208.09,356.91 208.45,356.24 208.63,355.60 C208.81,354.96 208.83,354.35 208.98,353.85 C209.13,353.35 209.24,352.92 209.54,352.62 C209.84,352.33 210.38,352.10 210.80,352.10 Z" fill="url(#mg)" filter="url(#soft)"/>
<path d="M218.4,369.1 L219.79999999999998,369.1 L219.75,381.2 L219.05,381.2 Z" fill="#9c9c9c"/>
<path d="M219.10,352.10 C219.52,352.10 220.06,352.33 220.36,352.62 C220.66,352.92 220.77,353.35 220.92,353.85 C221.07,354.35 221.09,354.96 221.27,355.60 C221.45,356.24 221.81,356.91 222.00,357.70 C222.20,358.49 222.33,359.28 222.42,360.33 C222.52,361.38 222.59,362.80 222.60,364.00 C222.61,365.20 222.69,366.61 222.46,367.50 C222.23,368.39 221.76,368.99 221.20,369.34 C220.64,369.69 219.80,369.60 219.10,369.60 C218.40,369.60 217.56,369.69 217.00,369.34 C216.44,368.99 215.97,368.39 215.74,367.50 C215.51,366.61 215.59,365.20 215.60,364.00 C215.61,362.80 215.68,361.38 215.78,360.33 C215.87,359.28 216.00,358.49 216.19,357.70 C216.39,356.91 216.75,356.24 216.93,355.60 C217.11,354.96 217.13,354.35 217.28,353.85 C217.43,353.35 217.54,352.92 217.84,352.62 C218.14,352.33 218.68,352.10 219.10,352.10 Z" fill="url(#mg)" filter="url(#soft)"/>
<path d="M226.9,369.1 L228.29999999999998,369.1 L228.25,381.2 L227.55,381.2 Z" fill="#9c9c9c"/>
<path d="M227.60,352.10 C228.02,352.10 228.56,352.33 228.86,352.62 C229.16,352.92 229.27,353.35 229.42,353.85 C229.57,354.35 229.59,354.96 229.77,355.60 C229.95,356.24 230.31,356.91 230.50,357.70 C230.70,358.49 230.83,359.28 230.92,360.33 C231.02,361.38 231.09,362.80 231.10,364.00 C231.11,365.20 231.19,366.61 230.96,367.50 C230.73,368.39 230.26,368.99 229.70,369.34 C229.14,369.69 228.30,369.60 227.60,369.60 C226.90,369.60 226.06,369.69 225.50,369.34 C224.94,368.99 224.47,368.39 224.24,367.50 C224.01,366.61 224.09,365.20 224.10,364.00 C224.11,362.80 224.18,361.38 224.28,360.33 C224.37,359.28 224.50,358.49 224.69,357.70 C224.89,356.91 225.25,356.24 225.43,355.60 C225.61,354.96 225.63,354.35 225.78,353.85 C225.93,353.35 226.04,352.92 226.34,352.62 C226.64,352.33 227.18,352.10 227.60,352.10 Z" fill="url(#mg)" filter="url(#soft)"/>
<path d="M235.4,369.1 L236.79999999999998,369.1 L236.75,381.2 L236.05,381.2 Z" fill="#9c9c9c"/>
<path d="M236.10,352.10 C236.52,352.10 237.06,352.33 237.36,352.62 C237.66,352.92 237.77,353.35 237.92,353.85 C238.07,354.35 238.09,354.96 238.27,355.60 C238.45,356.24 238.81,356.91 239.00,357.70 C239.20,358.49 239.33,359.28 239.42,360.33 C239.52,361.38 239.59,362.80 239.60,364.00 C239.61,365.20 239.69,366.61 239.46,367.50 C239.23,368.39 238.76,368.99 238.20,369.34 C237.64,369.69 236.80,369.60 236.10,369.60 C235.40,369.60 234.56,369.69 234.00,369.34 C233.44,368.99 232.97,368.39 232.74,367.50 C232.51,366.61 232.59,365.20 232.60,364.00 C232.61,362.80 232.68,361.38 232.78,360.33 C232.87,359.28 233.00,358.49 233.19,357.70 C233.39,356.91 233.75,356.24 233.93,355.60 C234.11,354.96 234.13,354.35 234.28,353.85 C234.43,353.35 234.54,352.92 234.84,352.62 C235.14,352.33 235.68,352.10 236.10,352.10 Z" fill="url(#mg)" filter="url(#soft)"/>
<rect x="195.5" y="350.5" width="47.0" height="31.5" filter="url(#mtex)" opacity="0.22"/>
<rect x="244.5" y="350.5" width="37.69999999999999" height="31.5" fill="url(#pbg)"/>
<rect x="244.85" y="350.85" width="36.999999999999986" height="30.8" fill="none" stroke="#1c1c1c" stroke-width="0.7"/>
<path d="M251.8,368.8 L253.2,368.8 L253.15,381.2 L252.45000000000002,381.2 Z" fill="#9c9c9c"/>
<path d="M252.50,352.30 C253.10,352.30 253.87,352.53 254.30,352.81 C254.73,353.09 254.88,353.52 255.10,354.00 C255.32,354.48 255.34,355.08 255.60,355.70 C255.86,356.32 256.38,356.98 256.65,357.74 C256.92,358.50 257.11,359.27 257.25,360.29 C257.39,361.31 257.49,362.70 257.50,363.86 C257.51,365.02 257.63,366.40 257.30,367.26 C256.97,368.12 256.30,368.71 255.50,369.05 C254.70,369.38 253.50,369.30 252.50,369.30 C251.50,369.30 250.30,369.38 249.50,369.05 C248.70,368.71 248.03,368.12 247.70,367.26 C247.37,366.40 247.49,365.02 247.50,363.86 C247.51,362.70 247.61,361.31 247.75,360.29 C247.89,359.27 248.07,358.50 248.35,357.74 C248.62,356.98 249.14,356.32 249.40,355.70 C249.66,355.08 249.68,354.48 249.90,354.00 C250.12,353.52 250.27,353.09 250.70,352.81 C251.13,352.53 251.90,352.30 252.50,352.30 Z" fill="url(#mg)" filter="url(#soft)"/>
<path d="M262.6,368.8 L264.0,368.8 L263.95000000000005,381.2 L263.25,381.2 Z" fill="#9c9c9c"/>
<path d="M263.30,352.30 C263.90,352.30 264.67,352.53 265.10,352.81 C265.53,353.09 265.68,353.52 265.90,354.00 C266.12,354.48 266.14,355.08 266.40,355.70 C266.66,356.32 267.18,356.98 267.45,357.74 C267.72,358.50 267.91,359.27 268.05,360.29 C268.19,361.31 268.29,362.70 268.30,363.86 C268.31,365.02 268.43,366.40 268.10,367.26 C267.77,368.12 267.10,368.71 266.30,369.05 C265.50,369.38 264.30,369.30 263.30,369.30 C262.30,369.30 261.10,369.38 260.30,369.05 C259.50,368.71 258.83,368.12 258.50,367.26 C258.17,366.40 258.29,365.02 258.30,363.86 C258.31,362.70 258.41,361.31 258.55,360.29 C258.69,359.27 258.88,358.50 259.15,357.74 C259.43,356.98 259.94,356.32 260.20,355.70 C260.46,355.08 260.48,354.48 260.70,354.00 C260.92,353.52 261.07,353.09 261.50,352.81 C261.93,352.53 262.70,352.30 263.30,352.30 Z" fill="url(#mg)" filter="url(#soft)"/>
<path d="M273.6,368.8 L275.0,368.8 L274.95000000000005,381.2 L274.25,381.2 Z" fill="#9c9c9c"/>
<path d="M274.30,352.30 C274.90,352.30 275.67,352.53 276.10,352.81 C276.53,353.09 276.68,353.52 276.90,354.00 C277.12,354.48 277.14,355.08 277.40,355.70 C277.66,356.32 278.18,356.98 278.45,357.74 C278.72,358.50 278.91,359.27 279.05,360.29 C279.19,361.31 279.29,362.70 279.30,363.86 C279.31,365.02 279.43,366.40 279.10,367.26 C278.77,368.12 278.10,368.71 277.30,369.05 C276.50,369.38 275.30,369.30 274.30,369.30 C273.30,369.30 272.10,369.38 271.30,369.05 C270.50,368.71 269.83,368.12 269.50,367.26 C269.17,366.40 269.29,365.02 269.30,363.86 C269.31,362.70 269.41,361.31 269.55,360.29 C269.69,359.27 269.88,358.50 270.15,357.74 C270.43,356.98 270.94,356.32 271.20,355.70 C271.46,355.08 271.48,354.48 271.70,354.00 C271.92,353.52 272.07,353.09 272.50,352.81 C272.93,352.53 273.70,352.30 274.30,352.30 Z" fill="url(#mg)" filter="url(#soft)"/>
<rect x="244.5" y="350.5" width="37.69999999999999" height="31.5" filter="url(#mtex)" opacity="0.22"/>
<rect x="40" y="383" width="49.5" height="33" fill="url(#pbg)"/>
<rect x="40.35" y="383.35" width="48.8" height="32.3" fill="none" stroke="#1c1c1c" stroke-width="0.7"/>
<path d="M45.199999999999996,401.6 L46.6,401.6 L46.55,415.2 L45.849999999999994,415.2 Z" fill="#9c9c9c"/>
<path d="M45.90,384.60 C46.33,384.60 46.88,384.83 47.20,385.12 C47.51,385.42 47.62,385.85 47.77,386.35 C47.93,386.85 47.95,387.46 48.13,388.10 C48.32,388.74 48.69,389.41 48.89,390.20 C49.09,390.99 49.22,391.78 49.32,392.83 C49.42,393.88 49.49,395.30 49.50,396.50 C49.51,397.70 49.60,399.11 49.36,400.00 C49.12,400.89 48.64,401.49 48.06,401.84 C47.48,402.19 46.62,402.10 45.90,402.10 C45.18,402.10 44.32,402.19 43.74,401.84 C43.16,401.49 42.68,400.89 42.44,400.00 C42.20,399.11 42.29,397.70 42.30,396.50 C42.31,395.30 42.38,393.88 42.48,392.83 C42.58,391.78 42.71,390.99 42.91,390.20 C43.11,389.41 43.48,388.74 43.67,388.10 C43.85,387.46 43.87,386.85 44.03,386.35 C44.18,385.85 44.29,385.42 44.60,385.12 C44.92,384.83 45.47,384.60 45.90,384.60 Z" fill="url(#mg)" filter="url(#soft)"/>
<ellipse cx="45.4" cy="389.1" rx="2.2" ry="1.9800000000000002" fill="#3d2fb0" opacity="0.9"/><ellipse cx="45.4" cy="389.1" rx="0.9900000000000001" ry="0.8800000000000001" fill="#4a8fe0" opacity="0.9"/>
<ellipse cx="44.4" cy="395.1" rx="2.0" ry="1.8" fill="#3d2fb0"/><ellipse cx="44.4" cy="395.1" rx="1.3" ry="1.2" fill="#3aa6c8"/><ellipse cx="44.4" cy="395.1" rx="0.7" ry="0.6" fill="#a8d040"/>
<ellipse cx="47.4" cy="392.6" rx="1.5" ry="1.35" fill="#4a32b5" opacity="0.85"/>
<ellipse cx="43.699999999999996" cy="398.6" rx="1.2" ry="1.08" fill="#3d2fb0"/><ellipse cx="43.699999999999996" cy="398.6" rx="0.9839999999999999" ry="0.8999999999999999" fill="#38b0c8"/><ellipse cx="43.699999999999996" cy="398.6" rx="0.8160000000000001" ry="0.744" fill="#f0d020"/><ellipse cx="43.699999999999996" cy="398.6" rx="0.66" ry="0.6" fill="#e01010"/>
<ellipse cx="47.9" cy="398.6" rx="1.4" ry="1.26" fill="#3d2fb0" opacity="0.9"/><ellipse cx="47.9" cy="398.6" rx="0.63" ry="0.5599999999999999" fill="#4a8fe0" opacity="0.9"/>
<path d="M54.5,401.6 L55.900000000000006,401.6 L55.85,415.2 L55.15,415.2 Z" fill="#9c9c9c"/>
<path d="M55.20,384.60 C55.63,384.60 56.18,384.83 56.50,385.12 C56.81,385.42 56.92,385.85 57.07,386.35 C57.23,386.85 57.25,387.46 57.43,388.10 C57.62,388.74 57.99,389.41 58.19,390.20 C58.39,390.99 58.52,391.78 58.62,392.83 C58.72,393.88 58.79,395.30 58.80,396.50 C58.81,397.70 58.90,399.11 58.66,400.00 C58.42,400.89 57.94,401.49 57.36,401.84 C56.78,402.19 55.92,402.10 55.20,402.10 C54.48,402.10 53.62,402.19 53.04,401.84 C52.46,401.49 51.98,400.89 51.74,400.00 C51.50,399.11 51.59,397.70 51.60,396.50 C51.61,395.30 51.68,393.88 51.78,392.83 C51.88,391.78 52.01,390.99 52.21,390.20 C52.41,389.41 52.78,388.74 52.97,388.10 C53.15,387.46 53.17,386.85 53.33,386.35 C53.48,385.85 53.59,385.42 53.90,385.12 C54.22,384.83 54.77,384.60 55.20,384.60 Z" fill="url(#mg)" filter="url(#soft)"/>
<ellipse cx="54.2" cy="394.1" rx="1.2" ry="1.08" fill="#4a32b5" opacity="0.85"/>
<ellipse cx="57.0" cy="397.6" rx="1.8" ry="1.62" fill="#3d2fb0" opacity="0.9"/><ellipse cx="57.0" cy="397.6" rx="0.81" ry="0.7200000000000001" fill="#4a8fe0" opacity="0.9"/>
<path d="M63.89999999999999,401.6 L65.3,401.6 L65.24999999999999,415.2 L64.55,415.2 Z" fill="#9c9c9c"/>
<path d="M64.60,384.60 C65.03,384.60 65.58,384.83 65.90,385.12 C66.21,385.42 66.32,385.85 66.47,386.35 C66.63,386.85 66.65,387.46 66.83,388.10 C67.02,388.74 67.39,389.41 67.59,390.20 C67.79,390.99 67.92,391.78 68.02,392.83 C68.12,393.88 68.19,395.30 68.20,396.50 C68.21,397.70 68.30,399.11 68.06,400.00 C67.82,400.89 67.34,401.49 66.76,401.84 C66.18,402.19 65.32,402.10 64.60,402.10 C63.88,402.10 63.02,402.19 62.44,401.84 C61.86,401.49 61.38,400.89 61.14,400.00 C60.90,399.11 60.99,397.70 61.00,396.50 C61.01,395.30 61.08,393.88 61.18,392.83 C61.28,391.78 61.41,390.99 61.61,390.20 C61.81,389.41 62.18,388.74 62.37,388.10 C62.55,387.46 62.57,386.85 62.73,386.35 C62.88,385.85 62.99,385.42 63.30,385.12 C63.62,384.83 64.17,384.60 64.60,384.60 Z" fill="url(#mg)" filter="url(#soft)"/>
<ellipse cx="64.6" cy="389.1" rx="1.6" ry="1.4400000000000002" fill="#4a32b5" opacity="0.85"/>
<ellipse cx="63.39999999999999" cy="393.6" rx="1.8" ry="1.62" fill="#3d2fb0" opacity="0.9"/><ellipse cx="63.39999999999999" cy="393.6" rx="0.81" ry="0.7200000000000001" fill="#4a8fe0" opacity="0.9"/>
<ellipse cx="65.8" cy="397.6" rx="1.6" ry="1.4400000000000002" fill="#3d2fb0"/><ellipse cx="65.8" cy="397.6" rx="1.04" ry="0.96" fill="#3aa6c8"/><ellipse cx="65.8" cy="397.6" rx="0.5599999999999999" ry="0.48" fill="#a8d040"/>
<path d="M73.3,401.6 L74.7,401.6 L74.64999999999999,415.2 L73.95,415.2 Z" fill="#9c9c9c"/>
<path d="M74.00,384.60 C74.43,384.60 74.98,384.83 75.30,385.12 C75.61,385.42 75.72,385.85 75.87,386.35 C76.03,386.85 76.05,387.46 76.23,388.10 C76.42,388.74 76.79,389.41 76.99,390.20 C77.19,390.99 77.32,391.78 77.42,392.83 C77.52,393.88 77.59,395.30 77.60,396.50 C77.61,397.70 77.70,399.11 77.46,400.00 C77.22,400.89 76.74,401.49 76.16,401.84 C75.58,402.19 74.72,402.10 74.00,402.10 C73.28,402.10 72.42,402.19 71.84,401.84 C71.26,401.49 70.78,400.89 70.54,400.00 C70.30,399.11 70.39,397.70 70.40,396.50 C70.41,395.30 70.48,393.88 70.58,392.83 C70.68,391.78 70.81,390.99 71.01,390.20 C71.21,389.41 71.58,388.74 71.77,388.10 C71.95,387.46 71.97,386.85 72.13,386.35 C72.28,385.85 72.39,385.42 72.70,385.12 C73.02,384.83 73.57,384.60 74.00,384.60 Z" fill="url(#mg)" filter="url(#soft)"/>
<ellipse cx="71.5" cy="398.1" rx="1.1" ry="0.9900000000000001" fill="#4a32b5" opacity="0.85"/>
<path d="M82.6,401.6 L84.0,401.6 L83.94999999999999,415.2 L83.25,415.2 Z" fill="#9c9c9c"/>
<path d="M83.30,384.60 C83.73,384.60 84.28,384.83 84.60,385.12 C84.91,385.42 85.02,385.85 85.17,386.35 C85.33,386.85 85.35,387.46 85.53,388.10 C85.72,388.74 86.09,389.41 86.29,390.20 C86.49,390.99 86.62,391.78 86.72,392.83 C86.82,393.88 86.89,395.30 86.90,396.50 C86.91,397.70 87.00,399.11 86.76,400.00 C86.52,400.89 86.04,401.49 85.46,401.84 C84.88,402.19 84.02,402.10 83.30,402.10 C82.58,402.10 81.72,402.19 81.14,401.84 C80.56,401.49 80.08,400.89 79.84,400.00 C79.60,399.11 79.69,397.70 79.70,396.50 C79.71,395.30 79.78,393.88 79.88,392.83 C79.98,391.78 80.11,390.99 80.31,390.20 C80.51,389.41 80.88,388.74 81.07,388.10 C81.25,387.46 81.27,386.85 81.43,386.35 C81.58,385.85 81.69,385.42 82.00,385.12 C82.32,384.83 82.87,384.60 83.30,384.60 Z" fill="url(#mg)" filter="url(#soft)"/>
<ellipse cx="83.8" cy="389.1" rx="1.6" ry="1.4400000000000002" fill="#3d2fb0" opacity="0.9"/><ellipse cx="83.8" cy="389.1" rx="0.7200000000000001" ry="0.6400000000000001" fill="#4a8fe0" opacity="0.9"/>
<ellipse cx="85.1" cy="393.6" rx="1.6" ry="1.4400000000000002" fill="#3d2fb0" opacity="0.9"/><ellipse cx="85.1" cy="393.6" rx="0.7200000000000001" ry="0.6400000000000001" fill="#4a8fe0" opacity="0.9"/>
<ellipse cx="85.89999999999999" cy="398.1" rx="1.3" ry="1.1700000000000002" fill="#3d2fb0"/><ellipse cx="85.89999999999999" cy="398.1" rx="1.066" ry="0.9750000000000001" fill="#38b0c8"/><ellipse cx="85.89999999999999" cy="398.1" rx="0.8840000000000001" ry="0.806" fill="#f0d020"/><ellipse cx="85.89999999999999" cy="398.1" rx="0.7150000000000001" ry="0.65" fill="#e01010"/>
<ellipse cx="81.8" cy="397.1" rx="1.2" ry="1.08" fill="#4a32b5" opacity="0.85"/>
<rect x="40" y="383" width="49.5" height="33" filter="url(#mtex)" opacity="0.22"/>
<rect x="91.5" y="383" width="50.0" height="33" fill="url(#pbg)"/>
<rect x="91.85" y="383.35" width="49.3" height="32.3" fill="none" stroke="#1c1c1c" stroke-width="0.7"/>
<path d="M97.5,401.6 L98.9,401.6 L98.85,415.2 L98.15,415.2 Z" fill="#9c9c9c"/>
<path d="M98.20,384.60 C98.63,384.60 99.18,384.83 99.50,385.12 C99.81,385.42 99.92,385.85 100.07,386.35 C100.23,386.85 100.25,387.46 100.43,388.10 C100.62,388.74 100.99,389.41 101.19,390.20 C101.39,390.99 101.52,391.78 101.62,392.83 C101.72,393.88 101.79,395.30 101.80,396.50 C101.81,397.70 101.90,399.11 101.66,400.00 C101.42,400.89 100.94,401.49 100.36,401.84 C99.78,402.19 98.92,402.10 98.20,402.10 C97.48,402.10 96.62,402.19 96.04,401.84 C95.46,401.49 94.98,400.89 94.74,400.00 C94.50,399.11 94.59,397.70 94.60,396.50 C94.61,395.30 94.68,393.88 94.78,392.83 C94.88,391.78 95.01,390.99 95.21,390.20 C95.41,389.41 95.78,388.74 95.97,388.10 C96.15,387.46 96.17,386.85 96.33,386.35 C96.48,385.85 96.59,385.42 96.90,385.12 C97.22,384.83 97.77,384.60 98.20,384.60 Z" fill="url(#mg)" filter="url(#soft)"/>
<ellipse cx="97.2" cy="393.6" rx="0.7" ry="0.63" fill="#4a32b5" opacity="0.85"/>
<path d="M106.7,401.6 L108.10000000000001,401.6 L108.05,415.2 L107.35000000000001,415.2 Z" fill="#9c9c9c"/>
<path d="M107.40,384.60 C107.83,384.60 108.38,384.83 108.70,385.12 C109.01,385.42 109.12,385.85 109.27,386.35 C109.43,386.85 109.45,387.46 109.63,388.10 C109.82,388.74 110.19,389.41 110.39,390.20 C110.59,390.99 110.72,391.78 110.82,392.83 C110.92,393.88 110.99,395.30 111.00,396.50 C111.01,397.70 111.10,399.11 110.86,400.00 C110.62,400.89 110.14,401.49 109.56,401.84 C108.98,402.19 108.12,402.10 107.40,402.10 C106.68,402.10 105.82,402.19 105.24,401.84 C104.66,401.49 104.18,400.89 103.94,400.00 C103.70,399.11 103.79,397.70 103.80,396.50 C103.81,395.30 103.88,393.88 103.98,392.83 C104.08,391.78 104.21,390.99 104.41,390.20 C104.61,389.41 104.98,388.74 105.17,388.10 C105.35,387.46 105.37,386.85 105.53,386.35 C105.68,385.85 105.79,385.42 106.10,385.12 C106.42,384.83 106.97,384.60 107.40,384.60 Z" fill="url(#mg)" filter="url(#soft)"/>
<path d="M115.89999999999999,401.6 L117.3,401.6 L117.24999999999999,415.2 L116.55,415.2 Z" fill="#9c9c9c"/>
<path d="M116.60,384.60 C117.03,384.60 117.58,384.83 117.90,385.12 C118.21,385.42 118.32,385.85 118.47,386.35 C118.63,386.85 118.65,387.46 118.83,388.10 C119.02,388.74 119.39,389.41 119.59,390.20 C119.79,390.99 119.92,391.78 120.02,392.83 C120.12,393.88 120.19,395.30 120.20,396.50 C120.21,397.70 120.30,399.11 120.06,400.00 C119.82,400.89 119.34,401.49 118.76,401.84 C118.18,402.19 117.32,402.10 116.60,402.10 C115.88,402.10 115.02,402.19 114.44,401.84 C113.86,401.49 113.38,400.89 113.14,400.00 C112.90,399.11 112.99,397.70 113.00,396.50 C113.01,395.30 113.08,393.88 113.18,392.83 C113.28,391.78 113.41,390.99 113.61,390.20 C113.81,389.41 114.18,388.74 114.37,388.10 C114.55,387.46 114.57,386.85 114.73,386.35 C114.88,385.85 114.99,385.42 115.30,385.12 C115.62,384.83 116.17,384.60 116.60,384.60 Z" fill="url(#mg)" filter="url(#soft)"/>
<ellipse cx="114.6" cy="397.1" rx="0.9" ry="0.81" fill="#4a32b5" opacity="0.85"/>
<path d="M125.2,401.6 L126.60000000000001,401.6 L126.55,415.2 L125.85000000000001,415.2 Z" fill="#9c9c9c"/>
<path d="M125.90,384.60 C126.33,384.60 126.88,384.83 127.20,385.12 C127.51,385.42 127.62,385.85 127.77,386.35 C127.93,386.85 127.95,387.46 128.13,388.10 C128.32,388.74 128.69,389.41 128.89,390.20 C129.09,390.99 129.22,391.78 129.32,392.83 C129.42,393.88 129.49,395.30 129.50,396.50 C129.51,397.70 129.60,399.11 129.36,400.00 C129.12,400.89 128.64,401.49 128.06,401.84 C127.48,402.19 126.62,402.10 125.90,402.10 C125.18,402.10 124.32,402.19 123.74,401.84 C123.16,401.49 122.68,400.89 122.44,400.00 C122.20,399.11 122.29,397.70 122.30,396.50 C122.31,395.30 122.38,393.88 122.48,392.83 C122.58,391.78 122.71,390.99 122.91,390.20 C123.11,389.41 123.48,388.74 123.67,388.10 C123.85,387.46 123.87,386.85 124.03,386.35 C124.18,385.85 124.29,385.42 124.60,385.12 C124.92,384.83 125.47,384.60 125.90,384.60 Z" fill="url(#mg)" filter="url(#soft)"/>
<path d="M134.5,401.6 L135.89999999999998,401.6 L135.85,415.2 L135.15,415.2 Z" fill="#9c9c9c"/>
<path d="M135.20,384.60 C135.63,384.60 136.18,384.83 136.50,385.12 C136.81,385.42 136.92,385.85 137.07,386.35 C137.23,386.85 137.25,387.46 137.43,388.10 C137.62,388.74 137.99,389.41 138.19,390.20 C138.39,390.99 138.52,391.78 138.62,392.83 C138.72,393.88 138.79,395.30 138.80,396.50 C138.81,397.70 138.90,399.11 138.66,400.00 C138.42,400.89 137.94,401.49 137.36,401.84 C136.78,402.19 135.92,402.10 135.20,402.10 C134.48,402.10 133.62,402.19 133.04,401.84 C132.46,401.49 131.98,400.89 131.74,400.00 C131.50,399.11 131.59,397.70 131.60,396.50 C131.61,395.30 131.68,393.88 131.78,392.83 C131.88,391.78 132.01,390.99 132.21,390.20 C132.41,389.41 132.78,388.74 132.97,388.10 C133.15,387.46 133.17,386.85 133.33,386.35 C133.48,385.85 133.59,385.42 133.90,385.12 C134.22,384.83 134.77,384.60 135.20,384.60 Z" fill="url(#mg)" filter="url(#soft)"/>
<ellipse cx="136.7" cy="390.6" rx="1.3" ry="1.1700000000000002" fill="#4a32b5" opacity="0.85"/>
<ellipse cx="134.7" cy="397.1" rx="1.2" ry="1.08" fill="#3d2fb0"/><ellipse cx="134.7" cy="397.1" rx="0.9839999999999999" ry="0.8999999999999999" fill="#38b0c8"/><ellipse cx="134.7" cy="397.1" rx="0.8160000000000001" ry="0.744" fill="#f0d020"/><ellipse cx="134.7" cy="397.1" rx="0.66" ry="0.6" fill="#e01010"/>
<rect x="91.5" y="383" width="50.0" height="33" filter="url(#mtex)" opacity="0.22"/>
<rect x="143.5" y="383" width="50.0" height="33" fill="url(#pbg)"/>
<rect x="143.85" y="383.35" width="49.3" height="32.3" fill="none" stroke="#1c1c1c" stroke-width="0.7"/>
<path d="M149.4,401.6 L150.79999999999998,401.6 L150.75,415.2 L150.05,415.2 Z" fill="#9c9c9c"/>
<path d="M150.10,384.60 C150.53,384.60 151.08,384.83 151.40,385.12 C151.71,385.42 151.82,385.85 151.97,386.35 C152.13,386.85 152.15,387.46 152.33,388.10 C152.52,388.74 152.89,389.41 153.09,390.20 C153.29,390.99 153.42,391.78 153.52,392.83 C153.62,393.88 153.69,395.30 153.70,396.50 C153.71,397.70 153.80,399.11 153.56,400.00 C153.32,400.89 152.84,401.49 152.26,401.84 C151.68,402.19 150.82,402.10 150.10,402.10 C149.38,402.10 148.52,402.19 147.94,401.84 C147.36,401.49 146.88,400.89 146.64,400.00 C146.40,399.11 146.49,397.70 146.50,396.50 C146.51,395.30 146.58,393.88 146.68,392.83 C146.78,391.78 146.91,390.99 147.11,390.20 C147.31,389.41 147.68,388.74 147.87,388.10 C148.05,387.46 148.07,386.85 148.23,386.35 C148.38,385.85 148.49,385.42 148.80,385.12 C149.12,384.83 149.67,384.60 150.10,384.60 Z" fill="url(#mg)" filter="url(#soft)"/>
<path d="M158.60000000000002,401.6 L160.0,401.6 L159.95000000000002,415.2 L159.25000000000003,415.2 Z" fill="#9c9c9c"/>
<path d="M159.30,384.60 C159.73,384.60 160.28,384.83 160.60,385.12 C160.91,385.42 161.02,385.85 161.17,386.35 C161.33,386.85 161.35,387.46 161.53,388.10 C161.72,388.74 162.09,389.41 162.29,390.20 C162.49,390.99 162.62,391.78 162.72,392.83 C162.82,393.88 162.89,395.30 162.90,396.50 C162.91,397.70 163.00,399.11 162.76,400.00 C162.52,400.89 162.04,401.49 161.46,401.84 C160.88,402.19 160.02,402.10 159.30,402.10 C158.58,402.10 157.72,402.19 157.14,401.84 C156.56,401.49 156.08,400.89 155.84,400.00 C155.60,399.11 155.69,397.70 155.70,396.50 C155.71,395.30 155.78,393.88 155.88,392.83 C155.98,391.78 156.11,390.99 156.31,390.20 C156.51,389.41 156.88,388.74 157.07,388.10 C157.25,387.46 157.27,386.85 157.43,386.35 C157.58,385.85 157.69,385.42 158.00,385.12 C158.32,384.83 158.87,384.60 159.30,384.60 Z" fill="url(#mg)" filter="url(#soft)"/>
<path d="M167.8,401.6 L169.2,401.6 L169.15,415.2 L168.45000000000002,415.2 Z" fill="#9c9c9c"/>
<path d="M168.50,384.60 C168.93,384.60 169.48,384.83 169.80,385.12 C170.11,385.42 170.22,385.85 170.37,386.35 C170.53,386.85 170.55,387.46 170.73,388.10 C170.92,388.74 171.29,389.41 171.49,390.20 C171.69,390.99 171.82,391.78 171.92,392.83 C172.02,393.88 172.09,395.30 172.10,396.50 C172.11,397.70 172.20,399.11 171.96,400.00 C171.72,400.89 171.24,401.49 170.66,401.84 C170.08,402.19 169.22,402.10 168.50,402.10 C167.78,402.10 166.92,402.19 166.34,401.84 C165.76,401.49 165.28,400.89 165.04,400.00 C164.80,399.11 164.89,397.70 164.90,396.50 C164.91,395.30 164.98,393.88 165.08,392.83 C165.18,391.78 165.31,390.99 165.51,390.20 C165.71,389.41 166.08,388.74 166.27,388.10 C166.45,387.46 166.47,386.85 166.63,386.35 C166.78,385.85 166.89,385.42 167.20,385.12 C167.52,384.83 168.07,384.60 168.50,384.60 Z" fill="url(#mg)" filter="url(#soft)"/>
<path d="M176.9,401.6 L178.29999999999998,401.6 L178.25,415.2 L177.55,415.2 Z" fill="#9c9c9c"/>
<path d="M177.60,384.60 C178.03,384.60 178.58,384.83 178.90,385.12 C179.21,385.42 179.32,385.85 179.47,386.35 C179.63,386.85 179.65,387.46 179.83,388.10 C180.02,388.74 180.39,389.41 180.59,390.20 C180.79,390.99 180.92,391.78 181.02,392.83 C181.12,393.88 181.19,395.30 181.20,396.50 C181.21,397.70 181.30,399.11 181.06,400.00 C180.82,400.89 180.34,401.49 179.76,401.84 C179.18,402.19 178.32,402.10 177.60,402.10 C176.88,402.10 176.02,402.19 175.44,401.84 C174.86,401.49 174.38,400.89 174.14,400.00 C173.90,399.11 173.99,397.70 174.00,396.50 C174.01,395.30 174.08,393.88 174.18,392.83 C174.28,391.78 174.41,390.99 174.61,390.20 C174.81,389.41 175.18,388.74 175.37,388.10 C175.55,387.46 175.57,386.85 175.73,386.35 C175.88,385.85 175.99,385.42 176.30,385.12 C176.62,384.83 177.17,384.60 177.60,384.60 Z" fill="url(#mg)" filter="url(#soft)"/>
<path d="M185.9,401.6 L187.29999999999998,401.6 L187.25,415.2 L186.55,415.2 Z" fill="#9c9c9c"/>
<path d="M186.60,384.60 C187.03,384.60 187.58,384.83 187.90,385.12 C188.21,385.42 188.32,385.85 188.47,386.35 C188.63,386.85 188.65,387.46 188.83,388.10 C189.02,388.74 189.39,389.41 189.59,390.20 C189.79,390.99 189.92,391.78 190.02,392.83 C190.12,393.88 190.19,395.30 190.20,396.50 C190.21,397.70 190.30,399.11 190.06,400.00 C189.82,400.89 189.34,401.49 188.76,401.84 C188.18,402.19 187.32,402.10 186.60,402.10 C185.88,402.10 185.02,402.19 184.44,401.84 C183.86,401.49 183.38,400.89 183.14,400.00 C182.90,399.11 182.99,397.70 183.00,396.50 C183.01,395.30 183.08,393.88 183.18,392.83 C183.28,391.78 183.41,390.99 183.61,390.20 C183.81,389.41 184.18,388.74 184.37,388.10 C184.55,387.46 184.57,386.85 184.73,386.35 C184.88,385.85 184.99,385.42 185.30,385.12 C185.62,384.83 186.17,384.60 186.60,384.60 Z" fill="url(#mg)" filter="url(#soft)"/>
<rect x="143.5" y="383" width="50.0" height="33" filter="url(#mtex)" opacity="0.22"/>
<rect x="195.5" y="383" width="47.0" height="33" fill="url(#pbg)"/>
<rect x="195.85" y="383.35" width="46.3" height="32.3" fill="none" stroke="#1c1c1c" stroke-width="0.7"/>
<path d="M201.8,401.6 L203.2,401.6 L203.15,415.2 L202.45000000000002,415.2 Z" fill="#9c9c9c"/>
<path d="M202.50,384.60 C202.92,384.60 203.46,384.83 203.76,385.12 C204.06,385.42 204.17,385.85 204.32,386.35 C204.47,386.85 204.49,387.46 204.67,388.10 C204.85,388.74 205.21,389.41 205.41,390.20 C205.60,390.99 205.73,391.78 205.82,392.83 C205.92,393.88 205.99,395.30 206.00,396.50 C206.01,397.70 206.09,399.11 205.86,400.00 C205.63,400.89 205.16,401.49 204.60,401.84 C204.04,402.19 203.20,402.10 202.50,402.10 C201.80,402.10 200.96,402.19 200.40,401.84 C199.84,401.49 199.37,400.89 199.14,400.00 C198.91,399.11 198.99,397.70 199.00,396.50 C199.01,395.30 199.08,393.88 199.18,392.83 C199.27,391.78 199.40,390.99 199.59,390.20 C199.79,389.41 200.15,388.74 200.33,388.10 C200.51,387.46 200.53,386.85 200.68,386.35 C200.83,385.85 200.94,385.42 201.24,385.12 C201.54,384.83 202.08,384.60 202.50,384.60 Z" fill="url(#mg)" filter="url(#soft)"/>
<ellipse cx="204.5" cy="397.6" rx="1.0" ry="0.9" fill="#3d2fb0" opacity="0.9"/><ellipse cx="204.5" cy="397.6" rx="0.45" ry="0.4" fill="#4a8fe0" opacity="0.9"/>
<path d="M210.10000000000002,401.6 L211.5,401.6 L211.45000000000002,415.2 L210.75000000000003,415.2 Z" fill="#9c9c9c"/>
<path d="M210.80,384.60 C211.22,384.60 211.76,384.83 212.06,385.12 C212.36,385.42 212.47,385.85 212.62,386.35 C212.77,386.85 212.79,387.46 212.97,388.10 C213.15,388.74 213.51,389.41 213.71,390.20 C213.90,390.99 214.03,391.78 214.12,392.83 C214.22,393.88 214.29,395.30 214.30,396.50 C214.31,397.70 214.39,399.11 214.16,400.00 C213.93,400.89 213.46,401.49 212.90,401.84 C212.34,402.19 211.50,402.10 210.80,402.10 C210.10,402.10 209.26,402.19 208.70,401.84 C208.14,401.49 207.67,400.89 207.44,400.00 C207.21,399.11 207.29,397.70 207.30,396.50 C207.31,395.30 207.38,393.88 207.48,392.83 C207.57,391.78 207.70,390.99 207.90,390.20 C208.09,389.41 208.45,388.74 208.63,388.10 C208.81,387.46 208.83,386.85 208.98,386.35 C209.13,385.85 209.24,385.42 209.54,385.12 C209.84,384.83 210.38,384.60 210.80,384.60 Z" fill="url(#mg)" filter="url(#soft)"/>
<path d="M218.4,401.6 L219.79999999999998,401.6 L219.75,415.2 L219.05,415.2 Z" fill="#9c9c9c"/>
<path d="M219.10,384.60 C219.52,384.60 220.06,384.83 220.36,385.12 C220.66,385.42 220.77,385.85 220.92,386.35 C221.07,386.85 221.09,387.46 221.27,388.10 C221.45,388.74 221.81,389.41 222.00,390.20 C222.20,390.99 222.33,391.78 222.42,392.83 C222.52,393.88 222.59,395.30 222.60,396.50 C222.61,397.70 222.69,399.11 222.46,400.00 C222.23,400.89 221.76,401.49 221.20,401.84 C220.64,402.19 219.80,402.10 219.10,402.10 C218.40,402.10 217.56,402.19 217.00,401.84 C216.44,401.49 215.97,400.89 215.74,400.00 C215.51,399.11 215.59,397.70 215.60,396.50 C215.61,395.30 215.68,393.88 215.78,392.83 C215.87,391.78 216.00,390.99 216.19,390.20 C216.39,389.41 216.75,388.74 216.93,388.10 C217.11,387.46 217.13,386.85 217.28,386.35 C217.43,385.85 217.54,385.42 217.84,385.12 C218.14,384.83 218.68,384.60 219.10,384.60 Z" fill="url(#mg)" filter="url(#soft)"/>
<path d="M226.9,401.6 L228.29999999999998,401.6 L228.25,415.2 L227.55,415.2 Z" fill="#9c9c9c"/>
<path d="M227.60,384.60 C228.02,384.60 228.56,384.83 228.86,385.12 C229.16,385.42 229.27,385.85 229.42,386.35 C229.57,386.85 229.59,387.46 229.77,388.10 C229.95,388.74 230.31,389.41 230.50,390.20 C230.70,390.99 230.83,391.78 230.92,392.83 C231.02,393.88 231.09,395.30 231.10,396.50 C231.11,397.70 231.19,399.11 230.96,400.00 C230.73,400.89 230.26,401.49 229.70,401.84 C229.14,402.19 228.30,402.10 227.60,402.10 C226.90,402.10 226.06,402.19 225.50,401.84 C224.94,401.49 224.47,400.89 224.24,400.00 C224.01,399.11 224.09,397.70 224.10,396.50 C224.11,395.30 224.18,393.88 224.28,392.83 C224.37,391.78 224.50,390.99 224.69,390.20 C224.89,389.41 225.25,388.74 225.43,388.10 C225.61,387.46 225.63,386.85 225.78,386.35 C225.93,385.85 226.04,385.42 226.34,385.12 C226.64,384.83 227.18,384.60 227.60,384.60 Z" fill="url(#mg)" filter="url(#soft)"/>
<path d="M235.4,401.6 L236.79999999999998,401.6 L236.75,415.2 L236.05,415.2 Z" fill="#9c9c9c"/>
<path d="M236.10,384.60 C236.52,384.60 237.06,384.83 237.36,385.12 C237.66,385.42 237.77,385.85 237.92,386.35 C238.07,386.85 238.09,387.46 238.27,388.10 C238.45,388.74 238.81,389.41 239.00,390.20 C239.20,390.99 239.33,391.78 239.42,392.83 C239.52,393.88 239.59,395.30 239.60,396.50 C239.61,397.70 239.69,399.11 239.46,400.00 C239.23,400.89 238.76,401.49 238.20,401.84 C237.64,402.19 236.80,402.10 236.10,402.10 C235.40,402.10 234.56,402.19 234.00,401.84 C233.44,401.49 232.97,400.89 232.74,400.00 C232.51,399.11 232.59,397.70 232.60,396.50 C232.61,395.30 232.68,393.88 232.78,392.83 C232.87,391.78 233.00,390.99 233.19,390.20 C233.39,389.41 233.75,388.74 233.93,388.10 C234.11,387.46 234.13,386.85 234.28,386.35 C234.43,385.85 234.54,385.42 234.84,385.12 C235.14,384.83 235.68,384.60 236.10,384.60 Z" fill="url(#mg)" filter="url(#soft)"/>
<rect x="195.5" y="383" width="47.0" height="33" filter="url(#mtex)" opacity="0.22"/>
<rect x="244.5" y="383" width="37.69999999999999" height="33" fill="url(#pbg)"/>
<rect x="244.85" y="383.35" width="36.999999999999986" height="32.3" fill="none" stroke="#1c1c1c" stroke-width="0.7"/>
<path d="M251.8,401.3 L253.2,401.3 L253.15,415.2 L252.45000000000002,415.2 Z" fill="#9c9c9c"/>
<path d="M252.50,384.80 C253.10,384.80 253.87,385.03 254.30,385.31 C254.73,385.59 254.88,386.02 255.10,386.50 C255.32,386.98 255.34,387.58 255.60,388.20 C255.86,388.82 256.38,389.48 256.65,390.24 C256.92,391.00 257.11,391.77 257.25,392.79 C257.39,393.81 257.49,395.20 257.50,396.36 C257.51,397.52 257.63,398.90 257.30,399.76 C256.97,400.62 256.30,401.21 255.50,401.55 C254.70,401.88 253.50,401.80 252.50,401.80 C251.50,401.80 250.30,401.88 249.50,401.55 C248.70,401.21 248.03,400.62 247.70,399.76 C247.37,398.90 247.49,397.52 247.50,396.36 C247.51,395.20 247.61,393.81 247.75,392.79 C247.89,391.77 248.07,391.00 248.35,390.24 C248.62,389.48 249.14,388.82 249.40,388.20 C249.66,387.58 249.68,386.98 249.90,386.50 C250.12,386.02 250.27,385.59 250.70,385.31 C251.13,385.03 251.90,384.80 252.50,384.80 Z" fill="url(#mg)" filter="url(#soft)"/>
<path d="M262.6,401.3 L264.0,401.3 L263.95000000000005,415.2 L263.25,415.2 Z" fill="#9c9c9c"/>
<path d="M263.30,384.80 C263.90,384.80 264.67,385.03 265.10,385.31 C265.53,385.59 265.68,386.02 265.90,386.50 C266.12,386.98 266.14,387.58 266.40,388.20 C266.66,388.82 267.18,389.48 267.45,390.24 C267.72,391.00 267.91,391.77 268.05,392.79 C268.19,393.81 268.29,395.20 268.30,396.36 C268.31,397.52 268.43,398.90 268.10,399.76 C267.77,400.62 267.10,401.21 266.30,401.55 C265.50,401.88 264.30,401.80 263.30,401.80 C262.30,401.80 261.10,401.88 260.30,401.55 C259.50,401.21 258.83,400.62 258.50,399.76 C258.17,398.90 258.29,397.52 258.30,396.36 C258.31,395.20 258.41,393.81 258.55,392.79 C258.69,391.77 258.88,391.00 259.15,390.24 C259.43,389.48 259.94,388.82 260.20,388.20 C260.46,387.58 260.48,386.98 260.70,386.50 C260.92,386.02 261.07,385.59 261.50,385.31 C261.93,385.03 262.70,384.80 263.30,384.80 Z" fill="url(#mg)" filter="url(#soft)"/>
<path d="M273.6,401.3 L275.0,401.3 L274.95000000000005,415.2 L274.25,415.2 Z" fill="#9c9c9c"/>
<path d="M274.30,384.80 C274.90,384.80 275.67,385.03 276.10,385.31 C276.53,385.59 276.68,386.02 276.90,386.50 C277.12,386.98 277.14,387.58 277.40,388.20 C277.66,388.82 278.18,389.48 278.45,390.24 C278.72,391.00 278.91,391.77 279.05,392.79 C279.19,393.81 279.29,395.20 279.30,396.36 C279.31,397.52 279.43,398.90 279.10,399.76 C278.77,400.62 278.10,401.21 277.30,401.55 C276.50,401.88 275.30,401.80 274.30,401.80 C273.30,401.80 272.10,401.88 271.30,401.55 C270.50,401.21 269.83,400.62 269.50,399.76 C269.17,398.90 269.29,397.52 269.30,396.36 C269.31,395.20 269.41,393.81 269.55,392.79 C269.69,391.77 269.88,391.00 270.15,390.24 C270.43,389.48 270.94,388.82 271.20,388.20 C271.46,387.58 271.48,386.98 271.70,386.50 C271.92,386.02 272.07,385.59 272.50,385.31 C272.93,385.03 273.70,384.80 274.30,384.80 Z" fill="url(#mg)" filter="url(#soft)"/>
<rect x="244.5" y="383" width="37.69999999999999" height="33" filter="url(#mtex)" opacity="0.22"/>
<rect x="91.5" y="417" width="50.0" height="32.5" fill="url(#pbg)"/>
<rect x="91.85" y="417.35" width="49.3" height="31.8" fill="none" stroke="#1c1c1c" stroke-width="0.7"/>
<path d="M97.5,435.6 L98.9,435.6 L98.85,448.7 L98.15,448.7 Z" fill="#9c9c9c"/>
<path d="M98.20,418.60 C98.63,418.60 99.18,418.83 99.50,419.12 C99.81,419.42 99.92,419.85 100.07,420.35 C100.23,420.85 100.25,421.46 100.43,422.10 C100.62,422.74 100.99,423.41 101.19,424.20 C101.39,424.99 101.52,425.78 101.62,426.83 C101.72,427.88 101.79,429.30 101.80,430.50 C101.81,431.70 101.90,433.11 101.66,434.00 C101.42,434.89 100.94,435.49 100.36,435.84 C99.78,436.19 98.92,436.10 98.20,436.10 C97.48,436.10 96.62,436.19 96.04,435.84 C95.46,435.49 94.98,434.89 94.74,434.00 C94.50,433.11 94.59,431.70 94.60,430.50 C94.61,429.30 94.68,427.88 94.78,426.83 C94.88,425.78 95.01,424.99 95.21,424.20 C95.41,423.41 95.78,422.74 95.97,422.10 C96.15,421.46 96.17,420.85 96.33,420.35 C96.48,419.85 96.59,419.42 96.90,419.12 C97.22,418.83 97.77,418.60 98.20,418.60 Z" fill="url(#mg)" filter="url(#soft)"/>
<ellipse cx="97.7" cy="422.6" rx="1.6" ry="1.4400000000000002" fill="#4a32b5" opacity="0.85"/>
<ellipse cx="97.7" cy="428.1" rx="1.9" ry="1.71" fill="#3d2fb0"/><ellipse cx="97.7" cy="428.1" rx="1.5579999999999998" ry="1.4249999999999998" fill="#38b0c8"/><ellipse cx="97.7" cy="428.1" rx="1.292" ry="1.178" fill="#f0d020"/><ellipse cx="97.7" cy="428.1" rx="1.045" ry="0.95" fill="#e01010"/>
<ellipse cx="95.7" cy="433.6" rx="1.4" ry="1.26" fill="#3d2fb0" opacity="0.9"/><ellipse cx="95.7" cy="433.6" rx="0.63" ry="0.5599999999999999" fill="#4a8fe0" opacity="0.9"/>
<ellipse cx="100.2" cy="434.1" rx="1.4" ry="1.26" fill="#3d2fb0" opacity="0.9"/><ellipse cx="100.2" cy="434.1" rx="0.63" ry="0.5599999999999999" fill="#4a8fe0" opacity="0.9"/>
<path d="M106.7,435.6 L108.10000000000001,435.6 L108.05,448.7 L107.35000000000001,448.7 Z" fill="#9c9c9c"/>
<path d="M107.40,418.60 C107.83,418.60 108.38,418.83 108.70,419.12 C109.01,419.42 109.12,419.85 109.27,420.35 C109.43,420.85 109.45,421.46 109.63,422.10 C109.82,422.74 110.19,423.41 110.39,424.20 C110.59,424.99 110.72,425.78 110.82,426.83 C110.92,427.88 110.99,429.30 111.00,430.50 C111.01,431.70 111.10,433.11 110.86,434.00 C110.62,434.89 110.14,435.49 109.56,435.84 C108.98,436.19 108.12,436.10 107.40,436.10 C106.68,436.10 105.82,436.19 105.24,435.84 C104.66,435.49 104.18,434.89 103.94,434.00 C103.70,433.11 103.79,431.70 103.80,430.50 C103.81,429.30 103.88,427.88 103.98,426.83 C104.08,425.78 104.21,424.99 104.41,424.20 C104.61,423.41 104.98,422.74 105.17,422.10 C105.35,421.46 105.37,420.85 105.53,420.35 C105.68,419.85 105.79,419.42 106.10,419.12 C106.42,418.83 106.97,418.60 107.40,418.60 Z" fill="url(#mg)" filter="url(#soft)"/>
<ellipse cx="107.4" cy="422.6" rx="1.6" ry="1.4400000000000002" fill="#4a32b5" opacity="0.85"/>
<ellipse cx="108.4" cy="427.6" rx="1.7" ry="1.53" fill="#3d2fb0" opacity="0.9"/><ellipse cx="108.4" cy="427.6" rx="0.765" ry="0.68" fill="#4a8fe0" opacity="0.9"/>
<ellipse cx="105.4" cy="433.6" rx="1.3" ry="1.1700000000000002" fill="#3d2fb0" opacity="0.9"/><ellipse cx="105.4" cy="433.6" rx="0.5850000000000001" ry="0.52" fill="#4a8fe0" opacity="0.9"/>
<ellipse cx="109.4" cy="433.6" rx="1.4" ry="1.26" fill="#3d2fb0" opacity="0.9"/><ellipse cx="109.4" cy="433.6" rx="0.63" ry="0.5599999999999999" fill="#4a8fe0" opacity="0.9"/>
<path d="M115.89999999999999,435.6 L117.3,435.6 L117.24999999999999,448.7 L116.55,448.7 Z" fill="#9c9c9c"/>
<path d="M116.60,418.60 C117.03,418.60 117.58,418.83 117.90,419.12 C118.21,419.42 118.32,419.85 118.47,420.35 C118.63,420.85 118.65,421.46 118.83,422.10 C119.02,422.74 119.39,423.41 119.59,424.20 C119.79,424.99 119.92,425.78 120.02,426.83 C120.12,427.88 120.19,429.30 120.20,430.50 C120.21,431.70 120.30,433.11 120.06,434.00 C119.82,434.89 119.34,435.49 118.76,435.84 C118.18,436.19 117.32,436.10 116.60,436.10 C115.88,436.10 115.02,436.19 114.44,435.84 C113.86,435.49 113.38,434.89 113.14,434.00 C112.90,433.11 112.99,431.70 113.00,430.50 C113.01,429.30 113.08,427.88 113.18,426.83 C113.28,425.78 113.41,424.99 113.61,424.20 C113.81,423.41 114.18,422.74 114.37,422.10 C114.55,421.46 114.57,420.85 114.73,420.35 C114.88,419.85 114.99,419.42 115.30,419.12 C115.62,418.83 116.17,418.60 116.60,418.60 Z" fill="url(#mg)" filter="url(#soft)"/>
<ellipse cx="116.6" cy="422.1" rx="2.0" ry="1.8" fill="#3d2fb0" opacity="0.9"/><ellipse cx="116.6" cy="422.1" rx="0.9" ry="0.8" fill="#4a8fe0" opacity="0.9"/>
<ellipse cx="115.6" cy="427.6" rx="2.0" ry="1.8" fill="#4a32b5" opacity="0.85"/>
<ellipse cx="114.1" cy="433.6" rx="1.5" ry="1.35" fill="#3d2fb0"/><ellipse cx="114.1" cy="433.6" rx="0.9750000000000001" ry="0.8999999999999999" fill="#3aa6c8"/><ellipse cx="114.1" cy="433.6" rx="0.5249999999999999" ry="0.44999999999999996" fill="#a8d040"/>
<ellipse cx="119.1" cy="433.6" rx="1.4" ry="1.26" fill="#3d2fb0"/><ellipse cx="119.1" cy="433.6" rx="0.9099999999999999" ry="0.84" fill="#3aa6c8"/><ellipse cx="119.1" cy="433.6" rx="0.48999999999999994" ry="0.42" fill="#a8d040"/>
<path d="M125.2,435.6 L126.60000000000001,435.6 L126.55,448.7 L125.85000000000001,448.7 Z" fill="#9c9c9c"/>
<path d="M125.90,418.60 C126.33,418.60 126.88,418.83 127.20,419.12 C127.51,419.42 127.62,419.85 127.77,420.35 C127.93,420.85 127.95,421.46 128.13,422.10 C128.32,422.74 128.69,423.41 128.89,424.20 C129.09,424.99 129.22,425.78 129.32,426.83 C129.42,427.88 129.49,429.30 129.50,430.50 C129.51,431.70 129.60,433.11 129.36,434.00 C129.12,434.89 128.64,435.49 128.06,435.84 C127.48,436.19 126.62,436.10 125.90,436.10 C125.18,436.10 124.32,436.19 123.74,435.84 C123.16,435.49 122.68,434.89 122.44,434.00 C122.20,433.11 122.29,431.70 122.30,430.50 C122.31,429.30 122.38,427.88 122.48,426.83 C122.58,425.78 122.71,424.99 122.91,424.20 C123.11,423.41 123.48,422.74 123.67,422.10 C123.85,421.46 123.87,420.85 124.03,420.35 C124.18,419.85 124.29,419.42 124.60,419.12 C124.92,418.83 125.47,418.60 125.90,418.60 Z" fill="url(#mg)" filter="url(#soft)"/>
<ellipse cx="126.4" cy="423.6" rx="2.8" ry="2.52" fill="#4a32b5" opacity="0.85"/>
<ellipse cx="126.9" cy="429.1" rx="3.0" ry="2.7" fill="#4a32b5" opacity="0.85"/>
<ellipse cx="123.9" cy="433.6" rx="1.4" ry="1.26" fill="#3d2fb0" opacity="0.9"/><ellipse cx="123.9" cy="433.6" rx="0.63" ry="0.5599999999999999" fill="#4a8fe0" opacity="0.9"/>
<path d="M134.5,435.6 L135.89999999999998,435.6 L135.85,448.7 L135.15,448.7 Z" fill="#9c9c9c"/>
<path d="M135.20,418.60 C135.63,418.60 136.18,418.83 136.50,419.12 C136.81,419.42 136.92,419.85 137.07,420.35 C137.23,420.85 137.25,421.46 137.43,422.10 C137.62,422.74 137.99,423.41 138.19,424.20 C138.39,424.99 138.52,425.78 138.62,426.83 C138.72,427.88 138.79,429.30 138.80,430.50 C138.81,431.70 138.90,433.11 138.66,434.00 C138.42,434.89 137.94,435.49 137.36,435.84 C136.78,436.19 135.92,436.10 135.20,436.10 C134.48,436.10 133.62,436.19 133.04,435.84 C132.46,435.49 131.98,434.89 131.74,434.00 C131.50,433.11 131.59,431.70 131.60,430.50 C131.61,429.30 131.68,427.88 131.78,426.83 C131.88,425.78 132.01,424.99 132.21,424.20 C132.41,423.41 132.78,422.74 132.97,422.10 C133.15,421.46 133.17,420.85 133.33,420.35 C133.48,419.85 133.59,419.42 133.90,419.12 C134.22,418.83 134.77,418.60 135.20,418.60 Z" fill="url(#mg)" filter="url(#soft)"/>
<rect x="91.5" y="417" width="50.0" height="32.5" filter="url(#mtex)" opacity="0.22"/>
<rect x="143.5" y="417" width="50.0" height="32.5" fill="url(#pbg)"/>
<rect x="143.85" y="417.35" width="49.3" height="31.8" fill="none" stroke="#1c1c1c" stroke-width="0.7"/>
<path d="M149.4,435.6 L150.79999999999998,435.6 L150.75,448.7 L150.05,448.7 Z" fill="#9c9c9c"/>
<path d="M150.10,418.60 C150.53,418.60 151.08,418.83 151.40,419.12 C151.71,419.42 151.82,419.85 151.97,420.35 C152.13,420.85 152.15,421.46 152.33,422.10 C152.52,422.74 152.89,423.41 153.09,424.20 C153.29,424.99 153.42,425.78 153.52,426.83 C153.62,427.88 153.69,429.30 153.70,430.50 C153.71,431.70 153.80,433.11 153.56,434.00 C153.32,434.89 152.84,435.49 152.26,435.84 C151.68,436.19 150.82,436.10 150.10,436.10 C149.38,436.10 148.52,436.19 147.94,435.84 C147.36,435.49 146.88,434.89 146.64,434.00 C146.40,433.11 146.49,431.70 146.50,430.50 C146.51,429.30 146.58,427.88 146.68,426.83 C146.78,425.78 146.91,424.99 147.11,424.20 C147.31,423.41 147.68,422.74 147.87,422.10 C148.05,421.46 148.07,420.85 148.23,420.35 C148.38,419.85 148.49,419.42 148.80,419.12 C149.12,418.83 149.67,418.60 150.10,418.60 Z" fill="url(#mg)" filter="url(#soft)"/>
<ellipse cx="148.6" cy="423.6" rx="1.2" ry="1.08" fill="#4a32b5" opacity="0.85"/>
<ellipse cx="148.1" cy="432.1" rx="1.2" ry="1.08" fill="#3d2fb0" opacity="0.9"/><ellipse cx="148.1" cy="432.1" rx="0.54" ry="0.48" fill="#4a8fe0" opacity="0.9"/>
<path d="M158.60000000000002,435.6 L160.0,435.6 L159.95000000000002,448.7 L159.25000000000003,448.7 Z" fill="#9c9c9c"/>
<path d="M159.30,418.60 C159.73,418.60 160.28,418.83 160.60,419.12 C160.91,419.42 161.02,419.85 161.17,420.35 C161.33,420.85 161.35,421.46 161.53,422.10 C161.72,422.74 162.09,423.41 162.29,424.20 C162.49,424.99 162.62,425.78 162.72,426.83 C162.82,427.88 162.89,429.30 162.90,430.50 C162.91,431.70 163.00,433.11 162.76,434.00 C162.52,434.89 162.04,435.49 161.46,435.84 C160.88,436.19 160.02,436.10 159.30,436.10 C158.58,436.10 157.72,436.19 157.14,435.84 C156.56,435.49 156.08,434.89 155.84,434.00 C155.60,433.11 155.69,431.70 155.70,430.50 C155.71,429.30 155.78,427.88 155.88,426.83 C155.98,425.78 156.11,424.99 156.31,424.20 C156.51,423.41 156.88,422.74 157.07,422.10 C157.25,421.46 157.27,420.85 157.43,420.35 C157.58,419.85 157.69,419.42 158.00,419.12 C158.32,418.83 158.87,418.60 159.30,418.60 Z" fill="url(#mg)" filter="url(#soft)"/>
<path d="M167.8,435.6 L169.2,435.6 L169.15,448.7 L168.45000000000002,448.7 Z" fill="#9c9c9c"/>
<path d="M168.50,418.60 C168.93,418.60 169.48,418.83 169.80,419.12 C170.11,419.42 170.22,419.85 170.37,420.35 C170.53,420.85 170.55,421.46 170.73,422.10 C170.92,422.74 171.29,423.41 171.49,424.20 C171.69,424.99 171.82,425.78 171.92,426.83 C172.02,427.88 172.09,429.30 172.10,430.50 C172.11,431.70 172.20,433.11 171.96,434.00 C171.72,434.89 171.24,435.49 170.66,435.84 C170.08,436.19 169.22,436.10 168.50,436.10 C167.78,436.10 166.92,436.19 166.34,435.84 C165.76,435.49 165.28,434.89 165.04,434.00 C164.80,433.11 164.89,431.70 164.90,430.50 C164.91,429.30 164.98,427.88 165.08,426.83 C165.18,425.78 165.31,424.99 165.51,424.20 C165.71,423.41 166.08,422.74 166.27,422.10 C166.45,421.46 166.47,420.85 166.63,420.35 C166.78,419.85 166.89,419.42 167.20,419.12 C167.52,418.83 168.07,418.60 168.50,418.60 Z" fill="url(#mg)" filter="url(#soft)"/>
<path d="M176.9,435.6 L178.29999999999998,435.6 L178.25,448.7 L177.55,448.7 Z" fill="#9c9c9c"/>
<path d="M177.60,418.60 C178.03,418.60 178.58,418.83 178.90,419.12 C179.21,419.42 179.32,419.85 179.47,420.35 C179.63,420.85 179.65,421.46 179.83,422.10 C180.02,422.74 180.39,423.41 180.59,424.20 C180.79,424.99 180.92,425.78 181.02,426.83 C181.12,427.88 181.19,429.30 181.20,430.50 C181.21,431.70 181.30,433.11 181.06,434.00 C180.82,434.89 180.34,435.49 179.76,435.84 C179.18,436.19 178.32,436.10 177.60,436.10 C176.88,436.10 176.02,436.19 175.44,435.84 C174.86,435.49 174.38,434.89 174.14,434.00 C173.90,433.11 173.99,431.70 174.00,430.50 C174.01,429.30 174.08,427.88 174.18,426.83 C174.28,425.78 174.41,424.99 174.61,424.20 C174.81,423.41 175.18,422.74 175.37,422.10 C175.55,421.46 175.57,420.85 175.73,420.35 C175.88,419.85 175.99,419.42 176.30,419.12 C176.62,418.83 177.17,418.60 177.60,418.60 Z" fill="url(#mg)" filter="url(#soft)"/>
<path d="M185.9,435.6 L187.29999999999998,435.6 L187.25,448.7 L186.55,448.7 Z" fill="#9c9c9c"/>
<path d="M186.60,418.60 C187.03,418.60 187.58,418.83 187.90,419.12 C188.21,419.42 188.32,419.85 188.47,420.35 C188.63,420.85 188.65,421.46 188.83,422.10 C189.02,422.74 189.39,423.41 189.59,424.20 C189.79,424.99 189.92,425.78 190.02,426.83 C190.12,427.88 190.19,429.30 190.20,430.50 C190.21,431.70 190.30,433.11 190.06,434.00 C189.82,434.89 189.34,435.49 188.76,435.84 C188.18,436.19 187.32,436.10 186.60,436.10 C185.88,436.10 185.02,436.19 184.44,435.84 C183.86,435.49 183.38,434.89 183.14,434.00 C182.90,433.11 182.99,431.70 183.00,430.50 C183.01,429.30 183.08,427.88 183.18,426.83 C183.28,425.78 183.41,424.99 183.61,424.20 C183.81,423.41 184.18,422.74 184.37,422.10 C184.55,421.46 184.57,420.85 184.73,420.35 C184.88,419.85 184.99,419.42 185.30,419.12 C185.62,418.83 186.17,418.60 186.60,418.60 Z" fill="url(#mg)" filter="url(#soft)"/>
<ellipse cx="186.6" cy="422.1" rx="1.2" ry="1.08" fill="#4a32b5" opacity="0.85"/>
<ellipse cx="186.6" cy="427.6" rx="1.3" ry="1.1700000000000002" fill="#3d2fb0" opacity="0.9"/><ellipse cx="186.6" cy="427.6" rx="0.5850000000000001" ry="0.52" fill="#4a8fe0" opacity="0.9"/>
<ellipse cx="188.1" cy="433.1" rx="1.2" ry="1.08" fill="#3d2fb0" opacity="0.9"/><ellipse cx="188.1" cy="433.1" rx="0.54" ry="0.48" fill="#4a8fe0" opacity="0.9"/>
<rect x="143.5" y="417" width="50.0" height="32.5" filter="url(#mtex)" opacity="0.22"/>
<rect x="195.5" y="417" width="47.0" height="32.5" fill="url(#pbg)"/>
<rect x="195.85" y="417.35" width="46.3" height="31.8" fill="none" stroke="#1c1c1c" stroke-width="0.7"/>
<path d="M201.8,435.6 L203.2,435.6 L203.15,448.7 L202.45000000000002,448.7 Z" fill="#9c9c9c"/>
<path d="M202.50,418.60 C202.92,418.60 203.46,418.83 203.76,419.12 C204.06,419.42 204.17,419.85 204.32,420.35 C204.47,420.85 204.49,421.46 204.67,422.10 C204.85,422.74 205.21,423.41 205.41,424.20 C205.60,424.99 205.73,425.78 205.82,426.83 C205.92,427.88 205.99,429.30 206.00,430.50 C206.01,431.70 206.09,433.11 205.86,434.00 C205.63,434.89 205.16,435.49 204.60,435.84 C204.04,436.19 203.20,436.10 202.50,436.10 C201.80,436.10 200.96,436.19 200.40,435.84 C199.84,435.49 199.37,434.89 199.14,434.00 C198.91,433.11 198.99,431.70 199.00,430.50 C199.01,429.30 199.08,427.88 199.18,426.83 C199.27,425.78 199.40,424.99 199.59,424.20 C199.79,423.41 200.15,422.74 200.33,422.10 C200.51,421.46 200.53,420.85 200.68,420.35 C200.83,419.85 200.94,419.42 201.24,419.12 C201.54,418.83 202.08,418.60 202.50,418.60 Z" fill="url(#mg)" filter="url(#soft)"/>
<ellipse cx="202.5" cy="423.6" rx="2.3" ry="2.07" fill="#4a32b5" opacity="0.85"/>
<ellipse cx="201.5" cy="429.1" rx="2.5" ry="2.25" fill="#4a32b5" opacity="0.85"/>
<ellipse cx="200.0" cy="433.6" rx="1.3" ry="1.1700000000000002" fill="#3d2fb0"/><ellipse cx="200.0" cy="433.6" rx="0.8450000000000001" ry="0.78" fill="#3aa6c8"/><ellipse cx="200.0" cy="433.6" rx="0.45499999999999996" ry="0.39" fill="#a8d040"/>
<ellipse cx="204.5" cy="433.6" rx="1.3" ry="1.1700000000000002" fill="#3d2fb0"/><ellipse cx="204.5" cy="433.6" rx="0.8450000000000001" ry="0.78" fill="#3aa6c8"/><ellipse cx="204.5" cy="433.6" rx="0.45499999999999996" ry="0.39" fill="#a8d040"/>
<path d="M210.10000000000002,435.6 L211.5,435.6 L211.45000000000002,448.7 L210.75000000000003,448.7 Z" fill="#9c9c9c"/>
<path d="M210.80,418.60 C211.22,418.60 211.76,418.83 212.06,419.12 C212.36,419.42 212.47,419.85 212.62,420.35 C212.77,420.85 212.79,421.46 212.97,422.10 C213.15,422.74 213.51,423.41 213.71,424.20 C213.90,424.99 214.03,425.78 214.12,426.83 C214.22,427.88 214.29,429.30 214.30,430.50 C214.31,431.70 214.39,433.11 214.16,434.00 C213.93,434.89 213.46,435.49 212.90,435.84 C212.34,436.19 211.50,436.10 210.80,436.10 C210.10,436.10 209.26,436.19 208.70,435.84 C208.14,435.49 207.67,434.89 207.44,434.00 C207.21,433.11 207.29,431.70 207.30,430.50 C207.31,429.30 207.38,427.88 207.48,426.83 C207.57,425.78 207.70,424.99 207.90,424.20 C208.09,423.41 208.45,422.74 208.63,422.10 C208.81,421.46 208.83,420.85 208.98,420.35 C209.13,419.85 209.24,419.42 209.54,419.12 C209.84,418.83 210.38,418.60 210.80,418.60 Z" fill="url(#mg)" filter="url(#soft)"/>
<path d="M218.4,435.6 L219.79999999999998,435.6 L219.75,448.7 L219.05,448.7 Z" fill="#9c9c9c"/>
<path d="M219.10,418.60 C219.52,418.60 220.06,418.83 220.36,419.12 C220.66,419.42 220.77,419.85 220.92,420.35 C221.07,420.85 221.09,421.46 221.27,422.10 C221.45,422.74 221.81,423.41 222.00,424.20 C222.20,424.99 222.33,425.78 222.42,426.83 C222.52,427.88 222.59,429.30 222.60,430.50 C222.61,431.70 222.69,433.11 222.46,434.00 C222.23,434.89 221.76,435.49 221.20,435.84 C220.64,436.19 219.80,436.10 219.10,436.10 C218.40,436.10 217.56,436.19 217.00,435.84 C216.44,435.49 215.97,434.89 215.74,434.00 C215.51,433.11 215.59,431.70 215.60,430.50 C215.61,429.30 215.68,427.88 215.78,426.83 C215.87,425.78 216.00,424.99 216.19,424.20 C216.39,423.41 216.75,422.74 216.93,422.10 C217.11,421.46 217.13,420.85 217.28,420.35 C217.43,419.85 217.54,419.42 217.84,419.12 C218.14,418.83 218.68,418.60 219.10,418.60 Z" fill="url(#mg)" filter="url(#soft)"/>
<ellipse cx="219.1" cy="423.6" rx="2.3" ry="2.07" fill="#4a32b5" opacity="0.85"/>
<ellipse cx="219.1" cy="429.1" rx="2.5" ry="2.25" fill="#4a32b5" opacity="0.85"/>
<ellipse cx="216.6" cy="433.6" rx="1.3" ry="1.1700000000000002" fill="#3d2fb0"/><ellipse cx="216.6" cy="433.6" rx="0.8450000000000001" ry="0.78" fill="#3aa6c8"/><ellipse cx="216.6" cy="433.6" rx="0.45499999999999996" ry="0.39" fill="#a8d040"/>
<ellipse cx="221.6" cy="433.6" rx="1.2" ry="1.08" fill="#3d2fb0"/><ellipse cx="221.6" cy="433.6" rx="0.78" ry="0.72" fill="#3aa6c8"/><ellipse cx="221.6" cy="433.6" rx="0.42" ry="0.36" fill="#a8d040"/>
<path d="M226.9,435.6 L228.29999999999998,435.6 L228.25,448.7 L227.55,448.7 Z" fill="#9c9c9c"/>
<path d="M227.60,418.60 C228.02,418.60 228.56,418.83 228.86,419.12 C229.16,419.42 229.27,419.85 229.42,420.35 C229.57,420.85 229.59,421.46 229.77,422.10 C229.95,422.74 230.31,423.41 230.50,424.20 C230.70,424.99 230.83,425.78 230.92,426.83 C231.02,427.88 231.09,429.30 231.10,430.50 C231.11,431.70 231.19,433.11 230.96,434.00 C230.73,434.89 230.26,435.49 229.70,435.84 C229.14,436.19 228.30,436.10 227.60,436.10 C226.90,436.10 226.06,436.19 225.50,435.84 C224.94,435.49 224.47,434.89 224.24,434.00 C224.01,433.11 224.09,431.70 224.10,430.50 C224.11,429.30 224.18,427.88 224.28,426.83 C224.37,425.78 224.50,424.99 224.69,424.20 C224.89,423.41 225.25,422.74 225.43,422.10 C225.61,421.46 225.63,420.85 225.78,420.35 C225.93,419.85 226.04,419.42 226.34,419.12 C226.64,418.83 227.18,418.60 227.60,418.60 Z" fill="url(#mg)" filter="url(#soft)"/>
<path d="M235.4,435.6 L236.79999999999998,435.6 L236.75,448.7 L236.05,448.7 Z" fill="#9c9c9c"/>
<path d="M236.10,418.60 C236.52,418.60 237.06,418.83 237.36,419.12 C237.66,419.42 237.77,419.85 237.92,420.35 C238.07,420.85 238.09,421.46 238.27,422.10 C238.45,422.74 238.81,423.41 239.00,424.20 C239.20,424.99 239.33,425.78 239.42,426.83 C239.52,427.88 239.59,429.30 239.60,430.50 C239.61,431.70 239.69,433.11 239.46,434.00 C239.23,434.89 238.76,435.49 238.20,435.84 C237.64,436.19 236.80,436.10 236.10,436.10 C235.40,436.10 234.56,436.19 234.00,435.84 C233.44,435.49 232.97,434.89 232.74,434.00 C232.51,433.11 232.59,431.70 232.60,430.50 C232.61,429.30 232.68,427.88 232.78,426.83 C232.87,425.78 233.00,424.99 233.19,424.20 C233.39,423.41 233.75,422.74 233.93,422.10 C234.11,421.46 234.13,420.85 234.28,420.35 C234.43,419.85 234.54,419.42 234.84,419.12 C235.14,418.83 235.68,418.60 236.10,418.60 Z" fill="url(#mg)" filter="url(#soft)"/>
<rect x="195.5" y="417" width="47.0" height="32.5" filter="url(#mtex)" opacity="0.22"/>
<rect x="244.5" y="417" width="37.69999999999999" height="32.5" fill="url(#pbg)"/>
<rect x="244.85" y="417.35" width="36.999999999999986" height="31.8" fill="none" stroke="#1c1c1c" stroke-width="0.7"/>
<path d="M251.8,435.3 L253.2,435.3 L253.15,448.7 L252.45000000000002,448.7 Z" fill="#9c9c9c"/>
<path d="M252.50,418.80 C253.10,418.80 253.87,419.03 254.30,419.31 C254.73,419.59 254.88,420.02 255.10,420.50 C255.32,420.98 255.34,421.58 255.60,422.20 C255.86,422.82 256.38,423.48 256.65,424.24 C256.92,425.00 257.11,425.77 257.25,426.79 C257.39,427.81 257.49,429.20 257.50,430.36 C257.51,431.52 257.63,432.90 257.30,433.76 C256.97,434.62 256.30,435.21 255.50,435.55 C254.70,435.88 253.50,435.80 252.50,435.80 C251.50,435.80 250.30,435.88 249.50,435.55 C248.70,435.21 248.03,434.62 247.70,433.76 C247.37,432.90 247.49,431.52 247.50,430.36 C247.51,429.20 247.61,427.81 247.75,426.79 C247.89,425.77 248.07,425.00 248.35,424.24 C248.62,423.48 249.14,422.82 249.40,422.20 C249.66,421.58 249.68,420.98 249.90,420.50 C250.12,420.02 250.27,419.59 250.70,419.31 C251.13,419.03 251.90,418.80 252.50,418.80 Z" fill="url(#mg)" filter="url(#soft)"/>
<path d="M262.6,435.3 L264.0,435.3 L263.95000000000005,448.7 L263.25,448.7 Z" fill="#9c9c9c"/>
<path d="M263.30,418.80 C263.90,418.80 264.67,419.03 265.10,419.31 C265.53,419.59 265.68,420.02 265.90,420.50 C266.12,420.98 266.14,421.58 266.40,422.20 C266.66,422.82 267.18,423.48 267.45,424.24 C267.72,425.00 267.91,425.77 268.05,426.79 C268.19,427.81 268.29,429.20 268.30,430.36 C268.31,431.52 268.43,432.90 268.10,433.76 C267.77,434.62 267.10,435.21 266.30,435.55 C265.50,435.88 264.30,435.80 263.30,435.80 C262.30,435.80 261.10,435.88 260.30,435.55 C259.50,435.21 258.83,434.62 258.50,433.76 C258.17,432.90 258.29,431.52 258.30,430.36 C258.31,429.20 258.41,427.81 258.55,426.79 C258.69,425.77 258.88,425.00 259.15,424.24 C259.43,423.48 259.94,422.82 260.20,422.20 C260.46,421.58 260.48,420.98 260.70,420.50 C260.92,420.02 261.07,419.59 261.50,419.31 C261.93,419.03 262.70,418.80 263.30,418.80 Z" fill="url(#mg)" filter="url(#soft)"/>
<path d="M273.6,435.3 L275.0,435.3 L274.95000000000005,448.7 L274.25,448.7 Z" fill="#9c9c9c"/>
<path d="M274.30,418.80 C274.90,418.80 275.67,419.03 276.10,419.31 C276.53,419.59 276.68,420.02 276.90,420.50 C277.12,420.98 277.14,421.58 277.40,422.20 C277.66,422.82 278.18,423.48 278.45,424.24 C278.72,425.00 278.91,425.77 279.05,426.79 C279.19,427.81 279.29,429.20 279.30,430.36 C279.31,431.52 279.43,432.90 279.10,433.76 C278.77,434.62 278.10,435.21 277.30,435.55 C276.50,435.88 275.30,435.80 274.30,435.80 C273.30,435.80 272.10,435.88 271.30,435.55 C270.50,435.21 269.83,434.62 269.50,433.76 C269.17,432.90 269.29,431.52 269.30,430.36 C269.31,429.20 269.41,427.81 269.55,426.79 C269.69,425.77 269.88,425.00 270.15,424.24 C270.43,423.48 270.94,422.82 271.20,422.20 C271.46,421.58 271.48,420.98 271.70,420.50 C271.92,420.02 272.07,419.59 272.50,419.31 C272.93,419.03 273.70,418.80 274.30,418.80 Z" fill="url(#mg)" filter="url(#soft)"/>
<rect x="244.5" y="417" width="37.69999999999999" height="32.5" filter="url(#mtex)" opacity="0.22"/>
<path d="M135.40,418.40 C135.94,418.40 136.63,418.65 137.02,418.95 C137.41,419.26 137.55,419.73 137.74,420.25 C137.94,420.77 137.96,421.42 138.19,422.10 C138.42,422.78 138.89,423.49 139.14,424.32 C139.38,425.15 139.55,425.98 139.68,427.09 C139.80,428.20 139.89,429.72 139.90,430.98 C139.91,432.24 140.02,433.74 139.72,434.68 C139.42,435.62 138.82,436.25 138.10,436.62 C137.38,436.99 136.30,436.90 135.40,436.90 C134.50,436.90 133.42,436.99 132.70,436.62 C131.98,436.25 131.38,435.62 131.08,434.68 C130.78,433.74 130.89,432.24 130.90,430.98 C130.91,429.72 131.00,428.20 131.12,427.09 C131.25,425.98 131.42,425.15 131.66,424.32 C131.91,423.49 132.38,422.78 132.61,422.10 C132.84,421.42 132.87,420.77 133.06,420.25 C133.25,419.73 133.39,419.26 133.78,418.95 C134.17,418.65 134.86,418.40 135.40,418.40 Z" fill="#3d2fb0"/>
<path d="M135.40,419.40 C135.86,419.40 136.44,419.62 136.77,419.89 C137.10,420.17 137.21,420.58 137.38,421.04 C137.54,421.50 137.56,422.08 137.76,422.68 C137.95,423.28 138.34,423.91 138.55,424.65 C138.76,425.39 138.90,426.12 139.01,427.11 C139.12,428.09 139.19,429.43 139.20,430.55 C139.21,431.67 139.30,433.00 139.05,433.83 C138.79,434.67 138.29,435.23 137.68,435.55 C137.07,435.88 136.16,435.80 135.40,435.80 C134.64,435.80 133.73,435.88 133.12,435.55 C132.51,435.23 132.01,434.67 131.75,433.83 C131.50,433.00 131.59,431.67 131.60,430.55 C131.61,429.43 131.68,428.09 131.79,427.11 C131.90,426.12 132.04,425.39 132.25,424.65 C132.46,423.91 132.85,423.28 133.04,422.68 C133.24,422.08 133.26,421.50 133.42,421.04 C133.59,420.58 133.70,420.17 134.03,419.89 C134.36,419.62 134.94,419.40 135.40,419.40 Z" fill="#40b0c0"/>
<path d="M135.40,420.20 C135.81,420.20 136.33,420.40 136.62,420.65 C136.92,420.90 137.02,421.27 137.17,421.70 C137.32,422.12 137.33,422.65 137.51,423.20 C137.68,423.75 138.04,424.32 138.22,425.00 C138.41,425.68 138.53,426.35 138.63,427.25 C138.73,428.15 138.79,429.38 138.80,430.40 C138.81,431.42 138.89,432.64 138.66,433.40 C138.44,434.16 137.98,434.67 137.44,434.97 C136.90,435.27 136.08,435.20 135.40,435.20 C134.72,435.20 133.90,435.27 133.36,434.97 C132.82,434.67 132.36,434.16 132.14,433.40 C131.91,432.64 131.99,431.42 132.00,430.40 C132.01,429.38 132.07,428.15 132.17,427.25 C132.27,426.35 132.39,425.68 132.58,425.00 C132.76,424.32 133.12,423.75 133.29,423.20 C133.47,422.65 133.48,422.12 133.63,421.70 C133.78,421.27 133.88,420.90 134.18,420.65 C134.47,420.40 134.99,420.20 135.40,420.20 Z" fill="#86c040"/>
<path d="M133.2,424 C135,422.5 138.2,423.5 138.6,426 C138.8,429 138.4,432.5 136.5,434.2 C134.5,434.8 132.6,433.5 132.8,431 C134.4,430 135.2,428.8 133.4,427.5 C132.4,426.5 132.4,425 133.2,424 Z" fill="#e01010"/>
<rect x="40" y="417" width="49.5" height="32.5" fill="url(#pbg)"/>
<rect x="40.35" y="417.35" width="48.8" height="31.8" fill="none" stroke="#1c1c1c" stroke-width="0.7"/>
<rect x="45.0" y="418" width="1.1" height="2.4" fill="#d0d0d0"/>
<path d="M54.400000000000006,434 L56.0,434 L55.7,448.5 L54.7,448.5 Z" fill="#3b30b0"/>
<path d="M54.5,434 L55.900000000000006,434 L55.6,441 L54.800000000000004,441 Z" fill="#40b0a0"/>
<path d="M55.20,418.00 C55.80,418.00 56.57,418.27 57.00,418.62 C57.43,418.96 57.58,419.47 57.80,420.05 C58.02,420.63 58.04,421.35 58.30,422.10 C58.56,422.85 59.08,423.64 59.35,424.56 C59.62,425.48 59.81,426.40 59.95,427.63 C60.09,428.87 60.19,430.54 60.20,431.94 C60.21,433.34 60.33,435.00 60.00,436.04 C59.67,437.08 59.00,437.78 58.20,438.19 C57.40,438.60 56.20,438.50 55.20,438.50 C54.20,438.50 53.00,438.60 52.20,438.19 C51.40,437.78 50.73,437.08 50.40,436.04 C50.07,435.00 50.19,433.34 50.20,431.94 C50.21,430.54 50.31,428.87 50.45,427.63 C50.59,426.40 50.78,425.48 51.05,424.56 C51.33,423.64 51.84,422.85 52.10,422.10 C52.36,421.35 52.38,420.63 52.60,420.05 C52.82,419.47 52.97,418.96 53.40,418.62 C53.83,418.27 54.60,418.00 55.20,418.00 Z" fill="#3d2fb0"/>
<path d="M55.20,418.80 C55.74,418.80 56.43,419.05 56.82,419.37 C57.21,419.69 57.35,420.16 57.54,420.70 C57.74,421.24 57.76,421.90 57.99,422.60 C58.22,423.30 58.69,424.02 58.94,424.88 C59.18,425.74 59.35,426.59 59.48,427.73 C59.60,428.87 59.69,430.42 59.70,431.72 C59.71,433.02 59.82,434.55 59.52,435.52 C59.22,436.49 58.62,437.13 57.90,437.51 C57.18,437.89 56.10,437.80 55.20,437.80 C54.30,437.80 53.22,437.89 52.50,437.51 C51.78,437.13 51.18,436.49 50.88,435.52 C50.58,434.55 50.69,433.02 50.70,431.72 C50.71,430.42 50.80,428.87 50.93,427.73 C51.05,426.59 51.22,425.74 51.47,424.88 C51.71,424.02 52.18,423.30 52.41,422.60 C52.64,421.90 52.66,421.24 52.86,420.70 C53.05,420.16 53.19,419.69 53.58,419.37 C53.97,419.05 54.66,418.80 55.20,418.80 Z" fill="#3fb0b8"/>
<path d="M55.20,419.50 C55.69,419.50 56.32,419.74 56.68,420.03 C57.03,420.33 57.15,420.78 57.33,421.28 C57.51,421.78 57.53,422.41 57.74,423.06 C57.95,423.71 58.38,424.40 58.60,425.20 C58.83,426.00 58.98,426.80 59.09,427.87 C59.21,428.93 59.29,430.39 59.30,431.60 C59.31,432.82 59.41,434.26 59.14,435.16 C58.86,436.07 58.32,436.68 57.66,437.03 C57.00,437.39 56.02,437.30 55.20,437.30 C54.38,437.30 53.40,437.39 52.74,437.03 C52.08,436.68 51.54,436.07 51.26,435.16 C50.99,434.26 51.09,432.82 51.10,431.60 C51.11,430.39 51.19,428.93 51.31,427.87 C51.42,426.80 51.57,426.00 51.80,425.20 C52.02,424.40 52.45,423.71 52.66,423.06 C52.87,422.41 52.89,421.78 53.07,421.28 C53.25,420.78 53.37,420.33 53.72,420.03 C54.08,419.74 54.71,419.50 55.20,419.50 Z" fill="#a0d040"/>
<path d="M55.20,420.60 C55.66,420.60 56.24,420.81 56.57,421.08 C56.90,421.35 57.01,421.75 57.18,422.20 C57.34,422.65 57.36,423.21 57.56,423.80 C57.75,424.39 58.14,425.00 58.35,425.72 C58.56,426.44 58.70,427.16 58.81,428.12 C58.92,429.08 58.99,430.39 59.00,431.48 C59.01,432.57 59.10,433.87 58.85,434.68 C58.59,435.49 58.09,436.04 57.48,436.36 C56.87,436.68 55.96,436.60 55.20,436.60 C54.44,436.60 53.53,436.68 52.92,436.36 C52.31,436.04 51.81,435.49 51.55,434.68 C51.30,433.87 51.39,432.57 51.40,431.48 C51.41,430.39 51.48,429.08 51.59,428.12 C51.70,427.16 51.84,426.44 52.05,425.72 C52.26,425.00 52.65,424.39 52.84,423.80 C53.04,423.21 53.06,422.65 53.22,422.20 C53.39,421.75 53.50,421.35 53.83,421.08 C54.16,420.81 54.74,420.60 55.20,420.60 Z" fill="#e01010"/>
<ellipse cx="52.7" cy="421" rx="1.6" ry="1.4400000000000002" fill="#a8d040"/>
<ellipse cx="52.7" cy="421" rx="0.8" ry="0.7200000000000001" fill="#e8d020"/>
<ellipse cx="54.2" cy="426" rx="1.2" ry="1.08" fill="#a8d040"/>
<ellipse cx="54.2" cy="426" rx="0.6" ry="0.54" fill="#e8d020"/>
<ellipse cx="57.2" cy="431" rx="1.0" ry="0.9" fill="#a8d040"/>
<ellipse cx="57.2" cy="431" rx="0.5" ry="0.45" fill="#e8d020"/>
<path d="M62.5,434 L64.1,434 L63.8,448.5 L62.8,448.5 Z" fill="#3b30b0"/>
<path d="M62.599999999999994,434 L64.0,434 L63.699999999999996,441 L62.9,441 Z" fill="#40b0a0"/>
<path d="M63.30,418.00 C63.90,418.00 64.67,418.27 65.10,418.62 C65.53,418.96 65.68,419.47 65.90,420.05 C66.12,420.63 66.14,421.35 66.40,422.10 C66.66,422.85 67.17,423.64 67.45,424.56 C67.73,425.48 67.91,426.40 68.05,427.63 C68.19,428.87 68.29,430.54 68.30,431.94 C68.31,433.34 68.43,435.00 68.10,436.04 C67.77,437.08 67.10,437.78 66.30,438.19 C65.50,438.60 64.30,438.50 63.30,438.50 C62.30,438.50 61.10,438.60 60.30,438.19 C59.50,437.78 58.83,437.08 58.50,436.04 C58.17,435.00 58.29,433.34 58.30,431.94 C58.31,430.54 58.41,428.87 58.55,427.63 C58.69,426.40 58.88,425.48 59.15,424.56 C59.42,423.64 59.94,422.85 60.20,422.10 C60.46,421.35 60.48,420.63 60.70,420.05 C60.92,419.47 61.07,418.96 61.50,418.62 C61.93,418.27 62.70,418.00 63.30,418.00 Z" fill="#3d2fb0"/>
<path d="M63.30,418.80 C63.84,418.80 64.53,419.05 64.92,419.37 C65.31,419.69 65.44,420.16 65.64,420.70 C65.84,421.24 65.86,421.90 66.09,422.60 C66.32,423.30 66.79,424.02 67.03,424.88 C67.28,425.74 67.45,426.59 67.58,427.73 C67.70,428.87 67.79,430.42 67.80,431.72 C67.81,433.02 67.92,434.55 67.62,435.52 C67.32,436.49 66.72,437.13 66.00,437.51 C65.28,437.89 64.20,437.80 63.30,437.80 C62.40,437.80 61.32,437.89 60.60,437.51 C59.88,437.13 59.28,436.49 58.98,435.52 C58.68,434.55 58.79,433.02 58.80,431.72 C58.81,430.42 58.90,428.87 59.02,427.73 C59.15,426.59 59.32,425.74 59.56,424.88 C59.81,424.02 60.28,423.30 60.51,422.60 C60.74,421.90 60.76,421.24 60.96,420.70 C61.15,420.16 61.29,419.69 61.68,419.37 C62.07,419.05 62.76,418.80 63.30,418.80 Z" fill="#3fb0b8"/>
<path d="M63.30,419.50 C63.79,419.50 64.42,419.74 64.78,420.03 C65.13,420.33 65.25,420.78 65.43,421.28 C65.61,421.78 65.63,422.41 65.84,423.06 C66.05,423.71 66.48,424.40 66.70,425.20 C66.93,426.00 67.08,426.80 67.19,427.87 C67.31,428.93 67.39,430.39 67.40,431.60 C67.41,432.82 67.51,434.26 67.24,435.16 C66.96,436.07 66.42,436.68 65.76,437.03 C65.10,437.39 64.12,437.30 63.30,437.30 C62.48,437.30 61.50,437.39 60.84,437.03 C60.18,436.68 59.64,436.07 59.36,435.16 C59.09,434.26 59.19,432.82 59.20,431.60 C59.21,430.39 59.29,428.93 59.41,427.87 C59.52,426.80 59.67,426.00 59.90,425.20 C60.12,424.40 60.55,423.71 60.76,423.06 C60.97,422.41 60.99,421.78 61.17,421.28 C61.35,420.78 61.47,420.33 61.82,420.03 C62.18,419.74 62.81,419.50 63.30,419.50 Z" fill="#a0d040"/>
<path d="M63.30,420.60 C63.76,420.60 64.34,420.81 64.67,421.08 C65.00,421.35 65.11,421.75 65.28,422.20 C65.44,422.65 65.46,423.21 65.66,423.80 C65.85,424.39 66.24,425.00 66.45,425.72 C66.66,426.44 66.80,427.16 66.91,428.12 C67.02,429.08 67.09,430.39 67.10,431.48 C67.11,432.57 67.20,433.87 66.95,434.68 C66.69,435.49 66.19,436.04 65.58,436.36 C64.97,436.68 64.06,436.60 63.30,436.60 C62.54,436.60 61.63,436.68 61.02,436.36 C60.41,436.04 59.91,435.49 59.65,434.68 C59.40,433.87 59.49,432.57 59.50,431.48 C59.51,430.39 59.58,429.08 59.69,428.12 C59.80,427.16 59.94,426.44 60.15,425.72 C60.36,425.00 60.75,424.39 60.94,423.80 C61.14,423.21 61.16,422.65 61.32,422.20 C61.49,421.75 61.60,421.35 61.93,421.08 C62.26,420.81 62.84,420.60 63.30,420.60 Z" fill="#e01010"/>
<ellipse cx="63.3" cy="420" rx="1.8" ry="1.62" fill="#a8d040"/>
<ellipse cx="63.3" cy="420" rx="0.9" ry="0.81" fill="#e8d020"/>
<ellipse cx="61.8" cy="427" rx="1.4" ry="1.26" fill="#a8d040"/>
<ellipse cx="61.8" cy="427" rx="0.7" ry="0.63" fill="#e8d020"/>
<ellipse cx="65.8" cy="423" rx="1.0" ry="0.9" fill="#a8d040"/>
<ellipse cx="65.8" cy="423" rx="0.5" ry="0.45" fill="#e8d020"/>
<path d="M72.60000000000001,434 L74.2,434 L73.9,448.5 L72.9,448.5 Z" fill="#3b30b0"/>
<path d="M72.7,434 L74.10000000000001,434 L73.80000000000001,441 L73.0,441 Z" fill="#40b0a0"/>
<path d="M73.40,418.00 C74.00,418.00 74.77,418.27 75.20,418.62 C75.63,418.96 75.78,419.47 76.00,420.05 C76.22,420.63 76.24,421.35 76.50,422.10 C76.76,422.85 77.28,423.64 77.55,424.56 C77.83,425.48 78.01,426.40 78.15,427.63 C78.29,428.87 78.39,430.54 78.40,431.94 C78.41,433.34 78.53,435.00 78.20,436.04 C77.87,437.08 77.20,437.78 76.40,438.19 C75.60,438.60 74.40,438.50 73.40,438.50 C72.40,438.50 71.20,438.60 70.40,438.19 C69.60,437.78 68.93,437.08 68.60,436.04 C68.27,435.00 68.39,433.34 68.40,431.94 C68.41,430.54 68.51,428.87 68.65,427.63 C68.79,426.40 68.97,425.48 69.25,424.56 C69.53,423.64 70.04,422.85 70.30,422.10 C70.56,421.35 70.58,420.63 70.80,420.05 C71.02,419.47 71.17,418.96 71.60,418.62 C72.03,418.27 72.80,418.00 73.40,418.00 Z" fill="#3d2fb0"/>
<path d="M73.40,418.80 C73.94,418.80 74.63,419.05 75.02,419.37 C75.41,419.69 75.55,420.16 75.74,420.70 C75.94,421.24 75.96,421.90 76.19,422.60 C76.42,423.30 76.89,424.02 77.14,424.88 C77.38,425.74 77.55,426.59 77.68,427.73 C77.80,428.87 77.89,430.42 77.90,431.72 C77.91,433.02 78.02,434.55 77.72,435.52 C77.42,436.49 76.82,437.13 76.10,437.51 C75.38,437.89 74.30,437.80 73.40,437.80 C72.50,437.80 71.42,437.89 70.70,437.51 C69.98,437.13 69.38,436.49 69.08,435.52 C68.78,434.55 68.89,433.02 68.90,431.72 C68.91,430.42 69.00,428.87 69.12,427.73 C69.25,426.59 69.42,425.74 69.67,424.88 C69.91,424.02 70.38,423.30 70.61,422.60 C70.84,421.90 70.87,421.24 71.06,420.70 C71.25,420.16 71.39,419.69 71.78,419.37 C72.17,419.05 72.86,418.80 73.40,418.80 Z" fill="#3fb0b8"/>
<path d="M73.40,419.50 C73.89,419.50 74.52,419.74 74.88,420.03 C75.23,420.33 75.35,420.78 75.53,421.28 C75.71,421.78 75.73,422.41 75.94,423.06 C76.15,423.71 76.58,424.40 76.80,425.20 C77.03,426.00 77.18,426.80 77.30,427.87 C77.41,428.93 77.49,430.39 77.50,431.60 C77.51,432.82 77.61,434.26 77.34,435.16 C77.06,436.07 76.52,436.68 75.86,437.03 C75.20,437.39 74.22,437.30 73.40,437.30 C72.58,437.30 71.60,437.39 70.94,437.03 C70.28,436.68 69.74,436.07 69.46,435.16 C69.19,434.26 69.29,432.82 69.30,431.60 C69.31,430.39 69.39,428.93 69.51,427.87 C69.62,426.80 69.77,426.00 70.00,425.20 C70.22,424.40 70.65,423.71 70.86,423.06 C71.07,422.41 71.09,421.78 71.27,421.28 C71.45,420.78 71.57,420.33 71.92,420.03 C72.28,419.74 72.91,419.50 73.40,419.50 Z" fill="#a0d040"/>
<path d="M73.40,420.60 C73.86,420.60 74.44,420.81 74.77,421.08 C75.10,421.35 75.21,421.75 75.38,422.20 C75.54,422.65 75.56,423.21 75.76,423.80 C75.95,424.39 76.34,425.00 76.55,425.72 C76.76,426.44 76.90,427.16 77.01,428.12 C77.12,429.08 77.19,430.39 77.20,431.48 C77.21,432.57 77.30,433.87 77.05,434.68 C76.79,435.49 76.29,436.04 75.68,436.36 C75.07,436.68 74.16,436.60 73.40,436.60 C72.64,436.60 71.73,436.68 71.12,436.36 C70.51,436.04 70.01,435.49 69.75,434.68 C69.50,433.87 69.59,432.57 69.60,431.48 C69.61,430.39 69.68,429.08 69.79,428.12 C69.90,427.16 70.04,426.44 70.25,425.72 C70.46,425.00 70.85,424.39 71.04,423.80 C71.24,423.21 71.26,422.65 71.42,422.20 C71.59,421.75 71.70,421.35 72.03,421.08 C72.36,420.81 72.94,420.60 73.40,420.60 Z" fill="#e01010"/>
<ellipse cx="73.4" cy="422" rx="2.2" ry="1.9800000000000002" fill="#a8d040"/>
<ellipse cx="73.4" cy="422" rx="1.1" ry="0.9900000000000001" fill="#e8d020"/>
<ellipse cx="74.9" cy="426" rx="1.2" ry="1.08" fill="#a8d040"/>
<ellipse cx="74.9" cy="426" rx="0.6" ry="0.54" fill="#e8d020"/>
<ellipse cx="73.9" cy="432.5" rx="1.5" ry="1.35" fill="#a8d040"/>
<ellipse cx="73.9" cy="432.5" rx="0.75" ry="0.675" fill="#e8d020"/>
<path d="M81.4,434 L83.0,434 L82.7,448.5 L81.7,448.5 Z" fill="#3b30b0"/>
<path d="M81.5,434 L82.9,434 L82.60000000000001,441 L81.8,441 Z" fill="#40b0a0"/>
<path d="M82.20,418.00 C82.80,418.00 83.57,418.27 84.00,418.62 C84.43,418.96 84.58,419.47 84.80,420.05 C85.02,420.63 85.04,421.35 85.30,422.10 C85.56,422.85 86.08,423.64 86.35,424.56 C86.63,425.48 86.81,426.40 86.95,427.63 C87.09,428.87 87.19,430.54 87.20,431.94 C87.21,433.34 87.33,435.00 87.00,436.04 C86.67,437.08 86.00,437.78 85.20,438.19 C84.40,438.60 83.20,438.50 82.20,438.50 C81.20,438.50 80.00,438.60 79.20,438.19 C78.40,437.78 77.73,437.08 77.40,436.04 C77.07,435.00 77.19,433.34 77.20,431.94 C77.21,430.54 77.31,428.87 77.45,427.63 C77.59,426.40 77.77,425.48 78.05,424.56 C78.33,423.64 78.84,422.85 79.10,422.10 C79.36,421.35 79.38,420.63 79.60,420.05 C79.82,419.47 79.97,418.96 80.40,418.62 C80.83,418.27 81.60,418.00 82.20,418.00 Z" fill="#3d2fb0"/>
<path d="M82.20,418.80 C82.74,418.80 83.43,419.05 83.82,419.37 C84.21,419.69 84.34,420.16 84.54,420.70 C84.74,421.24 84.76,421.90 84.99,422.60 C85.22,423.30 85.69,424.02 85.94,424.88 C86.18,425.74 86.35,426.59 86.48,427.73 C86.60,428.87 86.69,430.42 86.70,431.72 C86.71,433.02 86.82,434.55 86.52,435.52 C86.22,436.49 85.62,437.13 84.90,437.51 C84.18,437.89 83.10,437.80 82.20,437.80 C81.30,437.80 80.22,437.89 79.50,437.51 C78.78,437.13 78.18,436.49 77.88,435.52 C77.58,434.55 77.69,433.02 77.70,431.72 C77.71,430.42 77.80,428.87 77.92,427.73 C78.05,426.59 78.22,425.74 78.47,424.88 C78.71,424.02 79.18,423.30 79.41,422.60 C79.64,421.90 79.66,421.24 79.86,420.70 C80.06,420.16 80.19,419.69 80.58,419.37 C80.97,419.05 81.66,418.80 82.20,418.80 Z" fill="#3fb0b8"/>
<path d="M82.20,419.50 C82.69,419.50 83.32,419.74 83.68,420.03 C84.03,420.33 84.15,420.78 84.33,421.28 C84.51,421.78 84.53,422.41 84.74,423.06 C84.95,423.71 85.38,424.40 85.60,425.20 C85.83,426.00 85.98,426.80 86.09,427.87 C86.21,428.93 86.29,430.39 86.30,431.60 C86.31,432.82 86.41,434.26 86.14,435.16 C85.86,436.07 85.32,436.68 84.66,437.03 C84.00,437.39 83.02,437.30 82.20,437.30 C81.38,437.30 80.40,437.39 79.74,437.03 C79.08,436.68 78.54,436.07 78.26,435.16 C77.99,434.26 78.09,432.82 78.10,431.60 C78.11,430.39 78.19,428.93 78.31,427.87 C78.42,426.80 78.57,426.00 78.80,425.20 C79.02,424.40 79.45,423.71 79.66,423.06 C79.87,422.41 79.89,421.78 80.07,421.28 C80.25,420.78 80.37,420.33 80.72,420.03 C81.08,419.74 81.71,419.50 82.20,419.50 Z" fill="#a0d040"/>
<path d="M82.20,420.60 C82.66,420.60 83.24,420.81 83.57,421.08 C83.90,421.35 84.01,421.75 84.18,422.20 C84.34,422.65 84.36,423.21 84.56,423.80 C84.75,424.39 85.14,425.00 85.35,425.72 C85.56,426.44 85.70,427.16 85.81,428.12 C85.92,429.08 85.99,430.39 86.00,431.48 C86.01,432.57 86.10,433.87 85.85,434.68 C85.59,435.49 85.09,436.04 84.48,436.36 C83.87,436.68 82.96,436.60 82.20,436.60 C81.44,436.60 80.53,436.68 79.92,436.36 C79.31,436.04 78.81,435.49 78.55,434.68 C78.30,433.87 78.39,432.57 78.40,431.48 C78.41,430.39 78.48,429.08 78.59,428.12 C78.70,427.16 78.84,426.44 79.05,425.72 C79.26,425.00 79.65,424.39 79.84,423.80 C80.04,423.21 80.06,422.65 80.22,422.20 C80.39,421.75 80.50,421.35 80.83,421.08 C81.16,420.81 81.74,420.60 82.20,420.60 Z" fill="#e01010"/>
<ellipse cx="80.7" cy="424" rx="1.2" ry="1.08" fill="#a8d040"/>
<ellipse cx="80.7" cy="424" rx="0.6" ry="0.54" fill="#e8d020"/>
<ellipse cx="84.2" cy="430" rx="1.2" ry="1.08" fill="#a8d040"/>
<ellipse cx="84.2" cy="430" rx="0.6" ry="0.54" fill="#e8d020"/>
<ellipse cx="80.2" cy="428" rx="1.0" ry="0.9" fill="#a8d040"/>
<ellipse cx="80.2" cy="428" rx="0.5" ry="0.45" fill="#e8d020"/>
<rect x="143.5" y="450.5" width="50.0" height="32.0" fill="url(#pbg)"/>
<rect x="143.85" y="450.85" width="49.3" height="31.3" fill="none" stroke="#1c1c1c" stroke-width="0.7"/>
<path d="M149.4,469.1 L150.79999999999998,469.1 L150.75,481.7 L150.05,481.7 Z" fill="#9c9c9c"/>
<path d="M150.10,452.10 C150.53,452.10 151.08,452.33 151.40,452.62 C151.71,452.92 151.82,453.35 151.97,453.85 C152.13,454.35 152.15,454.96 152.33,455.60 C152.52,456.24 152.89,456.91 153.09,457.70 C153.29,458.49 153.42,459.28 153.52,460.33 C153.62,461.38 153.69,462.80 153.70,464.00 C153.71,465.20 153.80,466.61 153.56,467.50 C153.32,468.39 152.84,468.99 152.26,469.34 C151.68,469.69 150.82,469.60 150.10,469.60 C149.38,469.60 148.52,469.69 147.94,469.34 C147.36,468.99 146.88,468.39 146.64,467.50 C146.40,466.61 146.49,465.20 146.50,464.00 C146.51,462.80 146.58,461.38 146.68,460.33 C146.78,459.28 146.91,458.49 147.11,457.70 C147.31,456.91 147.68,456.24 147.87,455.60 C148.05,454.96 148.07,454.35 148.23,453.85 C148.38,453.35 148.49,452.92 148.80,452.62 C149.12,452.33 149.67,452.10 150.10,452.10 Z" fill="url(#mg)" filter="url(#soft)"/>
<path d="M158.60000000000002,469.1 L160.0,469.1 L159.95000000000002,481.7 L159.25000000000003,481.7 Z" fill="#9c9c9c"/>
<path d="M159.30,452.10 C159.73,452.10 160.28,452.33 160.60,452.62 C160.91,452.92 161.02,453.35 161.17,453.85 C161.33,454.35 161.35,454.96 161.53,455.60 C161.72,456.24 162.09,456.91 162.29,457.70 C162.49,458.49 162.62,459.28 162.72,460.33 C162.82,461.38 162.89,462.80 162.90,464.00 C162.91,465.20 163.00,466.61 162.76,467.50 C162.52,468.39 162.04,468.99 161.46,469.34 C160.88,469.69 160.02,469.60 159.30,469.60 C158.58,469.60 157.72,469.69 157.14,469.34 C156.56,468.99 156.08,468.39 155.84,467.50 C155.60,466.61 155.69,465.20 155.70,464.00 C155.71,462.80 155.78,461.38 155.88,460.33 C155.98,459.28 156.11,458.49 156.31,457.70 C156.51,456.91 156.88,456.24 157.07,455.60 C157.25,454.96 157.27,454.35 157.43,453.85 C157.58,453.35 157.69,452.92 158.00,452.62 C158.32,452.33 158.87,452.10 159.30,452.10 Z" fill="url(#mg)" filter="url(#soft)"/>
<path d="M167.8,469.1 L169.2,469.1 L169.15,481.7 L168.45000000000002,481.7 Z" fill="#9c9c9c"/>
<path d="M168.50,452.10 C168.93,452.10 169.48,452.33 169.80,452.62 C170.11,452.92 170.22,453.35 170.37,453.85 C170.53,454.35 170.55,454.96 170.73,455.60 C170.92,456.24 171.29,456.91 171.49,457.70 C171.69,458.49 171.82,459.28 171.92,460.33 C172.02,461.38 172.09,462.80 172.10,464.00 C172.11,465.20 172.20,466.61 171.96,467.50 C171.72,468.39 171.24,468.99 170.66,469.34 C170.08,469.69 169.22,469.60 168.50,469.60 C167.78,469.60 166.92,469.69 166.34,469.34 C165.76,468.99 165.28,468.39 165.04,467.50 C164.80,466.61 164.89,465.20 164.90,464.00 C164.91,462.80 164.98,461.38 165.08,460.33 C165.18,459.28 165.31,458.49 165.51,457.70 C165.71,456.91 166.08,456.24 166.27,455.60 C166.45,454.96 166.47,454.35 166.63,453.85 C166.78,453.35 166.89,452.92 167.20,452.62 C167.52,452.33 168.07,452.10 168.50,452.10 Z" fill="url(#mg)" filter="url(#soft)"/>
<path d="M176.9,469.1 L178.29999999999998,469.1 L178.25,481.7 L177.55,481.7 Z" fill="#9c9c9c"/>
<path d="M177.60,452.10 C178.03,452.10 178.58,452.33 178.90,452.62 C179.21,452.92 179.32,453.35 179.47,453.85 C179.63,454.35 179.65,454.96 179.83,455.60 C180.02,456.24 180.39,456.91 180.59,457.70 C180.79,458.49 180.92,459.28 181.02,460.33 C181.12,461.38 181.19,462.80 181.20,464.00 C181.21,465.20 181.30,466.61 181.06,467.50 C180.82,468.39 180.34,468.99 179.76,469.34 C179.18,469.69 178.32,469.60 177.60,469.60 C176.88,469.60 176.02,469.69 175.44,469.34 C174.86,468.99 174.38,468.39 174.14,467.50 C173.90,466.61 173.99,465.20 174.00,464.00 C174.01,462.80 174.08,461.38 174.18,460.33 C174.28,459.28 174.41,458.49 174.61,457.70 C174.81,456.91 175.18,456.24 175.37,455.60 C175.55,454.96 175.57,454.35 175.73,453.85 C175.88,453.35 175.99,452.92 176.30,452.62 C176.62,452.33 177.17,452.10 177.60,452.10 Z" fill="url(#mg)" filter="url(#soft)"/>
<path d="M185.9,469.1 L187.29999999999998,469.1 L187.25,481.7 L186.55,481.7 Z" fill="#9c9c9c"/>
<path d="M186.60,452.10 C187.03,452.10 187.58,452.33 187.90,452.62 C188.21,452.92 188.32,453.35 188.47,453.85 C188.63,454.35 188.65,454.96 188.83,455.60 C189.02,456.24 189.39,456.91 189.59,457.70 C189.79,458.49 189.92,459.28 190.02,460.33 C190.12,461.38 190.19,462.80 190.20,464.00 C190.21,465.20 190.30,466.61 190.06,467.50 C189.82,468.39 189.34,468.99 188.76,469.34 C188.18,469.69 187.32,469.60 186.60,469.60 C185.88,469.60 185.02,469.69 184.44,469.34 C183.86,468.99 183.38,468.39 183.14,467.50 C182.90,466.61 182.99,465.20 183.00,464.00 C183.01,462.80 183.08,461.38 183.18,460.33 C183.28,459.28 183.41,458.49 183.61,457.70 C183.81,456.91 184.18,456.24 184.37,455.60 C184.55,454.96 184.57,454.35 184.73,453.85 C184.88,453.35 184.99,452.92 185.30,452.62 C185.62,452.33 186.17,452.10 186.60,452.10 Z" fill="url(#mg)" filter="url(#soft)"/>
<rect x="143.5" y="450.5" width="50.0" height="32.0" filter="url(#mtex)" opacity="0.22"/>
<path d="M150.10,452.10 C150.56,452.10 151.14,452.33 151.47,452.62 C151.80,452.92 151.91,453.35 152.08,453.85 C152.24,454.35 152.26,454.96 152.46,455.60 C152.65,456.24 153.04,456.91 153.25,457.70 C153.46,458.49 153.60,459.28 153.71,460.33 C153.82,461.38 153.89,462.80 153.90,464.00 C153.91,465.20 154.00,466.61 153.75,467.50 C153.49,468.39 152.99,468.99 152.38,469.34 C151.77,469.69 150.86,469.60 150.10,469.60 C149.34,469.60 148.43,469.69 147.82,469.34 C147.21,468.99 146.71,468.39 146.45,467.50 C146.20,466.61 146.29,465.20 146.30,464.00 C146.31,462.80 146.38,461.38 146.49,460.33 C146.60,459.28 146.74,458.49 146.95,457.70 C147.16,456.91 147.55,456.24 147.74,455.60 C147.94,454.96 147.96,454.35 148.12,453.85 C148.29,453.35 148.40,452.92 148.73,452.62 C149.06,452.33 149.64,452.10 150.10,452.10 Z" fill="#3d2fb0"/>
<ellipse cx="150.6" cy="455.5" rx="1.8" ry="1.4" fill="#5060d0"/><ellipse cx="149.4" cy="460.5" rx="1.6" ry="1.6" fill="#f4f4f4"/><ellipse cx="150.8" cy="465.0" rx="1.5" ry="1.3" fill="#f0f0f0"/>
<ellipse cx="151.5" cy="458.0" rx="1.0" ry="0.9" fill="#3d2fb0"/><ellipse cx="151.5" cy="458.0" rx="0.65" ry="0.6" fill="#3aa6c8"/><ellipse cx="151.5" cy="458.0" rx="0.35" ry="0.3" fill="#a8d040"/><ellipse cx="148.5" cy="466.0" rx="0.9" ry="0.81" fill="#3d2fb0"/><ellipse cx="148.5" cy="466.0" rx="0.5850000000000001" ry="0.54" fill="#3aa6c8"/><ellipse cx="148.5" cy="466.0" rx="0.315" ry="0.27" fill="#a8d040"/>
<ellipse cx="168.5" cy="460.5" rx="1.5" ry="1.35" fill="#3d2fb0" opacity="0.9"/><ellipse cx="168.5" cy="460.5" rx="0.675" ry="0.6000000000000001" fill="#4a8fe0" opacity="0.9"/><ellipse cx="168.0" cy="464.5" rx="1.2" ry="1.08" fill="#4a32b5" opacity="0.85"/>
<ellipse cx="177.6" cy="464.0" rx="0.8" ry="0.7200000000000001" fill="#4a32b5" opacity="0.85"/>
<path d="M186.60,451.70 C187.10,451.70 187.75,451.95 188.11,452.27 C188.48,452.59 188.60,453.06 188.78,453.60 C188.97,454.14 188.99,454.80 189.20,455.50 C189.42,456.20 189.85,456.92 190.09,457.78 C190.32,458.63 190.47,459.49 190.59,460.63 C190.71,461.77 190.79,463.32 190.80,464.62 C190.81,465.92 190.91,467.45 190.63,468.42 C190.35,469.39 189.79,470.03 189.12,470.41 C188.45,470.79 187.44,470.70 186.60,470.70 C185.76,470.70 184.75,470.79 184.08,470.41 C183.41,470.03 182.85,469.39 182.57,468.42 C182.29,467.45 182.39,465.92 182.40,464.62 C182.41,463.32 182.49,461.77 182.61,460.63 C182.73,459.49 182.88,458.63 183.11,457.78 C183.34,456.92 183.78,456.20 184.00,455.50 C184.21,454.80 184.23,454.14 184.42,453.60 C184.60,453.06 184.72,452.59 185.09,452.27 C185.45,451.95 186.10,451.70 186.60,451.70 Z" fill="#3d2fb0"/>
<path d="M186.60,452.70 C187.02,452.70 187.56,452.93 187.86,453.21 C188.16,453.49 188.27,453.92 188.42,454.40 C188.57,454.88 188.59,455.48 188.77,456.10 C188.95,456.72 189.31,457.38 189.50,458.14 C189.70,458.90 189.83,459.67 189.92,460.69 C190.02,461.71 190.09,463.10 190.10,464.26 C190.11,465.42 190.19,466.80 189.96,467.66 C189.73,468.52 189.26,469.11 188.70,469.44 C188.14,469.78 187.30,469.70 186.60,469.70 C185.90,469.70 185.06,469.78 184.50,469.44 C183.94,469.11 183.47,468.52 183.24,467.66 C183.01,466.80 183.09,465.42 183.10,464.26 C183.11,463.10 183.18,461.71 183.28,460.69 C183.37,459.67 183.50,458.90 183.69,458.14 C183.89,457.38 184.25,456.72 184.43,456.10 C184.61,455.48 184.63,454.88 184.78,454.40 C184.93,453.92 185.04,453.49 185.34,453.21 C185.64,452.93 186.18,452.70 186.60,452.70 Z" fill="#40b0c0"/>
<path d="M186.60,454.00 C186.96,454.00 187.42,454.19 187.68,454.44 C187.94,454.68 188.03,455.04 188.16,455.45 C188.29,455.86 188.31,456.37 188.46,456.90 C188.62,457.43 188.93,457.99 189.09,458.64 C189.25,459.29 189.36,459.94 189.45,460.81 C189.53,461.69 189.59,462.87 189.60,463.86 C189.60,464.85 189.68,466.02 189.48,466.76 C189.28,467.50 188.88,467.99 188.40,468.28 C187.92,468.57 187.20,468.50 186.60,468.50 C186.00,468.50 185.28,468.57 184.80,468.28 C184.32,467.99 183.92,467.50 183.72,466.76 C183.52,466.02 183.59,464.85 183.60,463.86 C183.60,462.87 183.66,461.69 183.75,460.81 C183.84,459.94 183.94,459.29 184.11,458.64 C184.27,457.99 184.58,457.43 184.74,456.90 C184.89,456.37 184.91,455.86 185.04,455.45 C185.17,455.04 185.26,454.68 185.52,454.44 C185.78,454.19 186.24,454.00 186.60,454.00 Z" fill="#80c040"/>
<ellipse cx="186.8" cy="460.5" rx="2.2" ry="4" fill="#e01010"/>
<rect x="195.5" y="450.5" width="47.0" height="32.0" fill="url(#pbg)"/>
<rect x="195.85" y="450.85" width="46.3" height="31.3" fill="none" stroke="#1c1c1c" stroke-width="0.7"/>
<path d="M210.10000000000002,469.1 L211.5,469.1 L211.45000000000002,481.7 L210.75000000000003,481.7 Z" fill="#9c9c9c"/>
<path d="M210.80,452.10 C211.22,452.10 211.76,452.33 212.06,452.62 C212.36,452.92 212.47,453.35 212.62,453.85 C212.77,454.35 212.79,454.96 212.97,455.60 C213.15,456.24 213.51,456.91 213.71,457.70 C213.90,458.49 214.03,459.28 214.12,460.33 C214.22,461.38 214.29,462.80 214.30,464.00 C214.31,465.20 214.39,466.61 214.16,467.50 C213.93,468.39 213.46,468.99 212.90,469.34 C212.34,469.69 211.50,469.60 210.80,469.60 C210.10,469.60 209.26,469.69 208.70,469.34 C208.14,468.99 207.67,468.39 207.44,467.50 C207.21,466.61 207.29,465.20 207.30,464.00 C207.31,462.80 207.38,461.38 207.48,460.33 C207.57,459.28 207.70,458.49 207.90,457.70 C208.09,456.91 208.45,456.24 208.63,455.60 C208.81,454.96 208.83,454.35 208.98,453.85 C209.13,453.35 209.24,452.92 209.54,452.62 C209.84,452.33 210.38,452.10 210.80,452.10 Z" fill="url(#mg)" filter="url(#soft)"/>
<path d="M226.9,469.1 L228.29999999999998,469.1 L228.25,481.7 L227.55,481.7 Z" fill="#9c9c9c"/>
<path d="M227.60,452.10 C228.02,452.10 228.56,452.33 228.86,452.62 C229.16,452.92 229.27,453.35 229.42,453.85 C229.57,454.35 229.59,454.96 229.77,455.60 C229.95,456.24 230.31,456.91 230.50,457.70 C230.70,458.49 230.83,459.28 230.92,460.33 C231.02,461.38 231.09,462.80 231.10,464.00 C231.11,465.20 231.19,466.61 230.96,467.50 C230.73,468.39 230.26,468.99 229.70,469.34 C229.14,469.69 228.30,469.60 227.60,469.60 C226.90,469.60 226.06,469.69 225.50,469.34 C224.94,468.99 224.47,468.39 224.24,467.50 C224.01,466.61 224.09,465.20 224.10,464.00 C224.11,462.80 224.18,461.38 224.28,460.33 C224.37,459.28 224.50,458.49 224.69,457.70 C224.89,456.91 225.25,456.24 225.43,455.60 C225.61,454.96 225.63,454.35 225.78,453.85 C225.93,453.35 226.04,452.92 226.34,452.62 C226.64,452.33 227.18,452.10 227.60,452.10 Z" fill="url(#mg)" filter="url(#soft)"/>
<path d="M235.4,469.1 L236.79999999999998,469.1 L236.75,481.7 L236.05,481.7 Z" fill="#9c9c9c"/>
<path d="M236.10,452.10 C236.52,452.10 237.06,452.33 237.36,452.62 C237.66,452.92 237.77,453.35 237.92,453.85 C238.07,454.35 238.09,454.96 238.27,455.60 C238.45,456.24 238.81,456.91 239.00,457.70 C239.20,458.49 239.33,459.28 239.42,460.33 C239.52,461.38 239.59,462.80 239.60,464.00 C239.61,465.20 239.69,466.61 239.46,467.50 C239.23,468.39 238.76,468.99 238.20,469.34 C237.64,469.69 236.80,469.60 236.10,469.60 C235.40,469.60 234.56,469.69 234.00,469.34 C233.44,468.99 232.97,468.39 232.74,467.50 C232.51,466.61 232.59,465.20 232.60,464.00 C232.61,462.80 232.68,461.38 232.78,460.33 C232.87,459.28 233.00,458.49 233.19,457.70 C233.39,456.91 233.75,456.24 233.93,455.60 C234.11,454.96 234.13,454.35 234.28,453.85 C234.43,453.35 234.54,452.92 234.84,452.62 C235.14,452.33 235.68,452.10 236.10,452.10 Z" fill="url(#mg)" filter="url(#soft)"/>
<path d="M199.8,469.1 L201.2,469.1 L201.15,481.7 L200.45000000000002,481.7 Z" fill="#9c9c9c"/>
<rect x="195.5" y="450.5" width="47.0" height="32.0" filter="url(#mtex)" opacity="0.22"/>
<path d="M200.50,452.00 C201.00,452.00 201.65,452.25 202.01,452.56 C202.38,452.86 202.50,453.33 202.68,453.85 C202.87,454.37 202.89,455.02 203.10,455.70 C203.32,456.38 203.75,457.09 203.99,457.92 C204.22,458.75 204.37,459.58 204.49,460.69 C204.61,461.81 204.69,463.32 204.70,464.58 C204.71,465.84 204.81,467.34 204.53,468.28 C204.25,469.22 203.69,469.85 203.02,470.22 C202.35,470.59 201.34,470.50 200.50,470.50 C199.66,470.50 198.65,470.59 197.98,470.22 C197.31,469.85 196.75,469.22 196.47,468.28 C196.19,467.34 196.29,465.84 196.30,464.58 C196.31,463.32 196.39,461.81 196.51,460.69 C196.63,459.58 196.78,458.75 197.01,457.92 C197.25,457.09 197.68,456.38 197.90,455.70 C198.11,455.02 198.13,454.37 198.32,453.85 C198.50,453.33 198.62,452.86 198.99,452.56 C199.35,452.25 200.00,452.00 200.50,452.00 Z" fill="#3d2fb0"/>
<path d="M200.50,453.00 C200.92,453.00 201.46,453.22 201.76,453.50 C202.06,453.77 202.17,454.18 202.32,454.65 C202.47,455.12 202.49,455.69 202.67,456.30 C202.85,456.91 203.21,457.54 203.41,458.28 C203.60,459.02 203.73,459.76 203.82,460.75 C203.92,461.75 203.99,463.09 204.00,464.22 C204.01,465.35 204.09,466.68 203.86,467.52 C203.63,468.36 203.16,468.92 202.60,469.25 C202.04,469.58 201.20,469.50 200.50,469.50 C199.80,469.50 198.96,469.58 198.40,469.25 C197.84,468.92 197.37,468.36 197.14,467.52 C196.91,466.68 196.99,465.35 197.00,464.22 C197.01,463.09 197.08,461.75 197.18,460.75 C197.27,459.76 197.40,459.02 197.59,458.28 C197.79,457.54 198.15,456.91 198.33,456.30 C198.51,455.69 198.53,455.12 198.68,454.65 C198.83,454.18 198.94,453.77 199.24,453.50 C199.54,453.22 200.08,453.00 200.50,453.00 Z" fill="#40b0c0"/>
<path d="M200.50,454.00 C200.86,454.00 201.32,454.19 201.58,454.42 C201.84,454.65 201.93,455.00 202.06,455.40 C202.19,455.80 202.21,456.29 202.36,456.80 C202.52,457.31 202.83,457.85 202.99,458.48 C203.16,459.11 203.26,459.74 203.35,460.58 C203.44,461.42 203.50,462.56 203.50,463.52 C203.50,464.48 203.58,465.61 203.38,466.32 C203.18,467.03 202.78,467.51 202.30,467.79 C201.82,468.07 201.10,468.00 200.50,468.00 C199.90,468.00 199.18,468.07 198.70,467.79 C198.22,467.51 197.82,467.03 197.62,466.32 C197.42,465.61 197.50,464.48 197.50,463.52 C197.50,462.56 197.56,461.42 197.65,460.58 C197.74,459.74 197.84,459.11 198.01,458.48 C198.17,457.85 198.48,457.31 198.64,456.80 C198.79,456.29 198.81,455.80 198.94,455.40 C199.07,455.00 199.16,454.65 199.42,454.42 C199.68,454.19 200.14,454.00 200.50,454.00 Z" fill="#80c040"/>
<ellipse cx="200" cy="458.5" rx="2" ry="3" fill="#e01010"/><ellipse cx="201" cy="464.5" rx="1.6" ry="1.8" fill="#e01010"/>
<ellipse cx="211.5" cy="455.5" rx="1.6" ry="1.4400000000000002" fill="#4a32b5" opacity="0.85"/><ellipse cx="212" cy="460.5" rx="1.8" ry="1.62" fill="#4a32b5" opacity="0.85"/><ellipse cx="212" cy="464.5" rx="1.4" ry="1.26" fill="#3d2fb0" opacity="0.9"/><ellipse cx="212" cy="464.5" rx="0.63" ry="0.5599999999999999" fill="#4a8fe0" opacity="0.9"/>
<rect x="244.5" y="450.5" width="37.69999999999999" height="32.0" fill="url(#pbg)"/>
<rect x="244.85" y="450.85" width="36.999999999999986" height="31.3" fill="none" stroke="#1c1c1c" stroke-width="0.7"/>
<path d="M251.8,467.6 L253.2,467.6 L253.15,481.7 L252.45000000000002,481.7 Z" fill="#9c9c9c"/>
<path d="M252.50,452.10 C253.14,452.10 253.95,452.31 254.41,452.58 C254.87,452.85 255.03,453.25 255.26,453.70 C255.49,454.15 255.51,454.71 255.79,455.30 C256.06,455.89 256.61,456.50 256.90,457.22 C257.19,457.94 257.38,458.66 257.54,459.62 C257.69,460.58 257.79,461.89 257.80,462.98 C257.81,464.07 257.94,465.37 257.59,466.18 C257.23,466.99 256.53,467.54 255.68,467.86 C254.83,468.18 253.56,468.10 252.50,468.10 C251.44,468.10 250.17,468.18 249.32,467.86 C248.47,467.54 247.77,466.99 247.41,466.18 C247.06,465.37 247.19,464.07 247.20,462.98 C247.21,461.89 247.31,460.58 247.47,459.62 C247.62,458.66 247.81,457.94 248.10,457.22 C248.39,456.50 248.94,455.89 249.21,455.30 C249.49,454.71 249.51,454.15 249.74,453.70 C249.97,453.25 250.13,452.85 250.59,452.58 C251.05,452.31 251.86,452.10 252.50,452.10 Z" fill="url(#mg)" filter="url(#soft)"/>
<path d="M262.6,467.6 L264.0,467.6 L263.95000000000005,481.7 L263.25,481.7 Z" fill="#9c9c9c"/>
<path d="M263.30,452.10 C263.94,452.10 264.75,452.31 265.21,452.58 C265.67,452.85 265.83,453.25 266.06,453.70 C266.29,454.15 266.31,454.71 266.59,455.30 C266.86,455.89 267.41,456.50 267.70,457.22 C267.99,457.94 268.18,458.66 268.34,459.62 C268.49,460.58 268.59,461.89 268.60,462.98 C268.61,464.07 268.74,465.37 268.39,466.18 C268.03,466.99 267.33,467.54 266.48,467.86 C265.63,468.18 264.36,468.10 263.30,468.10 C262.24,468.10 260.97,468.18 260.12,467.86 C259.27,467.54 258.57,466.99 258.21,466.18 C257.86,465.37 257.99,464.07 258.00,462.98 C258.01,461.89 258.11,460.58 258.26,459.62 C258.42,458.66 258.61,457.94 258.90,457.22 C259.19,456.50 259.74,455.89 260.01,455.30 C260.29,454.71 260.31,454.15 260.54,453.70 C260.77,453.25 260.93,452.85 261.39,452.58 C261.85,452.31 262.66,452.10 263.30,452.10 Z" fill="url(#mg)" filter="url(#soft)"/>
<path d="M273.6,467.6 L275.0,467.6 L274.95000000000005,481.7 L274.25,481.7 Z" fill="#9c9c9c"/>
<path d="M274.30,452.10 C274.94,452.10 275.75,452.31 276.21,452.58 C276.67,452.85 276.83,453.25 277.06,453.70 C277.29,454.15 277.31,454.71 277.59,455.30 C277.86,455.89 278.41,456.50 278.70,457.22 C278.99,457.94 279.18,458.66 279.34,459.62 C279.49,460.58 279.59,461.89 279.60,462.98 C279.61,464.07 279.74,465.37 279.39,466.18 C279.03,466.99 278.33,467.54 277.48,467.86 C276.63,468.18 275.36,468.10 274.30,468.10 C273.24,468.10 271.97,468.18 271.12,467.86 C270.27,467.54 269.57,466.99 269.21,466.18 C268.86,465.37 268.99,464.07 269.00,462.98 C269.01,461.89 269.11,460.58 269.26,459.62 C269.42,458.66 269.61,457.94 269.90,457.22 C270.19,456.50 270.74,455.89 271.01,455.30 C271.29,454.71 271.31,454.15 271.54,453.70 C271.77,453.25 271.93,452.85 272.39,452.58 C272.85,452.31 273.66,452.10 274.30,452.10 Z" fill="url(#mg)" filter="url(#soft)"/>
<rect x="244.5" y="450.5" width="37.69999999999999" height="32.0" filter="url(#mtex)" opacity="0.22"/>
<rect x="143.5" y="484" width="50.0" height="32" fill="url(#pbg2)"/>
<rect x="144.5" y="486.0" width="48.0" height="5.8" fill="#2e2e2e"/>
<rect x="144.5" y="485.0" width="48.0" height="1.0" fill="#7a7a7a"/>
<rect x="149.45" y="487.0" width="1.3" height="4.2" fill="#dcdcdc"/>
<rect x="158.65" y="487.0" width="1.3" height="4.2" fill="#dcdcdc"/>
<rect x="176.95" y="487.0" width="1.3" height="4.2" fill="#dcdcdc"/>
<rect x="185.95" y="487.0" width="1.3" height="4.2" fill="#dcdcdc"/>
<rect x="143.85" y="484.35" width="49.3" height="31.3" fill="none" stroke="#1c1c1c" stroke-width="0.7"/>
<path d="M167.8,503.0 L169.2,503.0 L169.15,515.2 L168.45000000000002,515.2 Z" fill="#9c9c9c"/>
<rect x="143.5" y="484" width="50.0" height="32" filter="url(#mtex)" opacity="0.22"/>
<path d="M169.60,486.80 C170.23,486.80 171.03,487.02 171.49,487.30 C171.94,487.57 172.10,487.98 172.33,488.45 C172.56,488.92 172.58,489.50 172.85,490.10 C173.13,490.71 173.67,491.34 173.96,492.08 C174.25,492.82 174.44,493.56 174.59,494.56 C174.74,495.55 174.84,496.89 174.85,498.02 C174.86,499.15 174.99,500.48 174.64,501.32 C174.29,502.16 173.59,502.72 172.75,503.05 C171.91,503.38 170.65,503.30 169.60,503.30 C168.55,503.30 167.29,503.38 166.45,503.05 C165.61,502.72 164.91,502.16 164.56,501.32 C164.21,500.48 164.34,499.15 164.35,498.02 C164.36,496.89 164.46,495.55 164.61,494.56 C164.76,493.56 164.95,492.82 165.24,492.08 C165.53,491.34 166.07,490.71 166.34,490.10 C166.62,489.50 166.64,488.92 166.87,488.45 C167.10,487.98 167.25,487.57 167.71,487.30 C168.17,487.02 168.97,486.80 169.60,486.80 Z" fill="#3d2fb0"/>
<ellipse cx="169.8" cy="490.5" rx="3.0" ry="2.4" fill="#3aa6d8"/><ellipse cx="169.8" cy="490.5" rx="1.6" ry="1.2" fill="#9ad050"/>
<ellipse cx="170.2" cy="495.2" rx="3.6" ry="2.2" fill="#40b0c0"/><ellipse cx="170.2" cy="495.2" rx="2.6" ry="1.3" fill="#c8d830"/>
<ellipse cx="166.0" cy="499.2" rx="1.7" ry="1.53" fill="#3d2fb0"/><ellipse cx="166.0" cy="499.2" rx="1.394" ry="1.275" fill="#38b0c8"/><ellipse cx="166.0" cy="499.2" rx="1.1560000000000001" ry="1.054" fill="#f0d020"/><ellipse cx="166.0" cy="499.2" rx="0.935" ry="0.85" fill="#e01010"/><ellipse cx="173.6" cy="499.2" rx="1.7" ry="1.53" fill="#3d2fb0"/><ellipse cx="173.6" cy="499.2" rx="1.394" ry="1.275" fill="#38b0c8"/><ellipse cx="173.6" cy="499.2" rx="1.1560000000000001" ry="1.054" fill="#f0d020"/><ellipse cx="173.6" cy="499.2" rx="0.935" ry="0.85" fill="#e01010"/>
<rect x="195.5" y="484" width="47.0" height="32" fill="url(#pbg2)"/>
<rect x="196.5" y="486.0" width="45.0" height="5.8" fill="#2e2e2e"/>
<rect x="196.5" y="485.0" width="45.0" height="1.0" fill="#7a7a7a"/>
<rect x="201.85" y="487.0" width="1.3" height="4.2" fill="#dcdcdc"/>
<rect x="218.45" y="487.0" width="1.3" height="4.2" fill="#dcdcdc"/>
<rect x="195.85" y="484.35" width="46.3" height="31.3" fill="none" stroke="#1c1c1c" stroke-width="0.7"/>
<path d="M226.9,502.6 L228.29999999999998,502.6 L228.25,515.2 L227.55,515.2 Z" fill="#9c9c9c"/>
<path d="M227.60,485.60 C228.02,485.60 228.56,485.83 228.86,486.12 C229.16,486.42 229.27,486.85 229.42,487.35 C229.57,487.85 229.59,488.46 229.77,489.10 C229.95,489.74 230.31,490.41 230.50,491.20 C230.70,491.99 230.83,492.78 230.92,493.83 C231.02,494.88 231.09,496.30 231.10,497.50 C231.11,498.70 231.19,500.11 230.96,501.00 C230.73,501.89 230.26,502.49 229.70,502.84 C229.14,503.19 228.30,503.10 227.60,503.10 C226.90,503.10 226.06,503.19 225.50,502.84 C224.94,502.49 224.47,501.89 224.24,501.00 C224.01,500.11 224.09,498.70 224.10,497.50 C224.11,496.30 224.18,494.88 224.28,493.83 C224.37,492.78 224.50,491.99 224.69,491.20 C224.89,490.41 225.25,489.74 225.43,489.10 C225.61,488.46 225.63,487.85 225.78,487.35 C225.93,486.85 226.04,486.42 226.34,486.12 C226.64,485.83 227.18,485.60 227.60,485.60 Z" fill="url(#mg)" filter="url(#soft)"/>
<path d="M235.4,502.6 L236.79999999999998,502.6 L236.75,515.2 L236.05,515.2 Z" fill="#9c9c9c"/>
<path d="M236.10,485.60 C236.52,485.60 237.06,485.83 237.36,486.12 C237.66,486.42 237.77,486.85 237.92,487.35 C238.07,487.85 238.09,488.46 238.27,489.10 C238.45,489.74 238.81,490.41 239.00,491.20 C239.20,491.99 239.33,492.78 239.42,493.83 C239.52,494.88 239.59,496.30 239.60,497.50 C239.61,498.70 239.69,500.11 239.46,501.00 C239.23,501.89 238.76,502.49 238.20,502.84 C237.64,503.19 236.80,503.10 236.10,503.10 C235.40,503.10 234.56,503.19 234.00,502.84 C233.44,502.49 232.97,501.89 232.74,501.00 C232.51,500.11 232.59,498.70 232.60,497.50 C232.61,496.30 232.68,494.88 232.78,493.83 C232.87,492.78 233.00,491.99 233.19,491.20 C233.39,490.41 233.75,489.74 233.93,489.10 C234.11,488.46 234.13,487.85 234.28,487.35 C234.43,486.85 234.54,486.42 234.84,486.12 C235.14,485.83 235.68,485.60 236.10,485.60 Z" fill="url(#mg)" filter="url(#soft)"/>
<path d="M210.10000000000002,503.0 L211.5,503.0 L211.45000000000002,515.2 L210.75000000000003,515.2 Z" fill="#9c9c9c"/>
<rect x="195.5" y="484" width="47.0" height="32" filter="url(#mtex)" opacity="0.22"/>
<path d="M210.60,487.00 C211.08,487.00 211.69,487.22 212.04,487.50 C212.39,487.77 212.51,488.18 212.68,488.65 C212.85,489.12 212.87,489.69 213.08,490.30 C213.29,490.91 213.70,491.54 213.92,492.28 C214.14,493.02 214.29,493.76 214.40,494.75 C214.51,495.75 214.59,497.09 214.60,498.22 C214.61,499.35 214.71,500.68 214.44,501.52 C214.17,502.36 213.64,502.92 213.00,503.25 C212.36,503.58 211.40,503.50 210.60,503.50 C209.80,503.50 208.84,503.58 208.20,503.25 C207.56,502.92 207.03,502.36 206.76,501.52 C206.49,500.68 206.59,499.35 206.60,498.22 C206.61,497.09 206.69,495.75 206.80,494.75 C206.91,493.76 207.06,493.02 207.28,492.28 C207.50,491.54 207.91,490.91 208.12,490.30 C208.33,489.69 208.35,489.12 208.52,488.65 C208.69,488.18 208.81,487.77 209.16,487.50 C209.51,487.22 210.12,487.00 210.60,487.00 Z" fill="#3d2fb0"/>
<ellipse cx="210.6" cy="492" rx="2.2" ry="3" fill="#5a48c8"/>
<ellipse cx="210.6" cy="498" rx="2.4" ry="2.16" fill="#3d2fb0"/><ellipse cx="210.6" cy="498" rx="1.9679999999999997" ry="1.7999999999999998" fill="#38b0c8"/><ellipse cx="210.6" cy="498" rx="1.6320000000000001" ry="1.488" fill="#f0d020"/><ellipse cx="210.6" cy="498" rx="1.32" ry="1.2" fill="#e01010"/>
<rect x="244.5" y="484" width="37.69999999999999" height="32" fill="url(#pbg)"/>
<rect x="244.85" y="484.35" width="36.999999999999986" height="31.3" fill="none" stroke="#1c1c1c" stroke-width="0.7"/>
<path d="M251.8,500.2 L253.2,500.2 L253.15,515.2 L252.45000000000002,515.2 Z" fill="#9c9c9c"/>
<path d="M252.50,487.20 C253.09,487.20 253.84,487.38 254.26,487.60 C254.69,487.83 254.84,488.17 255.05,488.55 C255.26,488.93 255.28,489.40 255.54,489.90 C255.79,490.39 256.30,490.91 256.57,491.52 C256.84,492.13 257.02,492.74 257.15,493.55 C257.29,494.36 257.39,495.46 257.40,496.38 C257.41,497.30 257.53,498.39 257.20,499.08 C256.88,499.77 256.22,500.23 255.44,500.50 C254.66,500.77 253.48,500.70 252.50,500.70 C251.52,500.70 250.34,500.77 249.56,500.50 C248.78,500.23 248.12,499.77 247.80,499.08 C247.47,498.39 247.59,497.30 247.60,496.38 C247.61,495.46 247.71,494.36 247.84,493.55 C247.98,492.74 248.16,492.13 248.43,491.52 C248.70,490.91 249.21,490.39 249.46,489.90 C249.72,489.40 249.74,488.93 249.95,488.55 C250.16,488.17 250.31,487.83 250.74,487.60 C251.16,487.38 251.91,487.20 252.50,487.20 Z" fill="url(#mg)" filter="url(#soft)"/>
<path d="M262.6,500.2 L264.0,500.2 L263.95000000000005,515.2 L263.25,515.2 Z" fill="#9c9c9c"/>
<path d="M263.30,487.20 C263.89,487.20 264.64,487.38 265.06,487.60 C265.49,487.83 265.64,488.17 265.85,488.55 C266.06,488.93 266.08,489.40 266.34,489.90 C266.59,490.39 267.10,490.91 267.37,491.52 C267.64,492.13 267.82,492.74 267.95,493.55 C268.09,494.36 268.19,495.46 268.20,496.38 C268.21,497.30 268.33,498.39 268.00,499.08 C267.68,499.77 267.02,500.23 266.24,500.50 C265.46,500.77 264.28,500.70 263.30,500.70 C262.32,500.70 261.14,500.77 260.36,500.50 C259.58,500.23 258.92,499.77 258.60,499.08 C258.27,498.39 258.39,497.30 258.40,496.38 C258.41,495.46 258.51,494.36 258.65,493.55 C258.78,492.74 258.96,492.13 259.23,491.52 C259.50,490.91 260.01,490.39 260.26,489.90 C260.52,489.40 260.54,488.93 260.75,488.55 C260.96,488.17 261.11,487.83 261.54,487.60 C261.96,487.38 262.71,487.20 263.30,487.20 Z" fill="url(#mg)" filter="url(#soft)"/>
<path d="M273.6,500.2 L275.0,500.2 L274.95000000000005,515.2 L274.25,515.2 Z" fill="#9c9c9c"/>
<path d="M274.30,487.20 C274.89,487.20 275.64,487.38 276.06,487.60 C276.49,487.83 276.64,488.17 276.85,488.55 C277.06,488.93 277.08,489.40 277.34,489.90 C277.59,490.39 278.10,490.91 278.37,491.52 C278.64,492.13 278.82,492.74 278.95,493.55 C279.09,494.36 279.19,495.46 279.20,496.38 C279.21,497.30 279.33,498.39 279.00,499.08 C278.68,499.77 278.02,500.23 277.24,500.50 C276.46,500.77 275.28,500.70 274.30,500.70 C273.32,500.70 272.14,500.77 271.36,500.50 C270.58,500.23 269.92,499.77 269.60,499.08 C269.27,498.39 269.39,497.30 269.40,496.38 C269.41,495.46 269.51,494.36 269.65,493.55 C269.78,492.74 269.96,492.13 270.23,491.52 C270.50,490.91 271.01,490.39 271.26,489.90 C271.52,489.40 271.54,488.93 271.75,488.55 C271.96,488.17 272.11,487.83 272.54,487.60 C272.96,487.38 273.71,487.20 274.30,487.20 Z" fill="url(#mg)" filter="url(#soft)"/>
<rect x="244.5" y="484" width="37.69999999999999" height="32" filter="url(#mtex)" opacity="0.22"/>
<rect x="143.5" y="517" width="50.0" height="30" fill="url(#pbg2)"/>
<rect x="144.5" y="519.0" width="48.0" height="5.8" fill="#2e2e2e"/>
<rect x="144.5" y="518.0" width="48.0" height="1.0" fill="#7a7a7a"/>
<rect x="149.45" y="520.0" width="1.3" height="4.2" fill="#dcdcdc"/>
<rect x="158.65" y="520.0" width="1.3" height="4.2" fill="#dcdcdc"/>
<rect x="176.95" y="520.0" width="1.3" height="4.2" fill="#dcdcdc"/>
<rect x="185.95" y="520.0" width="1.3" height="4.2" fill="#dcdcdc"/>
<rect x="143.85" y="517.35" width="49.3" height="29.3" fill="none" stroke="#1c1c1c" stroke-width="0.7"/>
<path d="M167.3,536.0 L168.7,536.0 L168.65,546.2 L167.95000000000002,546.2 Z" fill="#9c9c9c"/>
<rect x="143.5" y="517" width="50.0" height="30" filter="url(#mtex)" opacity="0.22"/>
<path d="M167.6,531 L168.8,531 L168.6,535 L168.3,546 L167.7,546 Z" fill="#3b30b0"/>
<path d="M168.00,518.80 C168.66,518.80 169.50,519.01 169.98,519.26 C170.46,519.52 170.62,519.91 170.86,520.35 C171.10,520.79 171.13,521.33 171.41,521.90 C171.69,522.47 172.26,523.06 172.56,523.76 C172.87,524.46 173.07,525.15 173.22,526.08 C173.38,527.01 173.49,528.28 173.50,529.34 C173.51,530.40 173.65,531.65 173.28,532.44 C172.91,533.23 172.18,533.76 171.30,534.07 C170.42,534.38 169.10,534.30 168.00,534.30 C166.90,534.30 165.58,534.38 164.70,534.07 C163.82,533.76 163.09,533.23 162.72,532.44 C162.35,531.65 162.49,530.40 162.50,529.34 C162.51,528.28 162.62,527.01 162.78,526.08 C162.93,525.15 163.13,524.46 163.44,523.76 C163.74,523.06 164.31,522.47 164.59,521.90 C164.87,521.33 164.90,520.79 165.14,520.35 C165.38,519.91 165.54,519.52 166.02,519.26 C166.50,519.01 167.34,518.80 168.00,518.80 Z" fill="#3d2fb0"/>
<path d="M168.00,520.00 C168.56,520.00 169.28,520.18 169.69,520.40 C170.10,520.62 170.24,520.95 170.44,521.32 C170.65,521.69 170.67,522.16 170.91,522.64 C171.16,523.12 171.64,523.63 171.90,524.22 C172.16,524.82 172.33,525.41 172.47,526.20 C172.60,527.00 172.69,528.07 172.70,528.98 C172.71,529.88 172.83,530.94 172.51,531.62 C172.20,532.29 171.57,532.74 170.82,533.00 C170.07,533.27 168.94,533.20 168.00,533.20 C167.06,533.20 165.93,533.27 165.18,533.00 C164.43,532.74 163.80,532.29 163.49,531.62 C163.17,530.94 163.29,529.88 163.30,528.98 C163.31,528.07 163.40,527.00 163.53,526.20 C163.67,525.41 163.84,524.82 164.10,524.22 C164.36,523.63 164.84,523.12 165.09,522.64 C165.33,522.16 165.35,521.69 165.56,521.32 C165.76,520.95 165.90,520.62 166.31,520.40 C166.72,520.18 167.44,520.00 168.00,520.00 Z" fill="#e8d020"/>
<path d="M168.00,520.50 C168.53,520.50 169.20,520.67 169.58,520.87 C169.97,521.08 170.10,521.39 170.29,521.74 C170.48,522.09 170.50,522.53 170.73,522.98 C170.96,523.43 171.41,523.91 171.65,524.47 C171.89,525.03 172.06,525.58 172.18,526.33 C172.30,527.07 172.39,528.08 172.40,528.93 C172.41,529.78 172.52,530.78 172.22,531.41 C171.93,532.04 171.34,532.47 170.64,532.71 C169.94,532.96 168.88,532.90 168.00,532.90 C167.12,532.90 166.06,532.96 165.36,532.71 C164.66,532.47 164.07,532.04 163.78,531.41 C163.48,530.78 163.59,529.78 163.60,528.93 C163.61,528.08 163.70,527.07 163.82,526.33 C163.94,525.58 164.11,525.03 164.35,524.47 C164.59,523.91 165.04,523.43 165.27,522.98 C165.50,522.53 165.52,522.09 165.71,521.74 C165.90,521.39 166.03,521.08 166.42,520.87 C166.80,520.67 167.47,520.50 168.00,520.50 Z" fill="#e01010"/>
<rect x="195.5" y="517" width="47.0" height="30" fill="url(#pbg2)"/>
<rect x="196.5" y="519.0" width="45.0" height="5.8" fill="#2e2e2e"/>
<rect x="196.5" y="518.0" width="45.0" height="1.0" fill="#7a7a7a"/>
<rect x="201.85" y="520.0" width="1.3" height="4.2" fill="#dcdcdc"/>
<rect x="210.15" y="520.0" width="1.3" height="4.2" fill="#dcdcdc"/>
<rect x="218.45" y="520.0" width="1.3" height="4.2" fill="#dcdcdc"/>
<rect x="195.85" y="517.35" width="46.3" height="29.3" fill="none" stroke="#1c1c1c" stroke-width="0.7"/>
<path d="M225.10000000000002,535.6 L226.5,535.6 L226.45000000000002,546.2 L225.75000000000003,546.2 Z" fill="#9c9c9c"/>
<path d="M225.80,518.60 C226.26,518.60 226.84,518.83 227.17,519.12 C227.50,519.42 227.61,519.85 227.78,520.35 C227.94,520.85 227.96,521.46 228.16,522.10 C228.35,522.74 228.75,523.41 228.95,524.20 C229.16,524.99 229.30,525.78 229.41,526.83 C229.52,527.88 229.59,529.30 229.60,530.50 C229.61,531.70 229.70,533.11 229.45,534.00 C229.19,534.89 228.69,535.49 228.08,535.84 C227.47,536.19 226.56,536.10 225.80,536.10 C225.04,536.10 224.13,536.19 223.52,535.84 C222.91,535.49 222.41,534.89 222.15,534.00 C221.90,533.11 221.99,531.70 222.00,530.50 C222.01,529.30 222.08,527.88 222.19,526.83 C222.30,525.78 222.44,524.99 222.65,524.20 C222.86,523.41 223.25,522.74 223.44,522.10 C223.64,521.46 223.66,520.85 223.82,520.35 C223.99,519.85 224.10,519.42 224.43,519.12 C224.76,518.83 225.34,518.60 225.80,518.60 Z" fill="url(#mg)" filter="url(#soft)"/>
<ellipse cx="223.5" cy="527.1" rx="1.6" ry="1.4400000000000002" fill="#3d2fb0" opacity="0.9"/><ellipse cx="223.5" cy="527.1" rx="0.7200000000000001" ry="0.6400000000000001" fill="#4a8fe0" opacity="0.9"/>
<ellipse cx="223.5" cy="527.1" rx="0.7" ry="0.63" fill="#e01010"/>
<path d="M235.4,535.6 L236.79999999999998,535.6 L236.75,546.2 L236.05,546.2 Z" fill="#9c9c9c"/>
<path d="M236.10,518.60 C236.52,518.60 237.06,518.83 237.36,519.12 C237.66,519.42 237.77,519.85 237.92,520.35 C238.07,520.85 238.09,521.46 238.27,522.10 C238.45,522.74 238.81,523.41 239.00,524.20 C239.20,524.99 239.33,525.78 239.42,526.83 C239.52,527.88 239.59,529.30 239.60,530.50 C239.61,531.70 239.69,533.11 239.46,534.00 C239.23,534.89 238.76,535.49 238.20,535.84 C237.64,536.19 236.80,536.10 236.10,536.10 C235.40,536.10 234.56,536.19 234.00,535.84 C233.44,535.49 232.97,534.89 232.74,534.00 C232.51,533.11 232.59,531.70 232.60,530.50 C232.61,529.30 232.68,527.88 232.78,526.83 C232.87,525.78 233.00,524.99 233.19,524.20 C233.39,523.41 233.75,522.74 233.93,522.10 C234.11,521.46 234.13,520.85 234.28,520.35 C234.43,519.85 234.54,519.42 234.84,519.12 C235.14,518.83 235.68,518.60 236.10,518.60 Z" fill="url(#mg)" filter="url(#soft)"/>
<rect x="195.5" y="517" width="47.0" height="30" filter="url(#mtex)" opacity="0.22"/>
<rect x="244.5" y="517" width="37.69999999999999" height="30" fill="url(#pbg)"/>
<rect x="244.85" y="517.35" width="36.999999999999986" height="29.3" fill="none" stroke="#1c1c1c" stroke-width="0.7"/>
<path d="M251.8,532.6 L253.2,532.6 L253.15,546.2 L252.45000000000002,546.2 Z" fill="#9c9c9c"/>
<path d="M252.50,519.60 C253.09,519.60 253.84,519.78 254.26,520.00 C254.69,520.23 254.84,520.57 255.05,520.95 C255.26,521.33 255.28,521.81 255.54,522.30 C255.79,522.80 256.30,523.31 256.57,523.92 C256.84,524.53 257.02,525.14 257.15,525.95 C257.29,526.75 257.39,527.86 257.40,528.78 C257.41,529.70 257.53,530.79 257.20,531.48 C256.88,532.17 256.22,532.63 255.44,532.90 C254.66,533.17 253.48,533.10 252.50,533.10 C251.52,533.10 250.34,533.17 249.56,532.90 C248.78,532.63 248.12,532.17 247.80,531.48 C247.47,530.79 247.59,529.70 247.60,528.78 C247.61,527.86 247.71,526.75 247.84,525.95 C247.98,525.14 248.16,524.53 248.43,523.92 C248.70,523.31 249.21,522.80 249.46,522.30 C249.72,521.81 249.74,521.33 249.95,520.95 C250.16,520.57 250.31,520.23 250.74,520.00 C251.16,519.78 251.91,519.60 252.50,519.60 Z" fill="url(#mg)" filter="url(#soft)"/>
<path d="M262.6,532.6 L264.0,532.6 L263.95000000000005,546.2 L263.25,546.2 Z" fill="#9c9c9c"/>
<path d="M263.30,519.60 C263.89,519.60 264.64,519.78 265.06,520.00 C265.49,520.23 265.64,520.57 265.85,520.95 C266.06,521.33 266.08,521.81 266.34,522.30 C266.59,522.80 267.10,523.31 267.37,523.92 C267.64,524.53 267.82,525.14 267.95,525.95 C268.09,526.75 268.19,527.86 268.20,528.78 C268.21,529.70 268.33,530.79 268.00,531.48 C267.68,532.17 267.02,532.63 266.24,532.90 C265.46,533.17 264.28,533.10 263.30,533.10 C262.32,533.10 261.14,533.17 260.36,532.90 C259.58,532.63 258.92,532.17 258.60,531.48 C258.27,530.79 258.39,529.70 258.40,528.78 C258.41,527.86 258.51,526.75 258.65,525.95 C258.78,525.14 258.96,524.53 259.23,523.92 C259.50,523.31 260.01,522.80 260.26,522.30 C260.52,521.81 260.54,521.33 260.75,520.95 C260.96,520.57 261.11,520.23 261.54,520.00 C261.96,519.78 262.71,519.60 263.30,519.60 Z" fill="url(#mg)" filter="url(#soft)"/>
<path d="M273.6,532.6 L275.0,532.6 L274.95000000000005,546.2 L274.25,546.2 Z" fill="#9c9c9c"/>
<path d="M274.30,519.60 C274.89,519.60 275.64,519.78 276.06,520.00 C276.49,520.23 276.64,520.57 276.85,520.95 C277.06,521.33 277.08,521.81 277.34,522.30 C277.59,522.80 278.10,523.31 278.37,523.92 C278.64,524.53 278.82,525.14 278.95,525.95 C279.09,526.75 279.19,527.86 279.20,528.78 C279.21,529.70 279.33,530.79 279.00,531.48 C278.68,532.17 278.02,532.63 277.24,532.90 C276.46,533.17 275.28,533.10 274.30,533.10 C273.32,533.10 272.14,533.17 271.36,532.90 C270.58,532.63 269.92,532.17 269.60,531.48 C269.27,530.79 269.39,529.70 269.40,528.78 C269.41,527.86 269.51,526.75 269.65,525.95 C269.78,525.14 269.96,524.53 270.23,523.92 C270.50,523.31 271.01,522.80 271.26,522.30 C271.52,521.81 271.54,521.33 271.75,520.95 C271.96,520.57 272.11,520.23 272.54,520.00 C272.96,519.78 273.71,519.60 274.30,519.60 Z" fill="url(#mg)" filter="url(#soft)"/>
<rect x="244.5" y="517" width="37.69999999999999" height="30" filter="url(#mtex)" opacity="0.22"/>
<rect x="244.2" y="549.2" width="38.0" height="33.59999999999991" fill="url(#pbg)"/>
<rect x="244.54999999999998" y="549.5500000000001" width="37.3" height="32.899999999999906" fill="none" stroke="#1c1c1c" stroke-width="0.7"/>
<path d="M249.70000000000002,567.0 L251.1,567.0 L251.05,582.0 L250.35000000000002,582.0 Z" fill="#9c9c9c"/>
<path d="M250.40,552.30 C251.02,552.30 251.82,552.50 252.27,552.76 C252.72,553.01 252.88,553.39 253.10,553.82 C253.33,554.25 253.36,554.78 253.62,555.34 C253.89,555.90 254.43,556.48 254.72,557.16 C255.00,557.85 255.19,558.53 255.34,559.44 C255.49,560.36 255.59,561.60 255.60,562.64 C255.61,563.67 255.74,564.90 255.39,565.68 C255.05,566.45 254.35,566.97 253.52,567.27 C252.69,567.58 251.44,567.50 250.40,567.50 C249.36,567.50 248.11,567.58 247.28,567.27 C246.45,566.97 245.75,566.45 245.41,565.68 C245.06,564.90 245.19,563.67 245.20,562.64 C245.21,561.60 245.31,560.36 245.46,559.44 C245.61,558.53 245.80,557.85 246.08,557.16 C246.37,556.48 246.91,555.90 247.18,555.34 C247.44,554.78 247.47,554.25 247.70,553.82 C247.92,553.39 248.08,553.01 248.53,552.76 C248.98,552.50 249.78,552.30 250.40,552.30 Z" fill="url(#mg)" filter="url(#soft)"/>
<path d="M261.8,567.0 L263.2,567.0 L263.15000000000003,582.0 L262.45,582.0 Z" fill="#9c9c9c"/>
<path d="M262.50,552.30 C263.12,552.30 263.92,552.50 264.37,552.76 C264.82,553.01 264.98,553.39 265.20,553.82 C265.43,554.25 265.46,554.78 265.72,555.34 C265.99,555.90 266.53,556.48 266.82,557.16 C267.10,557.85 267.29,558.53 267.44,559.44 C267.59,560.36 267.69,561.60 267.70,562.64 C267.71,563.67 267.84,564.90 267.49,565.68 C267.15,566.45 266.45,566.97 265.62,567.27 C264.79,567.58 263.54,567.50 262.50,567.50 C261.46,567.50 260.21,567.58 259.38,567.27 C258.55,566.97 257.85,566.45 257.51,565.68 C257.16,564.90 257.29,563.67 257.30,562.64 C257.31,561.60 257.41,560.36 257.56,559.44 C257.71,558.53 257.90,557.85 258.18,557.16 C258.47,556.48 259.01,555.90 259.28,555.34 C259.54,554.78 259.57,554.25 259.80,553.82 C260.02,553.39 260.18,553.01 260.63,552.76 C261.08,552.50 261.88,552.30 262.50,552.30 Z" fill="url(#mg)" filter="url(#soft)"/>
<rect x="244.2" y="549.2" width="38.0" height="33.59999999999991" filter="url(#mtex)" opacity="0.22"/>
<rect x="273.7" y="551.6" width="1.2" height="2.6" fill="#d0d0d0"/>
<rect x="285.9" y="323.8" width="7.5" height="211.7" fill="url(#cbar)"/>
<line x1="293.4" y1="335.5" x2="294.7" y2="335.5" stroke="#555" stroke-width="0.4"/>
<line x1="293.4" y1="347.2" x2="294.7" y2="347.2" stroke="#555" stroke-width="0.4"/>
<line x1="293.4" y1="358.9" x2="294.7" y2="358.9" stroke="#555" stroke-width="0.4"/>
<line x1="293.4" y1="370.6" x2="294.7" y2="370.6" stroke="#555" stroke-width="0.4"/>
<line x1="293.4" y1="382.3" x2="294.7" y2="382.3" stroke="#555" stroke-width="0.4"/>
<line x1="293.4" y1="394.0" x2="294.7" y2="394.0" stroke="#555" stroke-width="0.4"/>
<line x1="293.4" y1="405.7" x2="294.7" y2="405.7" stroke="#555" stroke-width="0.4"/>
<line x1="293.4" y1="417.4" x2="294.7" y2="417.4" stroke="#555" stroke-width="0.4"/>
<line x1="293.4" y1="429.1" x2="294.7" y2="429.1" stroke="#555" stroke-width="0.4"/>
<line x1="293.4" y1="440.8" x2="294.7" y2="440.8" stroke="#555" stroke-width="0.4"/>
<line x1="293.4" y1="452.5" x2="294.7" y2="452.5" stroke="#555" stroke-width="0.4"/>
<line x1="293.4" y1="464.2" x2="294.7" y2="464.2" stroke="#555" stroke-width="0.4"/>
<line x1="293.4" y1="475.9" x2="294.7" y2="475.9" stroke="#555" stroke-width="0.4"/>
<line x1="293.4" y1="487.6" x2="294.7" y2="487.6" stroke="#555" stroke-width="0.4"/>
<line x1="293.4" y1="499.29999999999995" x2="294.7" y2="499.29999999999995" stroke="#555" stroke-width="0.4"/>
<line x1="293.4" y1="511.0" x2="294.7" y2="511.0" stroke="#555" stroke-width="0.4"/>
<line x1="293.4" y1="522.7" x2="294.7" y2="522.7" stroke="#555" stroke-width="0.4"/>
<line x1="293.4" y1="324.4" x2="295.9" y2="324.4" stroke="#333" stroke-width="0.5"/>
<text transform="translate(300.6,326.5) scale(0.8929,1)" font-size="6.608" text-anchor="start" font-weight="normal" fill="#231f20" >80000</text>
<line x1="293.4" y1="382.9" x2="295.9" y2="382.9" stroke="#333" stroke-width="0.5"/>
<text transform="translate(300.6,385.0) scale(0.8929,1)" font-size="6.608" text-anchor="start" font-weight="normal" fill="#231f20" >60000</text>
<line x1="293.4" y1="441.4" x2="295.9" y2="441.4" stroke="#333" stroke-width="0.5"/>
<text transform="translate(300.6,443.5) scale(0.8929,1)" font-size="6.608" text-anchor="start" font-weight="normal" fill="#231f20" >40000</text>
<line x1="293.4" y1="499.9" x2="295.9" y2="499.9" stroke="#333" stroke-width="0.5"/>
<text transform="translate(300.6,502.0) scale(0.8929,1)" font-size="6.608" text-anchor="start" font-weight="normal" fill="#231f20" >20000</text>
<text transform="translate(285.6,543.8) scale(0.8929,1)" font-size="6.72" text-anchor="start" font-weight="normal" fill="#231f20" >Radiance</text>
<text transform="translate(285.6,551.6) scale(0.8929,1)" font-size="6.944" text-anchor="start" font-weight="normal" fill="#231f20" >(p/sec/cm /sr)</text>
<rect x="285.7" y="555.0" width="41.0" height="25.8" fill="none" stroke="#111" stroke-width="0.85"/>
<text transform="translate(288.0,562.3) scale(0.8929,1)" font-size="6.944" text-anchor="start" font-weight="normal" fill="#231f20" >Color Scale</text>
<text transform="translate(288.0,569.7) scale(0.8929,1)" font-size="6.944" text-anchor="start" font-weight="normal" fill="#231f20" >Min= 8.00e3</text>
<text transform="translate(288.0,577.0) scale(0.8929,1)" font-size="6.944" text-anchor="start" font-weight="normal" fill="#231f20" >Max=8.00e4</text>
<text transform="translate(344.3,314.0) scale(0.85,1)" font-size="13.6" font-weight="bold" fill="#000" style="stroke:#000;stroke-width:0.5px">F</text>
<line x1="382.2" y1="306.3" x2="388.7" y2="306.3" stroke="#72bb4e" stroke-width="0.9"/>
<circle cx="385.45" cy="306.3" r="1.2" fill="#72bb4e"/>
<text transform="translate(392.9,308.40000000000003) scale(0.8929,1)" font-size="7.056" text-anchor="start" font-weight="normal" fill="#231f20" >Raji alone</text>
<line x1="382.2" y1="313.42" x2="388.7" y2="313.42" stroke="#2f4d92" stroke-width="0.9" stroke-dasharray="1.2,0.9"/>
<path d="M384.15,314.02000000000004 L385.45,312.12 L386.75,314.02000000000004 Z" fill="#2f4d92"/>
<text transform="translate(392.9,315.52000000000004) scale(0.8929,1)" font-size="7.056" text-anchor="start" font-weight="normal" fill="#231f20" >Raji+CAR19/IL-15 CTRL 3x10<tspan font-size="3.6" dy="-2.4">6</tspan></text>
<line x1="382.2" y1="320.54" x2="388.7" y2="320.54" stroke="#2f4d92" stroke-width="0.9"/>
<rect x="384.25" y="319.34000000000003" width="2.4" height="2.4" fill="#2f4d92"/>
<text transform="translate(392.9,322.64000000000004) scale(0.8929,1)" font-size="7.056" text-anchor="start" font-weight="normal" fill="#231f20" >Raji+CAR19/IL-15 CISH KO 3x10<tspan font-size="3.6" dy="-2.4">6</tspan></text>
<line x1="382.2" y1="327.66" x2="388.7" y2="327.66" stroke="#c21d3c" stroke-width="0.9" stroke-dasharray="1.2,0.9"/>
<path d="M384.15,328.26000000000005 L385.45,326.36 L386.75,328.26000000000005 Z" fill="#c21d3c"/>
<text transform="translate(392.9,329.76000000000005) scale(0.8929,1)" font-size="7.056" text-anchor="start" font-weight="normal" fill="#231f20" >Raji+CAR19/IL-15 CTRL 10x10<tspan font-size="3.6" dy="-2.4">6</tspan></text>
<line x1="382.2" y1="334.78000000000003" x2="388.7" y2="334.78000000000003" stroke="#c21d3c" stroke-width="0.9"/>
<rect x="384.25" y="333.58000000000004" width="2.4" height="2.4" fill="#c21d3c"/>
<text transform="translate(392.9,336.88000000000005) scale(0.8929,1)" font-size="7.056" text-anchor="start" font-weight="normal" fill="#231f20" >Raji+CAR19/IL-15 CISH KO 10x10<tspan font-size="3.6" dy="-2.4">6</tspan></text>
<line x1="384.6" y1="414.5" x2="489.5" y2="414.5" stroke="#1a1a1a" stroke-width="1.25"/>
<line x1="384.6" y1="415.125" x2="384.6" y2="343.5" stroke="#1a1a1a" stroke-width="1.25"/>
<line x1="382.0" y1="345.62" x2="384.6" y2="345.62" stroke="#1a1a1a" stroke-width="0.9"/>
<text transform="translate(378.2,347.77) scale(0.8929,1)" font-size="7.056" text-anchor="end" font-weight="normal" fill="#231f20" >200000</text>
<line x1="382.0" y1="362.84000000000003" x2="384.6" y2="362.84000000000003" stroke="#1a1a1a" stroke-width="0.9"/>
<text transform="translate(378.2,364.99) scale(0.8929,1)" font-size="7.056" text-anchor="end" font-weight="normal" fill="#231f20" >150000</text>
<line x1="382.0" y1="380.06" x2="384.6" y2="380.06" stroke="#1a1a1a" stroke-width="0.9"/>
<text transform="translate(378.2,382.21) scale(0.8929,1)" font-size="7.056" text-anchor="end" font-weight="normal" fill="#231f20" >100000</text>
<line x1="382.0" y1="397.28" x2="384.6" y2="397.28" stroke="#1a1a1a" stroke-width="0.9"/>
<text transform="translate(378.2,399.42999999999995) scale(0.8929,1)" font-size="7.056" text-anchor="end" font-weight="normal" fill="#231f20" >50000</text>
<line x1="382.0" y1="414.5" x2="384.6" y2="414.5" stroke="#1a1a1a" stroke-width="0.9"/>
<line x1="384.6" y1="414.5" x2="384.6" y2="417.5" stroke="#1a1a1a" stroke-width="0.9"/>
<text transform="translate(384.6,427.4) scale(0.8929,1)" font-size="6.944" text-anchor="middle" font-weight="normal" fill="#231f20" >0</text>
<line x1="404.75" y1="414.5" x2="404.75" y2="417.5" stroke="#1a1a1a" stroke-width="0.9"/>
<text transform="translate(404.75,427.4) scale(0.8929,1)" font-size="6.944" text-anchor="middle" font-weight="normal" fill="#231f20" >10</text>
<line x1="424.90000000000003" y1="414.5" x2="424.90000000000003" y2="417.5" stroke="#1a1a1a" stroke-width="0.9"/>
<text transform="translate(424.90000000000003,427.4) scale(0.8929,1)" font-size="6.944" text-anchor="middle" font-weight="normal" fill="#231f20" >20</text>
<line x1="445.05" y1="414.5" x2="445.05" y2="417.5" stroke="#1a1a1a" stroke-width="0.9"/>
<text transform="translate(445.05,427.4) scale(0.8929,1)" font-size="6.944" text-anchor="middle" font-weight="normal" fill="#231f20" >30</text>
<line x1="465.20000000000005" y1="414.5" x2="465.20000000000005" y2="417.5" stroke="#1a1a1a" stroke-width="0.9"/>
<text transform="translate(465.20000000000005,427.4) scale(0.8929,1)" font-size="6.944" text-anchor="middle" font-weight="normal" fill="#231f20" >40</text>
<line x1="485.35" y1="414.5" x2="485.35" y2="417.5" stroke="#1a1a1a" stroke-width="0.9"/>
<text transform="translate(485.35,427.4) scale(0.8929,1)" font-size="6.944" text-anchor="middle" font-weight="normal" fill="#231f20" >50</text>
<polyline points="384.60,414.50 476.28,414.50" fill="none" stroke="#c21d3c" stroke-width="1.5" stroke-linejoin="miter"/>
<line x1="447.07" y1="408.3008" x2="447.07" y2="411.056" stroke="#c21d3c" stroke-width="0.7"/>
<line x1="445.77" y1="408.3008" x2="448.37" y2="408.3008" stroke="#c21d3c" stroke-width="0.7"/>
<line x1="445.77" y1="411.056" x2="448.37" y2="411.056" stroke="#c21d3c" stroke-width="0.7"/>
<line x1="461.17" y1="394.5248" x2="461.17" y2="399.6908" stroke="#c21d3c" stroke-width="0.7"/>
<line x1="459.87" y1="394.5248" x2="462.47" y2="394.5248" stroke="#c21d3c" stroke-width="0.7"/>
<line x1="459.87" y1="399.6908" x2="462.47" y2="399.6908" stroke="#c21d3c" stroke-width="0.7"/>
<line x1="476.28" y1="391.0808" x2="476.28" y2="396.5912" stroke="#c21d3c" stroke-width="0.7"/>
<line x1="474.98" y1="391.0808" x2="477.58" y2="391.0808" stroke="#c21d3c" stroke-width="0.7"/>
<line x1="474.98" y1="396.5912" x2="477.58" y2="396.5912" stroke="#c21d3c" stroke-width="0.7"/>
<polyline points="432.96,414.50 447.07,409.68 461.17,397.28 476.28,393.84" fill="none" stroke="#c21d3c" stroke-width="1.2" stroke-dasharray="1.5,1.0" stroke-linejoin="miter"/>
<path d="M431.88,415.22 L432.96,413.42 L434.04,415.22 Z" fill="#c21d3c"/>
<path d="M445.99,410.40 L447.07,408.60 L448.15,410.40 Z" fill="#c21d3c"/>
<path d="M460.09,398.00 L461.17,396.20 L462.25,398.00 Z" fill="#c21d3c"/>
<path d="M475.20,394.56 L476.28,392.76 L477.36,394.56 Z" fill="#c21d3c"/>
<line x1="447.07" y1="410.3672" x2="447.07" y2="413.1224" stroke="#2f4d92" stroke-width="0.7"/>
<line x1="445.77" y1="410.3672" x2="448.37" y2="410.3672" stroke="#2f4d92" stroke-width="0.7"/>
<line x1="445.77" y1="413.1224" x2="448.37" y2="413.1224" stroke="#2f4d92" stroke-width="0.7"/>
<line x1="461.17" y1="404.8568" x2="461.17" y2="407.612" stroke="#2f4d92" stroke-width="0.7"/>
<line x1="459.87" y1="404.8568" x2="462.47" y2="404.8568" stroke="#2f4d92" stroke-width="0.7"/>
<line x1="459.87" y1="407.612" x2="462.47" y2="407.612" stroke="#2f4d92" stroke-width="0.7"/>
<line x1="476.28" y1="374.5496" x2="476.28" y2="380.06" stroke="#2f4d92" stroke-width="0.7"/>
<line x1="474.98" y1="374.5496" x2="477.58" y2="374.5496" stroke="#2f4d92" stroke-width="0.7"/>
<line x1="474.98" y1="380.06" x2="477.58" y2="380.06" stroke="#2f4d92" stroke-width="0.7"/>
<polyline points="418.86,414.50 432.96,413.81 447.07,411.74 461.17,406.23 476.28,377.30" fill="none" stroke="#2f4d92" stroke-width="1.2" stroke-linejoin="miter"/>
<rect x="417.96" y="413.6" width="1.8" height="1.8" fill="#2f4d92"/>
<rect x="432.06" y="412.9112" width="1.8" height="1.8" fill="#2f4d92"/>
<rect x="446.17" y="410.8448" width="1.8" height="1.8" fill="#2f4d92"/>
<rect x="460.27" y="405.3344" width="1.8" height="1.8" fill="#2f4d92"/>
<rect x="475.38" y="376.4048" width="1.8" height="1.8" fill="#2f4d92"/>
<line x1="432.96" y1="397.9688" x2="432.96" y2="411.7448" stroke="#2f4d92" stroke-width="0.7"/>
<line x1="431.66" y1="397.9688" x2="434.26" y2="397.9688" stroke="#2f4d92" stroke-width="0.7"/>
<line x1="431.66" y1="411.7448" x2="434.26" y2="411.7448" stroke="#2f4d92" stroke-width="0.7"/>
<polyline points="418.86,414.50 432.96,404.86" fill="none" stroke="#2f4d92" stroke-width="1.2" stroke-dasharray="1.5,1.0" stroke-linejoin="miter"/>
<path d="M431.88,405.58 L432.96,403.78 L434.04,405.58 Z" fill="#2f4d92"/>
<line x1="432.96" y1="356.6408" x2="432.96" y2="376.616" stroke="#72bb4e" stroke-width="0.7"/>
<line x1="431.66" y1="356.6408" x2="434.26" y2="356.6408" stroke="#72bb4e" stroke-width="0.7"/>
<line x1="431.66" y1="376.616" x2="434.26" y2="376.616" stroke="#72bb4e" stroke-width="0.7"/>
<polyline points="384.60,414.50 404.75,414.50 418.86,414.50 432.96,367.32" fill="none" stroke="#72bb4e" stroke-width="1.5" stroke-linejoin="miter"/>
<circle cx="384.60" cy="414.5" r="0.9" fill="#72bb4e"/>
<circle cx="404.75" cy="414.5" r="0.9" fill="#72bb4e"/>
<circle cx="418.86" cy="414.5" r="0.9" fill="#72bb4e"/>
<circle cx="432.96" cy="367.3172" r="0.9" fill="#72bb4e"/>
<text transform="translate(476.7,389.5) scale(0.8929,1)" font-size="7.28" text-anchor="middle" font-weight="normal" fill="#231f20" >**</text>
<text transform="translate(351.8,378.7) rotate(-90) scale(0.8152,1)" font-size="8.624" text-anchor="middle" fill="#231f20">Avg radiance (p/s/cm2sr)</text>
<text transform="translate(437.1,440.0) scale(0.7973,1)" font-size="8.624" text-anchor="middle" font-weight="normal" fill="#231f20" >Time post-infusion (days)</text>
<text transform="translate(343.7,472.29999999999995) scale(1.0,1)" font-size="13.6" font-weight="bold" fill="#000" style="stroke:#000;stroke-width:0.5px">G</text>
<line x1="390.0" y1="463.6" x2="396.5" y2="463.6" stroke="#72bb4e" stroke-width="0.9"/>
<circle cx="393.25" cy="463.6" r="1.2" fill="#72bb4e"/>
<text transform="translate(400.6,465.70000000000005) scale(0.8929,1)" font-size="7.056" text-anchor="start" font-weight="normal" fill="#231f20" >Raji alone</text>
<line x1="390.0" y1="470.72" x2="396.5" y2="470.72" stroke="#2f4d92" stroke-width="0.9" stroke-dasharray="1.2,0.9"/>
<path d="M391.95,471.32000000000005 L393.25,469.42 L394.55,471.32000000000005 Z" fill="#2f4d92"/>
<text transform="translate(400.6,472.82000000000005) scale(0.8929,1)" font-size="7.056" text-anchor="start" font-weight="normal" fill="#231f20" >Raji+CAR19/IL-15 CTRL 3x10<tspan font-size="3.6" dy="-2.4">6</tspan></text>
<line x1="390.0" y1="477.84000000000003" x2="396.5" y2="477.84000000000003" stroke="#2f4d92" stroke-width="0.9"/>
<rect x="392.05" y="476.64000000000004" width="2.4" height="2.4" fill="#2f4d92"/>
<text transform="translate(400.6,479.94000000000005) scale(0.8929,1)" font-size="7.056" text-anchor="start" font-weight="normal" fill="#231f20" >Raji+CAR19/IL-15 CISH KO 3x10<tspan font-size="3.6" dy="-2.4">6</tspan></text>
<line x1="390.0" y1="484.96000000000004" x2="396.5" y2="484.96000000000004" stroke="#c21d3c" stroke-width="0.9" stroke-dasharray="1.2,0.9"/>
<path d="M391.95,485.56000000000006 L393.25,483.66 L394.55,485.56000000000006 Z" fill="#c21d3c"/>
<text transform="translate(400.6,487.06000000000006) scale(0.8929,1)" font-size="7.056" text-anchor="start" font-weight="normal" fill="#231f20" >Raji+CAR19/IL-15 CTRL 10x10<tspan font-size="3.6" dy="-2.4">6</tspan></text>
<line x1="390.0" y1="492.08000000000004" x2="396.5" y2="492.08000000000004" stroke="#c21d3c" stroke-width="0.9"/>
<rect x="392.05" y="490.88000000000005" width="2.4" height="2.4" fill="#c21d3c"/>
<text transform="translate(400.6,494.18000000000006) scale(0.8929,1)" font-size="7.056" text-anchor="start" font-weight="normal" fill="#231f20" >Raji+CAR19/IL-15 CISH KO 10x10<tspan font-size="3.6" dy="-2.4">6</tspan></text>
<line x1="385.5" y1="565.8" x2="456.6" y2="565.8" stroke="#1a1a1a" stroke-width="1.15"/>
<line x1="460.6" y1="565.8" x2="502" y2="565.8" stroke="#1a1a1a" stroke-width="1.15"/>
<line x1="385.5" y1="566.37" x2="385.5" y2="500.5" stroke="#1a1a1a" stroke-width="1.15"/>
<line x1="456.0" y1="561.8" x2="456.0" y2="569.3" stroke="#1a1a1a" stroke-width="0.8"/>
<line x1="460.9" y1="561.8" x2="460.9" y2="569.3" stroke="#1a1a1a" stroke-width="0.8"/>
<line x1="381.5" y1="503.04999999999995" x2="385.5" y2="503.04999999999995" stroke="#1a1a1a" stroke-width="0.9"/>
<text transform="translate(377.9,505.19999999999993) scale(0.8929,1)" font-size="6.832" text-anchor="end" font-weight="normal" fill="#231f20" >100</text>
<line x1="381.5" y1="534.425" x2="385.5" y2="534.425" stroke="#1a1a1a" stroke-width="0.9"/>
<text transform="translate(377.9,536.5749999999999) scale(0.8929,1)" font-size="6.832" text-anchor="end" font-weight="normal" fill="#231f20" >50</text>
<line x1="381.5" y1="565.8" x2="385.5" y2="565.8" stroke="#1a1a1a" stroke-width="0.9"/>
<text transform="translate(377.9,567.9499999999999) scale(0.8929,1)" font-size="6.832" text-anchor="end" font-weight="normal" fill="#231f20" >0</text>
<line x1="385.5" y1="565.8" x2="385.5" y2="568.8" stroke="#1a1a1a" stroke-width="0.9"/>
<text transform="translate(385.5,578.75) scale(0.8929,1)" font-size="6.832" text-anchor="middle" font-weight="normal" fill="#231f20" >0</text>
<line x1="404.45" y1="565.8" x2="404.45" y2="568.8" stroke="#1a1a1a" stroke-width="0.9"/>
<text transform="translate(404.45,578.75) scale(0.8929,1)" font-size="6.832" text-anchor="middle" font-weight="normal" fill="#231f20" >20</text>
<line x1="423.4" y1="565.8" x2="423.4" y2="568.8" stroke="#1a1a1a" stroke-width="0.9"/>
<text transform="translate(423.4,578.75) scale(0.8929,1)" font-size="6.832" text-anchor="middle" font-weight="normal" fill="#231f20" >40</text>
<line x1="442.35" y1="565.8" x2="442.35" y2="568.8" stroke="#1a1a1a" stroke-width="0.9"/>
<text transform="translate(442.35,578.75) scale(0.8929,1)" font-size="6.832" text-anchor="middle" font-weight="normal" fill="#231f20" >60</text>
<line x1="462.5" y1="565.8" x2="462.5" y2="568.8" stroke="#1a1a1a" stroke-width="0.9"/>
<text transform="translate(462.5,578.75) scale(0.8929,1)" font-size="6.832" text-anchor="middle" font-weight="normal" fill="#231f20" >200</text>
<line x1="481.25" y1="565.8" x2="481.25" y2="568.8" stroke="#1a1a1a" stroke-width="0.9"/>
<text transform="translate(481.25,578.75) scale(0.8929,1)" font-size="6.832" text-anchor="middle" font-weight="normal" fill="#231f20" >300</text>
<line x1="500.0" y1="565.8" x2="500.0" y2="568.8" stroke="#1a1a1a" stroke-width="0.9"/>
<text transform="translate(500.0,578.75) scale(0.8929,1)" font-size="6.832" text-anchor="middle" font-weight="normal" fill="#231f20" >400</text>
<polyline points="386.10,503.40 437.99,503.40 437.99,523.76 456.20,523.76" fill="none" stroke="#c21d3c" stroke-width="1.4" stroke-linejoin="miter"/>
<polyline points="461.30,523.76 481.25,523.76" fill="none" stroke="#c21d3c" stroke-width="1.4" stroke-linejoin="miter"/>
<polyline points="386.10,503.40 416.77,503.40 416.77,528.15 427.66,528.15 427.66,540.70 432.50,540.70 432.50,553.25 450.50,553.25 450.50,565.50" fill="none" stroke="#c21d3c" stroke-width="1.3" stroke-dasharray="1.2,0.8" stroke-linejoin="miter"/>
<polyline points="386.10,503.40 418.66,503.40 418.66,553.25 432.50,553.25 432.50,565.50" fill="none" stroke="#2f4d92" stroke-width="1.4" stroke-linejoin="miter"/>
<polyline points="386.10,503.40 413.45,503.40 413.45,528.15 415.82,528.15 415.82,565.50" fill="none" stroke="#2f4d92" stroke-width="1.2" stroke-dasharray="1.0,0.8" stroke-linejoin="miter"/>
<polyline points="386.10,503.40 407.10,503.40 407.10,515.60 408.81,515.60 408.81,553.25 412.50,553.25 412.50,565.50" fill="none" stroke="#72bb4e" stroke-width="1.3" stroke-linejoin="miter"/>
<polyline points="386.10,503.40 407.29,503.40" fill="none" stroke="#72bb4e" stroke-width="1.2" stroke-linejoin="miter"/>
<text transform="translate(457.5,533.5) scale(0.8929,1)" font-size="7.28" text-anchor="middle" font-weight="normal" fill="#231f20" >*</text>
<text transform="translate(425.0,553.0) scale(0.8929,1)" font-size="7.28" text-anchor="middle" font-weight="normal" fill="#231f20" >**</text>
<text transform="translate(361.9,532.9) rotate(-90) scale(0.7821,1)" font-size="8.624" text-anchor="middle" fill="#231f20">Percent survival</text>
<text transform="translate(444.8,591.3) scale(0.7411,1)" font-size="8.96" text-anchor="middle" font-weight="normal" fill="#231f20" >Time (days)</text>
<text transform="translate(8.6,622.6999999999999) scale(0.95,1)" font-size="13.6" font-weight="bold" fill="#000" style="stroke:#000;stroke-width:0.5px">H</text>
<text transform="translate(56.4,620.8) scale(0.8929,1)" font-size="7.056" text-anchor="middle" font-weight="normal" fill="#231f20" >Raji</text>
<text transform="translate(92.6,616.6) scale(0.8929,1)" font-size="7.056" text-anchor="middle" font-weight="normal" fill="#231f20" >CAR19/IL-15</text>
<text transform="translate(92.6,624.2) scale(0.8929,1)" font-size="7.056" text-anchor="middle" font-weight="normal" fill="#231f20" >CTRL</text>
<text transform="translate(132.7,616.6) scale(0.8929,1)" font-size="7.056" text-anchor="middle" font-weight="normal" fill="#231f20" >CAR19/IL-15</text>
<text transform="translate(132.7,624.2) scale(0.8929,1)" font-size="7.056" text-anchor="middle" font-weight="normal" fill="#231f20" >CISH KO</text>
<text transform="translate(151.7,646.4) scale(0.8929,1)" font-size="7.392" text-anchor="start" font-weight="normal" fill="#231f20" >H&amp;E</text>
<text transform="translate(151.7,678.2) scale(0.8929,1)" font-size="7.392" text-anchor="start" font-weight="normal" fill="#231f20" >CD20</text>
<text transform="translate(151.7,710.7) scale(0.8929,1)" font-size="7.392" text-anchor="start" font-weight="normal" fill="#231f20" >H&amp;E</text>
<text transform="translate(151.7,741.4) scale(0.8929,1)" font-size="7.392" text-anchor="start" font-weight="normal" fill="#231f20" >CD20</text>
<text transform="translate(35.4,660.0) rotate(-90) scale(0.8929,1)" font-size="7.392" text-anchor="middle" fill="#231f20">Liver</text>
<text transform="translate(35.4,722.5) rotate(-90) scale(0.8929,1)" font-size="7.392" text-anchor="middle" fill="#231f20">Bone marrow</text>
<clipPath id="h1"><rect x="39" y="629.4" width="34.8" height="30.100000000000023"/></clipPath>
<g clip-path="url(#h1)">
<rect x="39" y="629.4" width="34.8" height="30.100000000000023" fill="#6f5fae"/>
<rect x="39" y="629.4" width="34.8" height="30.100000000000023" filter="url(#speckP)" opacity="0.5"/>
<rect x="39" y="629.4" width="34.8" height="30.100000000000023" filter="url(#speckD)" opacity="0.25"/>
<path d="M51,649.4 C57,644.4 64,639.4 70,637.4 L71,639.4 C65,642.4 59,647.4 53,651.4 Z" fill="#e8b8d8"/><ellipse cx="61" cy="643.4" rx="9" ry="3" transform="rotate(-30 61 643.4)" fill="#c080c0" opacity="0.6"/>
<rect x="39" y="629.4" width="34.8" height="30.100000000000023" filter="url(#speckW)" opacity="0.22"/>
</g>
<clipPath id="h2"><rect x="75" y="629.4" width="35.7" height="30.100000000000023"/></clipPath>
<g clip-path="url(#h2)">
<rect x="75" y="629.4" width="35.7" height="30.100000000000023" fill="#5d4f9e"/>
<rect x="75" y="629.4" width="35.7" height="30.100000000000023" filter="url(#speckP)" opacity="0.35"/>
<rect x="75" y="629.4" width="35.7" height="30.100000000000023" filter="url(#speckD)" opacity="0.3"/>
<ellipse cx="101" cy="649.4" rx="6" ry="3.5" fill="#e0a0c8"/><ellipse cx="98" cy="649.4" rx="2.2" ry="1.6" fill="#d03070" opacity="0.8"/><line x1="92" y1="633.4" x2="93" y2="641.4" stroke="#e0b0d0" stroke-width="0.8"/>
<rect x="75" y="629.4" width="35.7" height="30.100000000000023" filter="url(#speckW)" opacity="0.18"/>
</g>
<clipPath id="h3"><rect x="111.8" y="629.4" width="35.000000000000014" height="30.100000000000023"/></clipPath>
<g clip-path="url(#h3)">
<rect x="111.8" y="629.4" width="35.000000000000014" height="30.100000000000023" fill="#ad70b4"/>
<rect x="111.8" y="629.4" width="35.000000000000014" height="30.100000000000023" filter="url(#speckP)" opacity="0.3"/>
<rect x="111.8" y="629.4" width="35.000000000000014" height="30.100000000000023" filter="url(#speckD)" opacity="0.12"/>

<rect x="111.8" y="629.4" width="35.000000000000014" height="30.100000000000023" filter="url(#speckW)" opacity="0.3"/>
</g>
<clipPath id="h4"><rect x="39" y="660.4" width="34.8" height="29.800000000000068"/></clipPath>
<g clip-path="url(#h4)">
<rect x="39" y="660.4" width="34.8" height="29.800000000000068" fill="#96562a"/>
<rect x="39" y="660.4" width="34.8" height="29.800000000000068" filter="url(#speckD)" opacity="0.55"/>
<path d="M48,684.4 C52,678.4 58,670.4 62,667.4 C63,670.4 59,677.4 52,684.4 Z" fill="#fbf6ee"/><ellipse cx="69" cy="666.4" rx="3" ry="2.5" fill="#e8d0b0" opacity="0.8"/><ellipse cx="65" cy="686.4" rx="3" ry="2" fill="#e8d0b0" opacity="0.7"/>
<rect x="39" y="660.4" width="34.8" height="29.800000000000068" filter="url(#speckW)" opacity="0.3"/>
</g>
<clipPath id="h5"><rect x="75" y="660.4" width="35.7" height="29.800000000000068"/></clipPath>
<g clip-path="url(#h5)">
<rect x="75" y="660.4" width="35.7" height="29.800000000000068" fill="#96562a"/>
<rect x="75" y="660.4" width="35.7" height="29.800000000000068" filter="url(#speckD)" opacity="0.55"/>
<path d="M75,660.4 L87,660.4 C85,664.4 84,667.4 81,669.4 C79,671.4 77,673.4 75,675.4 Z" fill="#f3e6d0"/><path d="M91,681.4 L96,679.4 L100,682.4 L97,684.4 L92,683.9 Z" fill="#fbf6ee"/><ellipse cx="108" cy="663.4" rx="4" ry="3" fill="#f0e0c8"/>
<rect x="75" y="660.4" width="35.7" height="29.800000000000068" filter="url(#speckW)" opacity="0.3"/>
</g>
<clipPath id="h6"><rect x="111.8" y="660.4" width="35.000000000000014" height="29.800000000000068"/></clipPath>
<g clip-path="url(#h6)">
<rect x="111.8" y="660.4" width="35.000000000000014" height="29.800000000000068" fill="#e9dfcf"/>

<rect x="111.8" y="660.4" width="35.000000000000014" height="29.800000000000068" filter="url(#speckW)" opacity="0.15"/>
</g>
<clipPath id="h7"><rect x="39" y="691.8" width="34.8" height="30.200000000000045"/></clipPath>
<g clip-path="url(#h7)">
<rect x="39" y="691.8" width="34.8" height="30.200000000000045" fill="#7c6cc0"/>
<rect x="39" y="691.8" width="34.8" height="30.200000000000045" filter="url(#speckP)" opacity="0.2"/>
<rect x="39" y="691.8" width="34.8" height="30.200000000000045" filter="url(#speckD)" opacity="0.15"/>
<path d="M39,703.8 L61,722.3 L53,722.3 L39,710.8 Z" fill="#c050b0"/><path d="M66,691.8 L73.8,691.8 L73.8,722.3 L68,722.3 C67,711.8 68,701.8 66,691.8 Z" fill="#c84cb0"/><path d="M39,712.8 L49,722.3 L39,722.3 Z" fill="#d8c0e0"/>
<rect x="39" y="691.8" width="34.8" height="30.200000000000045" filter="url(#speckW)" opacity="0.55"/>
</g>
<clipPath id="h8"><rect x="75" y="691.8" width="35.7" height="30.200000000000045"/></clipPath>
<g clip-path="url(#h8)">
<rect x="75" y="691.8" width="35.7" height="30.200000000000045" fill="#a58ad0"/>
<rect x="75" y="691.8" width="35.7" height="30.200000000000045" filter="url(#speckP)" opacity="0.25"/>
<rect x="75" y="691.8" width="35.7" height="30.200000000000045" filter="url(#speckD)" opacity="0.1"/>
<path d="M76,722.3 C77,713.8 81,707.8 85,704.8 C89,703.8 92,706.8 90,710.8 C88,713.8 93,717.8 97,722.3 Z" fill="#e6def0"/><path d="M106,691.8 L110.7,691.8 L110.7,722.3 L108,722.3 Z" fill="#c060b8"/><path d="M75,694.8 C80,697.8 79,703.8 75,706.8 Z" fill="#c070c0"/>
<rect x="75" y="691.8" width="35.7" height="30.200000000000045" filter="url(#speckW)" opacity="0.5"/>
</g>
<clipPath id="h9"><rect x="111.8" y="691.8" width="35.000000000000014" height="30.200000000000045"/></clipPath>
<g clip-path="url(#h9)">
<rect x="111.8" y="691.8" width="35.000000000000014" height="30.200000000000045" fill="#8a68b8"/>
<rect x="111.8" y="691.8" width="35.000000000000014" height="30.200000000000045" filter="url(#speckP)" opacity="0.2"/>
<rect x="111.8" y="691.8" width="35.000000000000014" height="30.200000000000045" filter="url(#speckD)" opacity="0.1"/>
<path d="M111.8,696.8 L124.8,722.3 L111.8,722.3 Z" fill="#f6f3f2"/><path d="M111.8,691.8 L116.8,691.8 L132.8,722.3 L124.8,722.3 L111.8,696.8 Z" fill="#c444a8"/><path d="M139.8,691.8 L146.8,691.8 L146.8,708.8 C144.8,701.8 142.8,696.8 139.8,691.8 Z" fill="#c444a8"/>
<rect x="111.8" y="691.8" width="35.000000000000014" height="30.200000000000045" filter="url(#speckW)" opacity="0.75"/>
</g>
<clipPath id="h10"><rect x="39" y="723.0" width="34.8" height="30.200000000000045"/></clipPath>
<g clip-path="url(#h10)">
<rect x="39" y="723.0" width="34.8" height="30.200000000000045" fill="#7a4018"/>
<rect x="39" y="723.0" width="34.8" height="30.200000000000045" filter="url(#speckD)" opacity="0.35"/>
<path d="M68,723.0 L70,723.0 L72,753.5 L69,753.5 Z" fill="#f4ece0"/><path d="M39,743.0 C45,747.0 49,750.0 51,753.5 L39,753.5 Z" fill="#c08048" opacity="0.9"/>
<rect x="39" y="723.0" width="34.8" height="30.200000000000045" filter="url(#speckW)" opacity="0.45"/>
</g>
<clipPath id="h11"><rect x="75" y="723.0" width="35.7" height="30.200000000000045"/></clipPath>
<g clip-path="url(#h11)">
<rect x="75" y="723.0" width="35.7" height="30.200000000000045" fill="#f5efe3"/>
<path d="M75,723.0 L87,723.0 C89,727.0 87,732.0 81,735.0 C78,736.0 75,736.0 75,736.0 Z" fill="#7a3e16"/><path d="M81,753.0 C80,747.0 84,739.0 90,736.0 C95,734.0 97,739.0 96,745.0 C94,750.0 88,753.5 81,753.0 Z" fill="#7a3e16"/>
</g>
<ellipse cx="89" cy="746.0" rx="3.5" ry="4" fill="#f8f0e0" opacity="0.6"/>
<clipPath id="h12"><rect x="111.8" y="723.0" width="35.000000000000014" height="30.200000000000045"/></clipPath>
<g clip-path="url(#h12)">
<rect x="111.8" y="723.0" width="35.000000000000014" height="30.200000000000045" fill="#f1eee8"/>
<path d="M111.8,723.0 L146.8,728.0 L146.8,753.5 L134.8,753.5 C125.8,749.0 117.8,744.0 111.8,739.0 Z" fill="#e4e0e6"/>
<rect x="111.8" y="723.0" width="35.000000000000014" height="30.200000000000045" filter="url(#speckW)" opacity="0.4"/>
</g>
<text transform="translate(186.3,622.4) scale(0.95,1)" font-size="13.6" font-weight="bold" fill="#000" style="stroke:#000;stroke-width:0.5px">I</text>
<rect x="232.9" y="612.3" width="10.1" height="4.8" fill="#2f4f94"/>
<rect x="232.9" y="619.8" width="10.1" height="4.8" fill="#b5173a"/>
<text transform="translate(247.0,616.8) scale(0.8929,1)" font-size="6.72" text-anchor="start" font-weight="normal" fill="#231f20" >CAR19/IL-15 CTRL</text>
<text transform="translate(247.0,624.3) scale(0.8929,1)" font-size="6.72" text-anchor="start" font-weight="normal" fill="#231f20" >CAR19/IL-15 CISH KO</text>
<line x1="217.1" y1="722.9" x2="326.0" y2="722.9" stroke="#1a1a1a" stroke-width="1.25"/>
<line x1="217.1" y1="723.525" x2="217.1" y2="637.5" stroke="#1a1a1a" stroke-width="1.25"/>
<line x1="213.7" y1="639.6999999999999" x2="217.1" y2="639.6999999999999" stroke="#1a1a1a" stroke-width="0.9"/>
<text transform="translate(209.6,641.8499999999999) scale(0.8929,1)" font-size="6.496" text-anchor="end" font-weight="normal" fill="#231f20" >100</text>
<line x1="213.7" y1="656.3399999999999" x2="217.1" y2="656.3399999999999" stroke="#1a1a1a" stroke-width="0.9"/>
<text transform="translate(209.6,658.4899999999999) scale(0.8929,1)" font-size="6.496" text-anchor="end" font-weight="normal" fill="#231f20" >80</text>
<line x1="213.7" y1="672.98" x2="217.1" y2="672.98" stroke="#1a1a1a" stroke-width="0.9"/>
<text transform="translate(209.6,675.13) scale(0.8929,1)" font-size="6.496" text-anchor="end" font-weight="normal" fill="#231f20" >60</text>
<line x1="213.7" y1="689.62" x2="217.1" y2="689.62" stroke="#1a1a1a" stroke-width="0.9"/>
<text transform="translate(209.6,691.77) scale(0.8929,1)" font-size="6.496" text-anchor="end" font-weight="normal" fill="#231f20" >40</text>
<line x1="213.7" y1="706.26" x2="217.1" y2="706.26" stroke="#1a1a1a" stroke-width="0.9"/>
<text transform="translate(209.6,708.41) scale(0.8929,1)" font-size="6.496" text-anchor="end" font-weight="normal" fill="#231f20" >20</text>
<line x1="213.7" y1="722.9" x2="217.1" y2="722.9" stroke="#1a1a1a" stroke-width="0.9"/>
<text transform="translate(209.6,725.05) scale(0.8929,1)" font-size="6.496" text-anchor="end" font-weight="normal" fill="#231f20" >0</text>
<line x1="224.4" y1="677.972" x2="224.4" y2="668.8199999999999" stroke="#2f4f94" stroke-width="1.1"/>
<line x1="222.70000000000002" y1="668.8199999999999" x2="226.1" y2="668.8199999999999" stroke="#2f4f94" stroke-width="1.1"/>
<line x1="234.5" y1="668.8199999999999" x2="234.5" y2="658.004" stroke="#b5173a" stroke-width="1.1"/>
<line x1="232.8" y1="658.004" x2="236.2" y2="658.004" stroke="#b5173a" stroke-width="1.1"/>
<rect x="220.9" y="677.972" width="7.0" height="44.428" fill="#2f4f94"/>
<rect x="231.0" y="668.8199999999999" width="7.0" height="53.58000000000004" fill="#b5173a"/>
<line x1="252.1" y1="701.268" x2="252.1" y2="688.788" stroke="#2f4f94" stroke-width="1.1"/>
<line x1="250.4" y1="688.788" x2="253.79999999999998" y2="688.788" stroke="#2f4f94" stroke-width="1.1"/>
<line x1="262.5" y1="672.98" x2="262.5" y2="658.836" stroke="#b5173a" stroke-width="1.1"/>
<line x1="260.8" y1="658.836" x2="264.2" y2="658.836" stroke="#b5173a" stroke-width="1.1"/>
<rect x="248.6" y="701.268" width="7.0" height="21.131999999999948" fill="#2f4f94"/>
<rect x="259.0" y="672.98" width="7.0" height="49.41999999999996" fill="#b5173a"/>
<line x1="279.8" y1="709.588" x2="279.8" y2="689.62" stroke="#2f4f94" stroke-width="1.1"/>
<line x1="278.1" y1="689.62" x2="281.5" y2="689.62" stroke="#2f4f94" stroke-width="1.1"/>
<line x1="290.1" y1="653.012" x2="290.1" y2="647.188" stroke="#b5173a" stroke-width="1.1"/>
<line x1="288.40000000000003" y1="647.188" x2="291.8" y2="647.188" stroke="#b5173a" stroke-width="1.1"/>
<rect x="276.3" y="709.588" width="7.0" height="12.812000000000012" fill="#2f4f94"/>
<rect x="286.6" y="653.012" width="7.0" height="69.38800000000003" fill="#b5173a"/>
<line x1="307.3" y1="715.412" x2="307.3" y2="704.596" stroke="#2f4f94" stroke-width="1.1"/>
<line x1="305.6" y1="704.596" x2="309.0" y2="704.596" stroke="#2f4f94" stroke-width="1.1"/>
<line x1="318.0" y1="691.284" x2="318.0" y2="677.14" stroke="#b5173a" stroke-width="1.1"/>
<line x1="316.3" y1="677.14" x2="319.7" y2="677.14" stroke="#b5173a" stroke-width="1.1"/>
<rect x="303.8" y="715.412" width="7.0" height="6.987999999999943" fill="#2f4f94"/>
<rect x="314.5" y="691.284" width="7.0" height="31.115999999999985" fill="#b5173a"/>
<polyline points="224.2,655.6 224.2,646.8 234.6,646.8 234.6,654.0" fill="none" stroke="#1a1a1a" stroke-width="0.9"/>
<text transform="translate(229.39999999999998,645.5999999999999) scale(0.8929,1)" font-size="6.944" text-anchor="middle" font-weight="normal" fill="#231f20" >*</text>
<polyline points="251.9,684.0 251.9,646.8 262.6,646.8 262.6,655.5" fill="none" stroke="#1a1a1a" stroke-width="0.9"/>
<text transform="translate(257.25,645.5999999999999) scale(0.8929,1)" font-size="6.944" text-anchor="middle" font-weight="normal" fill="#231f20" >**</text>
<polyline points="279.6,685.0 279.6,634.5 290.0,634.5 290.0,643.5" fill="none" stroke="#1a1a1a" stroke-width="0.9"/>
<text transform="translate(284.8,633.3) scale(0.8929,1)" font-size="6.944" text-anchor="middle" font-weight="normal" fill="#231f20" >**</text>
<polyline points="307.2,700.0 307.2,661.5 318.0,661.5 318.0,673.0" fill="none" stroke="#1a1a1a" stroke-width="0.9"/>
<text transform="translate(312.6,660.3) scale(0.8929,1)" font-size="6.944" text-anchor="middle" font-weight="normal" fill="#231f20" >*</text>
<text transform="translate(229.3,736.3) scale(0.8929,1)" font-size="7.168" text-anchor="middle" font-weight="normal" fill="#231f20" >Day 7</text>
<text transform="translate(257.0,736.3) scale(0.8929,1)" font-size="7.168" text-anchor="middle" font-weight="normal" fill="#231f20" >Day 14</text>
<text transform="translate(284.7,736.3) scale(0.8929,1)" font-size="7.168" text-anchor="middle" font-weight="normal" fill="#231f20" >Day 21</text>
<text transform="translate(312.3,736.3) scale(0.8929,1)" font-size="7.168" text-anchor="middle" font-weight="normal" fill="#231f20" >Day 28</text>
<text transform="translate(193.4,681.0) rotate(-90) scale(0.8571,1)" font-size="8.064" text-anchor="middle" fill="#231f20">% CD3-CD56+/hCD45+</text>
<text transform="translate(343.7,622.9) scale(0.86,1)" font-size="13.6" font-weight="bold" fill="#000" style="stroke:#000;stroke-width:0.5px">J</text>
<line x1="393.4" y1="614.6" x2="399.9" y2="614.6" stroke="#72bb4e" stroke-width="0.9"/>
<circle cx="396.65" cy="614.6" r="1.2" fill="#72bb4e"/>
<text transform="translate(404.0,616.7) scale(0.8929,1)" font-size="7.056" text-anchor="start" font-weight="normal" fill="#231f20" >Raji alone</text>
<line x1="393.4" y1="621.8000000000001" x2="399.9" y2="621.8000000000001" stroke="#2f4d92" stroke-width="0.9" stroke-dasharray="1.2,0.9"/>
<path d="M395.34999999999997,622.4000000000001 L396.65,620.5000000000001 L397.95,622.4000000000001 Z" fill="#2f4d92"/>
<text transform="translate(404.0,623.9000000000001) scale(0.8929,1)" font-size="7.056" text-anchor="start" font-weight="normal" fill="#231f20" >Raji+CAR19/IL-15 CTRL 3x10<tspan font-size="3.6" dy="-2.4">6</tspan></text>
<line x1="393.4" y1="629.0" x2="399.9" y2="629.0" stroke="#2f4d92" stroke-width="0.9"/>
<rect x="395.45" y="627.8" width="2.4" height="2.4" fill="#2f4d92"/>
<text transform="translate(404.0,631.1) scale(0.8929,1)" font-size="7.056" text-anchor="start" font-weight="normal" fill="#231f20" >Raji+CAR19/IL-15 CISH KO 3x10<tspan font-size="3.6" dy="-2.4">6</tspan></text>
<line x1="393.4" y1="636.2" x2="399.9" y2="636.2" stroke="#c21d3c" stroke-width="0.9" stroke-dasharray="1.2,0.9"/>
<path d="M395.34999999999997,636.8000000000001 L396.65,634.9000000000001 L397.95,636.8000000000001 Z" fill="#c21d3c"/>
<text transform="translate(404.0,638.3000000000001) scale(0.8929,1)" font-size="7.056" text-anchor="start" font-weight="normal" fill="#231f20" >Raji+CAR19/IL-15 CTRL 10x10<tspan font-size="3.6" dy="-2.4">6</tspan></text>
<line x1="393.4" y1="643.4" x2="399.9" y2="643.4" stroke="#c21d3c" stroke-width="0.9"/>
<rect x="395.45" y="642.1999999999999" width="2.4" height="2.4" fill="#c21d3c"/>
<text transform="translate(404.0,645.5) scale(0.8929,1)" font-size="7.056" text-anchor="start" font-weight="normal" fill="#231f20" >Raji+CAR19/IL-15 CISH KO 10x10<tspan font-size="3.6" dy="-2.4">6</tspan></text>
<line x1="385.3" y1="735.0" x2="510.9" y2="735.0" stroke="#1a1a1a" stroke-width="1.25"/>
<line x1="385.3" y1="735.625" x2="385.3" y2="651.5" stroke="#1a1a1a" stroke-width="1.25"/>
<line x1="382.3" y1="654.0" x2="385.3" y2="654.0" stroke="#1a1a1a" stroke-width="0.9"/>
<text transform="translate(379.1,656.15) scale(0.8929,1)" font-size="6.832" text-anchor="end" font-weight="normal" fill="#231f20" >30</text>
<line x1="382.3" y1="674.25" x2="385.3" y2="674.25" stroke="#1a1a1a" stroke-width="0.9"/>
<text transform="translate(379.1,676.4) scale(0.8929,1)" font-size="6.832" text-anchor="end" font-weight="normal" fill="#231f20" >25</text>
<line x1="382.3" y1="694.5" x2="385.3" y2="694.5" stroke="#1a1a1a" stroke-width="0.9"/>
<text transform="translate(379.1,696.65) scale(0.8929,1)" font-size="6.832" text-anchor="end" font-weight="normal" fill="#231f20" >20</text>
<line x1="382.3" y1="714.75" x2="385.3" y2="714.75" stroke="#1a1a1a" stroke-width="0.9"/>
<text transform="translate(379.1,716.9) scale(0.8929,1)" font-size="6.832" text-anchor="end" font-weight="normal" fill="#231f20" >15</text>
<line x1="382.3" y1="735.0" x2="385.3" y2="735.0" stroke="#1a1a1a" stroke-width="0.9"/>
<text transform="translate(379.1,737.15) scale(0.8929,1)" font-size="6.832" text-anchor="end" font-weight="normal" fill="#231f20" >10</text>
<line x1="387.7" y1="735.0" x2="387.7" y2="738.2" stroke="#1a1a1a" stroke-width="0.9"/>
<line x1="391.7" y1="735.0" x2="391.7" y2="738.2" stroke="#1a1a1a" stroke-width="0.9"/>
<line x1="395.7" y1="735.0" x2="395.7" y2="738.2" stroke="#1a1a1a" stroke-width="0.9"/>
<line x1="399.7" y1="735.0" x2="399.7" y2="738.2" stroke="#1a1a1a" stroke-width="0.9"/>
<line x1="403.7" y1="735.0" x2="403.7" y2="738.2" stroke="#1a1a1a" stroke-width="0.9"/>
<line x1="407.7" y1="735.0" x2="407.7" y2="738.2" stroke="#1a1a1a" stroke-width="0.9"/>
<line x1="411.7" y1="735.0" x2="411.7" y2="738.2" stroke="#1a1a1a" stroke-width="0.9"/>
<line x1="415.7" y1="735.0" x2="415.7" y2="738.2" stroke="#1a1a1a" stroke-width="0.9"/>
<line x1="419.7" y1="735.0" x2="419.7" y2="738.2" stroke="#1a1a1a" stroke-width="0.9"/>
<line x1="423.7" y1="735.0" x2="423.7" y2="738.2" stroke="#1a1a1a" stroke-width="0.9"/>
<line x1="427.7" y1="735.0" x2="427.7" y2="738.2" stroke="#1a1a1a" stroke-width="0.9"/>
<line x1="431.7" y1="735.0" x2="431.7" y2="738.2" stroke="#1a1a1a" stroke-width="0.9"/>
<line x1="435.7" y1="735.0" x2="435.7" y2="738.2" stroke="#1a1a1a" stroke-width="0.9"/>
<line x1="439.7" y1="735.0" x2="439.7" y2="738.2" stroke="#1a1a1a" stroke-width="0.9"/>
<line x1="443.7" y1="735.0" x2="443.7" y2="738.2" stroke="#1a1a1a" stroke-width="0.9"/>
<line x1="447.7" y1="735.0" x2="447.7" y2="738.2" stroke="#1a1a1a" stroke-width="0.9"/>
<line x1="451.7" y1="735.0" x2="451.7" y2="738.2" stroke="#1a1a1a" stroke-width="0.9"/>
<line x1="455.7" y1="735.0" x2="455.7" y2="738.2" stroke="#1a1a1a" stroke-width="0.9"/>
<line x1="459.7" y1="735.0" x2="459.7" y2="738.2" stroke="#1a1a1a" stroke-width="0.9"/>
<line x1="463.7" y1="735.0" x2="463.7" y2="738.2" stroke="#1a1a1a" stroke-width="0.9"/>
<line x1="467.7" y1="735.0" x2="467.7" y2="738.2" stroke="#1a1a1a" stroke-width="0.9"/>
<line x1="471.7" y1="735.0" x2="471.7" y2="738.2" stroke="#1a1a1a" stroke-width="0.9"/>
<line x1="475.7" y1="735.0" x2="475.7" y2="738.2" stroke="#1a1a1a" stroke-width="0.9"/>
<line x1="479.7" y1="735.0" x2="479.7" y2="738.2" stroke="#1a1a1a" stroke-width="0.9"/>
<line x1="483.7" y1="735.0" x2="483.7" y2="738.2" stroke="#1a1a1a" stroke-width="0.9"/>
<line x1="487.7" y1="735.0" x2="487.7" y2="738.2" stroke="#1a1a1a" stroke-width="0.9"/>
<line x1="491.7" y1="735.0" x2="491.7" y2="738.2" stroke="#1a1a1a" stroke-width="0.9"/>
<line x1="495.7" y1="735.0" x2="495.7" y2="738.2" stroke="#1a1a1a" stroke-width="0.9"/>
<line x1="499.7" y1="735.0" x2="499.7" y2="738.2" stroke="#1a1a1a" stroke-width="0.9"/>
<line x1="503.7" y1="735.0" x2="503.7" y2="738.2" stroke="#1a1a1a" stroke-width="0.9"/>
<line x1="507.7" y1="735.0" x2="507.7" y2="738.2" stroke="#1a1a1a" stroke-width="0.9"/>
<text transform="translate(390.6,745.2) rotate(-45) scale(0.9,1)" font-size="6.4" text-anchor="end" fill="#231f20">-1</text>
<text transform="translate(398.6,745.2) rotate(-45) scale(0.9,1)" font-size="6.4" text-anchor="end" fill="#231f20">6</text>
<text transform="translate(406.6,745.2) rotate(-45) scale(0.9,1)" font-size="6.4" text-anchor="end" fill="#231f20">16</text>
<text transform="translate(414.6,745.2) rotate(-45) scale(0.9,1)" font-size="6.4" text-anchor="end" fill="#231f20">21</text>
<text transform="translate(422.6,745.2) rotate(-45) scale(0.9,1)" font-size="6.4" text-anchor="end" fill="#231f20">27</text>
<text transform="translate(430.6,745.2) rotate(-45) scale(0.9,1)" font-size="6.4" text-anchor="end" fill="#231f20">33</text>
<text transform="translate(438.6,745.2) rotate(-45) scale(0.9,1)" font-size="6.4" text-anchor="end" fill="#231f20">42</text>
<text transform="translate(446.6,745.2) rotate(-45) scale(0.9,1)" font-size="6.4" text-anchor="end" fill="#231f20">48</text>
<text transform="translate(454.6,745.2) rotate(-45) scale(0.9,1)" font-size="6.4" text-anchor="end" fill="#231f20">76</text>
<text transform="translate(462.6,745.2) rotate(-45) scale(0.9,1)" font-size="6.4" text-anchor="end" fill="#231f20">89</text>
<text transform="translate(470.6,745.2) rotate(-45) scale(0.9,1)" font-size="6.4" text-anchor="end" fill="#231f20">102</text>
<text transform="translate(478.6,745.2) rotate(-45) scale(0.9,1)" font-size="6.4" text-anchor="end" fill="#231f20">116</text>
<text transform="translate(486.6,745.2) rotate(-45) scale(0.9,1)" font-size="6.4" text-anchor="end" fill="#231f20">130</text>
<text transform="translate(494.6,745.2) rotate(-45) scale(0.9,1)" font-size="6.4" text-anchor="end" fill="#231f20">144</text>
<text transform="translate(502.6,745.2) rotate(-45) scale(0.9,1)" font-size="6.4" text-anchor="end" fill="#231f20">157</text>
<text transform="translate(510.6,745.2) rotate(-45) scale(0.9,1)" font-size="6.4" text-anchor="end" fill="#231f20">200</text>
<text transform="translate(447.7,765.3) scale(0.7411,1)" font-size="8.96" text-anchor="middle" font-weight="normal" fill="#231f20" >Time (days)</text>
<text transform="translate(365.5,692.6) rotate(-90) scale(0.7991,1)" font-size="8.624" text-anchor="middle" fill="#231f20">Body weight (grams)</text>
<line x1="387.70" y1="678" x2="387.70" y2="690" stroke="#72bb4e" stroke-width="0.6"/>
<line x1="386.70" y1="678" x2="388.70" y2="678" stroke="#72bb4e" stroke-width="0.6"/>
<line x1="386.70" y1="690" x2="388.70" y2="690" stroke="#72bb4e" stroke-width="0.6"/>
<line x1="391.70" y1="687" x2="391.70" y2="699" stroke="#72bb4e" stroke-width="0.6"/>
<line x1="390.70" y1="687" x2="392.70" y2="687" stroke="#72bb4e" stroke-width="0.6"/>
<line x1="390.70" y1="699" x2="392.70" y2="699" stroke="#72bb4e" stroke-width="0.6"/>
<line x1="395.70" y1="685" x2="395.70" y2="697" stroke="#72bb4e" stroke-width="0.6"/>
<line x1="394.70" y1="685" x2="396.70" y2="685" stroke="#72bb4e" stroke-width="0.6"/>
<line x1="394.70" y1="697" x2="396.70" y2="697" stroke="#72bb4e" stroke-width="0.6"/>
<line x1="399.70" y1="686" x2="399.70" y2="698" stroke="#72bb4e" stroke-width="0.6"/>
<line x1="398.70" y1="686" x2="400.70" y2="686" stroke="#72bb4e" stroke-width="0.6"/>
<line x1="398.70" y1="698" x2="400.70" y2="698" stroke="#72bb4e" stroke-width="0.6"/>
<line x1="403.70" y1="689" x2="403.70" y2="701" stroke="#72bb4e" stroke-width="0.6"/>
<line x1="402.70" y1="689" x2="404.70" y2="689" stroke="#72bb4e" stroke-width="0.6"/>
<line x1="402.70" y1="701" x2="404.70" y2="701" stroke="#72bb4e" stroke-width="0.6"/>
<line x1="407.70" y1="692" x2="407.70" y2="704" stroke="#72bb4e" stroke-width="0.6"/>
<line x1="406.70" y1="692" x2="408.70" y2="692" stroke="#72bb4e" stroke-width="0.6"/>
<line x1="406.70" y1="704" x2="408.70" y2="704" stroke="#72bb4e" stroke-width="0.6"/>
<line x1="411.70" y1="696" x2="411.70" y2="708" stroke="#72bb4e" stroke-width="0.6"/>
<line x1="410.70" y1="696" x2="412.70" y2="696" stroke="#72bb4e" stroke-width="0.6"/>
<line x1="410.70" y1="708" x2="412.70" y2="708" stroke="#72bb4e" stroke-width="0.6"/>
<line x1="415.70" y1="703" x2="415.70" y2="715" stroke="#72bb4e" stroke-width="0.6"/>
<line x1="414.70" y1="703" x2="416.70" y2="703" stroke="#72bb4e" stroke-width="0.6"/>
<line x1="414.70" y1="715" x2="416.70" y2="715" stroke="#72bb4e" stroke-width="0.6"/>
<line x1="387.70" y1="669" x2="387.70" y2="679" stroke="#2f4d92" stroke-width="0.6"/>
<line x1="386.70" y1="669" x2="388.70" y2="669" stroke="#2f4d92" stroke-width="0.6"/>
<line x1="386.70" y1="679" x2="388.70" y2="679" stroke="#2f4d92" stroke-width="0.6"/>
<line x1="391.70" y1="682" x2="391.70" y2="689" stroke="#2f4d92" stroke-width="0.6"/>
<line x1="390.70" y1="682" x2="392.70" y2="682" stroke="#2f4d92" stroke-width="0.6"/>
<line x1="390.70" y1="689" x2="392.70" y2="689" stroke="#2f4d92" stroke-width="0.6"/>
<line x1="395.70" y1="680" x2="395.70" y2="687" stroke="#2f4d92" stroke-width="0.6"/>
<line x1="394.70" y1="680" x2="396.70" y2="680" stroke="#2f4d92" stroke-width="0.6"/>
<line x1="394.70" y1="687" x2="396.70" y2="687" stroke="#2f4d92" stroke-width="0.6"/>
<line x1="399.70" y1="679" x2="399.70" y2="686" stroke="#2f4d92" stroke-width="0.6"/>
<line x1="398.70" y1="679" x2="400.70" y2="679" stroke="#2f4d92" stroke-width="0.6"/>
<line x1="398.70" y1="686" x2="400.70" y2="686" stroke="#2f4d92" stroke-width="0.6"/>
<line x1="403.70" y1="682" x2="403.70" y2="689" stroke="#2f4d92" stroke-width="0.6"/>
<line x1="402.70" y1="682" x2="404.70" y2="682" stroke="#2f4d92" stroke-width="0.6"/>
<line x1="402.70" y1="689" x2="404.70" y2="689" stroke="#2f4d92" stroke-width="0.6"/>
<line x1="407.70" y1="683" x2="407.70" y2="690" stroke="#2f4d92" stroke-width="0.6"/>
<line x1="406.70" y1="683" x2="408.70" y2="683" stroke="#2f4d92" stroke-width="0.6"/>
<line x1="406.70" y1="690" x2="408.70" y2="690" stroke="#2f4d92" stroke-width="0.6"/>
<line x1="411.70" y1="686" x2="411.70" y2="693" stroke="#2f4d92" stroke-width="0.6"/>
<line x1="410.70" y1="686" x2="412.70" y2="686" stroke="#2f4d92" stroke-width="0.6"/>
<line x1="410.70" y1="693" x2="412.70" y2="693" stroke="#2f4d92" stroke-width="0.6"/>
<line x1="415.70" y1="689" x2="415.70" y2="696" stroke="#2f4d92" stroke-width="0.6"/>
<line x1="414.70" y1="689" x2="416.70" y2="689" stroke="#2f4d92" stroke-width="0.6"/>
<line x1="414.70" y1="696" x2="416.70" y2="696" stroke="#2f4d92" stroke-width="0.6"/>
<line x1="419.70" y1="689" x2="419.70" y2="696" stroke="#2f4d92" stroke-width="0.6"/>
<line x1="418.70" y1="689" x2="420.70" y2="689" stroke="#2f4d92" stroke-width="0.6"/>
<line x1="418.70" y1="696" x2="420.70" y2="696" stroke="#2f4d92" stroke-width="0.6"/>
<line x1="423.70" y1="692" x2="423.70" y2="699" stroke="#2f4d92" stroke-width="0.6"/>
<line x1="422.70" y1="692" x2="424.70" y2="692" stroke="#2f4d92" stroke-width="0.6"/>
<line x1="422.70" y1="699" x2="424.70" y2="699" stroke="#2f4d92" stroke-width="0.6"/>
<line x1="427.70" y1="694" x2="427.70" y2="701" stroke="#2f4d92" stroke-width="0.6"/>
<line x1="426.70" y1="694" x2="428.70" y2="694" stroke="#2f4d92" stroke-width="0.6"/>
<line x1="426.70" y1="701" x2="428.70" y2="701" stroke="#2f4d92" stroke-width="0.6"/>
<line x1="431.70" y1="675" x2="431.70" y2="685" stroke="#2f4d92" stroke-width="0.6"/>
<line x1="430.70" y1="675" x2="432.70" y2="675" stroke="#2f4d92" stroke-width="0.6"/>
<line x1="430.70" y1="685" x2="432.70" y2="685" stroke="#2f4d92" stroke-width="0.6"/>
<line x1="435.70" y1="688" x2="435.70" y2="695" stroke="#2f4d92" stroke-width="0.6"/>
<line x1="434.70" y1="688" x2="436.70" y2="688" stroke="#2f4d92" stroke-width="0.6"/>
<line x1="434.70" y1="695" x2="436.70" y2="695" stroke="#2f4d92" stroke-width="0.6"/>
<line x1="439.70" y1="699" x2="439.70" y2="706" stroke="#2f4d92" stroke-width="0.6"/>
<line x1="438.70" y1="699" x2="440.70" y2="699" stroke="#2f4d92" stroke-width="0.6"/>
<line x1="438.70" y1="706" x2="440.70" y2="706" stroke="#2f4d92" stroke-width="0.6"/>
<line x1="387.70" y1="673.5" x2="387.70" y2="679.5" stroke="#c21d3c" stroke-width="0.6"/>
<line x1="386.70" y1="673.5" x2="388.70" y2="673.5" stroke="#c21d3c" stroke-width="0.6"/>
<line x1="386.70" y1="679.5" x2="388.70" y2="679.5" stroke="#c21d3c" stroke-width="0.6"/>
<line x1="391.70" y1="685.5" x2="391.70" y2="691.5" stroke="#c21d3c" stroke-width="0.6"/>
<line x1="390.70" y1="685.5" x2="392.70" y2="685.5" stroke="#c21d3c" stroke-width="0.6"/>
<line x1="390.70" y1="691.5" x2="392.70" y2="691.5" stroke="#c21d3c" stroke-width="0.6"/>
<line x1="395.70" y1="681.5" x2="395.70" y2="687.5" stroke="#c21d3c" stroke-width="0.6"/>
<line x1="394.70" y1="681.5" x2="396.70" y2="681.5" stroke="#c21d3c" stroke-width="0.6"/>
<line x1="394.70" y1="687.5" x2="396.70" y2="687.5" stroke="#c21d3c" stroke-width="0.6"/>
<line x1="399.70" y1="683.5" x2="399.70" y2="689.5" stroke="#c21d3c" stroke-width="0.6"/>
<line x1="398.70" y1="683.5" x2="400.70" y2="683.5" stroke="#c21d3c" stroke-width="0.6"/>
<line x1="398.70" y1="689.5" x2="400.70" y2="689.5" stroke="#c21d3c" stroke-width="0.6"/>
<line x1="403.70" y1="686.5" x2="403.70" y2="692.5" stroke="#c21d3c" stroke-width="0.6"/>
<line x1="402.70" y1="686.5" x2="404.70" y2="686.5" stroke="#c21d3c" stroke-width="0.6"/>
<line x1="402.70" y1="692.5" x2="404.70" y2="692.5" stroke="#c21d3c" stroke-width="0.6"/>
<line x1="407.70" y1="690.5" x2="407.70" y2="696.5" stroke="#c21d3c" stroke-width="0.6"/>
<line x1="406.70" y1="690.5" x2="408.70" y2="690.5" stroke="#c21d3c" stroke-width="0.6"/>
<line x1="406.70" y1="696.5" x2="408.70" y2="696.5" stroke="#c21d3c" stroke-width="0.6"/>
<line x1="411.70" y1="692.5" x2="411.70" y2="698.5" stroke="#c21d3c" stroke-width="0.6"/>
<line x1="410.70" y1="692.5" x2="412.70" y2="692.5" stroke="#c21d3c" stroke-width="0.6"/>
<line x1="410.70" y1="698.5" x2="412.70" y2="698.5" stroke="#c21d3c" stroke-width="0.6"/>
<line x1="415.70" y1="694.5" x2="415.70" y2="700.5" stroke="#c21d3c" stroke-width="0.6"/>
<line x1="414.70" y1="694.5" x2="416.70" y2="694.5" stroke="#c21d3c" stroke-width="0.6"/>
<line x1="414.70" y1="700.5" x2="416.70" y2="700.5" stroke="#c21d3c" stroke-width="0.6"/>
<line x1="419.70" y1="690" x2="419.70" y2="698.5" stroke="#c21d3c" stroke-width="0.6"/>
<line x1="418.70" y1="690" x2="420.70" y2="690" stroke="#c21d3c" stroke-width="0.6"/>
<line x1="418.70" y1="698.5" x2="420.70" y2="698.5" stroke="#c21d3c" stroke-width="0.6"/>
<line x1="423.70" y1="691" x2="423.70" y2="699.5" stroke="#c21d3c" stroke-width="0.6"/>
<line x1="422.70" y1="691" x2="424.70" y2="691" stroke="#c21d3c" stroke-width="0.6"/>
<line x1="422.70" y1="699.5" x2="424.70" y2="699.5" stroke="#c21d3c" stroke-width="0.6"/>
<line x1="427.70" y1="689" x2="427.70" y2="697.5" stroke="#c21d3c" stroke-width="0.6"/>
<line x1="426.70" y1="689" x2="428.70" y2="689" stroke="#c21d3c" stroke-width="0.6"/>
<line x1="426.70" y1="697.5" x2="428.70" y2="697.5" stroke="#c21d3c" stroke-width="0.6"/>
<line x1="431.70" y1="690" x2="431.70" y2="698.5" stroke="#c21d3c" stroke-width="0.6"/>
<line x1="430.70" y1="690" x2="432.70" y2="690" stroke="#c21d3c" stroke-width="0.6"/>
<line x1="430.70" y1="698.5" x2="432.70" y2="698.5" stroke="#c21d3c" stroke-width="0.6"/>
<line x1="435.70" y1="690" x2="435.70" y2="698.5" stroke="#c21d3c" stroke-width="0.6"/>
<line x1="434.70" y1="690" x2="436.70" y2="690" stroke="#c21d3c" stroke-width="0.6"/>
<line x1="434.70" y1="698.5" x2="436.70" y2="698.5" stroke="#c21d3c" stroke-width="0.6"/>
<line x1="439.70" y1="685" x2="439.70" y2="693.5" stroke="#c21d3c" stroke-width="0.6"/>
<line x1="438.70" y1="685" x2="440.70" y2="685" stroke="#c21d3c" stroke-width="0.6"/>
<line x1="438.70" y1="693.5" x2="440.70" y2="693.5" stroke="#c21d3c" stroke-width="0.6"/>
<line x1="443.70" y1="686" x2="443.70" y2="694.5" stroke="#c21d3c" stroke-width="0.6"/>
<line x1="442.70" y1="686" x2="444.70" y2="686" stroke="#c21d3c" stroke-width="0.6"/>
<line x1="442.70" y1="694.5" x2="444.70" y2="694.5" stroke="#c21d3c" stroke-width="0.6"/>
<line x1="447.70" y1="669" x2="447.70" y2="677.5" stroke="#c21d3c" stroke-width="0.6"/>
<line x1="446.70" y1="669" x2="448.70" y2="669" stroke="#c21d3c" stroke-width="0.6"/>
<line x1="446.70" y1="677.5" x2="448.70" y2="677.5" stroke="#c21d3c" stroke-width="0.6"/>
<line x1="451.70" y1="668.5" x2="451.70" y2="674.5" stroke="#c21d3c" stroke-width="0.6"/>
<line x1="450.70" y1="668.5" x2="452.70" y2="668.5" stroke="#c21d3c" stroke-width="0.6"/>
<line x1="450.70" y1="674.5" x2="452.70" y2="674.5" stroke="#c21d3c" stroke-width="0.6"/>
<line x1="455.70" y1="667.5" x2="455.70" y2="673.5" stroke="#c21d3c" stroke-width="0.6"/>
<line x1="454.70" y1="667.5" x2="456.70" y2="667.5" stroke="#c21d3c" stroke-width="0.6"/>
<line x1="454.70" y1="673.5" x2="456.70" y2="673.5" stroke="#c21d3c" stroke-width="0.6"/>
<line x1="459.70" y1="666.5" x2="459.70" y2="672.5" stroke="#c21d3c" stroke-width="0.6"/>
<line x1="458.70" y1="666.5" x2="460.70" y2="666.5" stroke="#c21d3c" stroke-width="0.6"/>
<line x1="458.70" y1="672.5" x2="460.70" y2="672.5" stroke="#c21d3c" stroke-width="0.6"/>
<line x1="463.70" y1="667.0" x2="463.70" y2="673.0" stroke="#c21d3c" stroke-width="0.6"/>
<line x1="462.70" y1="667.0" x2="464.70" y2="667.0" stroke="#c21d3c" stroke-width="0.6"/>
<line x1="462.70" y1="673.0" x2="464.70" y2="673.0" stroke="#c21d3c" stroke-width="0.6"/>
<line x1="467.70" y1="668.5" x2="467.70" y2="674.5" stroke="#c21d3c" stroke-width="0.6"/>
<line x1="466.70" y1="668.5" x2="468.70" y2="668.5" stroke="#c21d3c" stroke-width="0.6"/>
<line x1="466.70" y1="674.5" x2="468.70" y2="674.5" stroke="#c21d3c" stroke-width="0.6"/>
<line x1="471.70" y1="668.5" x2="471.70" y2="674.5" stroke="#c21d3c" stroke-width="0.6"/>
<line x1="470.70" y1="668.5" x2="472.70" y2="668.5" stroke="#c21d3c" stroke-width="0.6"/>
<line x1="470.70" y1="674.5" x2="472.70" y2="674.5" stroke="#c21d3c" stroke-width="0.6"/>
<line x1="475.70" y1="668.0" x2="475.70" y2="674.0" stroke="#c21d3c" stroke-width="0.6"/>
<line x1="474.70" y1="668.0" x2="476.70" y2="668.0" stroke="#c21d3c" stroke-width="0.6"/>
<line x1="474.70" y1="674.0" x2="476.70" y2="674.0" stroke="#c21d3c" stroke-width="0.6"/>
<line x1="479.70" y1="665.5" x2="479.70" y2="671.5" stroke="#c21d3c" stroke-width="0.6"/>
<line x1="478.70" y1="665.5" x2="480.70" y2="665.5" stroke="#c21d3c" stroke-width="0.6"/>
<line x1="478.70" y1="671.5" x2="480.70" y2="671.5" stroke="#c21d3c" stroke-width="0.6"/>
<line x1="483.70" y1="663.5" x2="483.70" y2="669.5" stroke="#c21d3c" stroke-width="0.6"/>
<line x1="482.70" y1="663.5" x2="484.70" y2="663.5" stroke="#c21d3c" stroke-width="0.6"/>
<line x1="482.70" y1="669.5" x2="484.70" y2="669.5" stroke="#c21d3c" stroke-width="0.6"/>
<line x1="487.70" y1="661.5" x2="487.70" y2="667.5" stroke="#c21d3c" stroke-width="0.6"/>
<line x1="486.70" y1="661.5" x2="488.70" y2="661.5" stroke="#c21d3c" stroke-width="0.6"/>
<line x1="486.70" y1="667.5" x2="488.70" y2="667.5" stroke="#c21d3c" stroke-width="0.6"/>
<line x1="491.70" y1="661.0" x2="491.70" y2="667.0" stroke="#c21d3c" stroke-width="0.6"/>
<line x1="490.70" y1="661.0" x2="492.70" y2="661.0" stroke="#c21d3c" stroke-width="0.6"/>
<line x1="490.70" y1="667.0" x2="492.70" y2="667.0" stroke="#c21d3c" stroke-width="0.6"/>
<line x1="495.70" y1="663.0" x2="495.70" y2="669.0" stroke="#c21d3c" stroke-width="0.6"/>
<line x1="494.70" y1="663.0" x2="496.70" y2="663.0" stroke="#c21d3c" stroke-width="0.6"/>
<line x1="494.70" y1="669.0" x2="496.70" y2="669.0" stroke="#c21d3c" stroke-width="0.6"/>
<line x1="499.70" y1="665.0" x2="499.70" y2="671.0" stroke="#c21d3c" stroke-width="0.6"/>
<line x1="498.70" y1="665.0" x2="500.70" y2="665.0" stroke="#c21d3c" stroke-width="0.6"/>
<line x1="498.70" y1="671.0" x2="500.70" y2="671.0" stroke="#c21d3c" stroke-width="0.6"/>
<line x1="503.70" y1="664.0" x2="503.70" y2="670.0" stroke="#c21d3c" stroke-width="0.6"/>
<line x1="502.70" y1="664.0" x2="504.70" y2="664.0" stroke="#c21d3c" stroke-width="0.6"/>
<line x1="502.70" y1="670.0" x2="504.70" y2="670.0" stroke="#c21d3c" stroke-width="0.6"/>
<line x1="507.70" y1="659.5" x2="507.70" y2="665.5" stroke="#c21d3c" stroke-width="0.6"/>
<line x1="506.70" y1="659.5" x2="508.70" y2="659.5" stroke="#c21d3c" stroke-width="0.6"/>
<line x1="506.70" y1="665.5" x2="508.70" y2="665.5" stroke="#c21d3c" stroke-width="0.6"/>
<polyline points="387.70,686.00 391.70,694.00 395.70,694.00 399.70,694.00 403.70,696.00 407.70,697.00 411.70,697.00 415.70,702.00 419.70,700.00 423.70,698.00" fill="none" stroke="#2f4d92" stroke-width="0.9" stroke-dasharray="1.2,0.8" stroke-linejoin="miter"/>
<polyline points="387.70,682.00 391.70,696.00 395.70,694.00 399.70,695.00 403.70,696.00 407.70,699.00 411.70,703.00 415.70,699.00 419.70,698.00 423.70,697.00" fill="none" stroke="#c21d3c" stroke-width="0.9" stroke-dasharray="1.2,0.8" stroke-linejoin="miter"/>
<polyline points="387.70,684.00 391.70,693.00 395.70,691.00 399.70,692.00 403.70,695.00 407.70,698.00 411.70,702.00 415.70,709.00" fill="none" stroke="#72bb4e" stroke-width="1.0" stroke-linejoin="miter"/>
<circle cx="387.70" cy="684" r="0.8" fill="#72bb4e"/>
<circle cx="391.70" cy="693" r="0.8" fill="#72bb4e"/>
<circle cx="395.70" cy="691" r="0.8" fill="#72bb4e"/>
<circle cx="399.70" cy="692" r="0.8" fill="#72bb4e"/>
<circle cx="403.70" cy="695" r="0.8" fill="#72bb4e"/>
<circle cx="407.70" cy="698" r="0.8" fill="#72bb4e"/>
<circle cx="411.70" cy="702" r="0.8" fill="#72bb4e"/>
<circle cx="415.70" cy="709" r="0.8" fill="#72bb4e"/>
<polyline points="387.70,677.00 391.70,687.00 395.70,685.00 399.70,684.00 403.70,687.00 407.70,688.00 411.70,691.00 415.70,694.00 419.70,694.00 423.70,697.00 427.70,699.00 431.70,683.00 435.70,693.00 439.70,704.00" fill="none" stroke="#2f4d92" stroke-width="1.0" stroke-linejoin="miter"/>
<rect x="386.95" y="676.25" width="1.5" height="1.5" fill="#2f4d92"/>
<rect x="390.95" y="686.25" width="1.5" height="1.5" fill="#2f4d92"/>
<rect x="394.95" y="684.25" width="1.5" height="1.5" fill="#2f4d92"/>
<rect x="398.95" y="683.25" width="1.5" height="1.5" fill="#2f4d92"/>
<rect x="402.95" y="686.25" width="1.5" height="1.5" fill="#2f4d92"/>
<rect x="406.95" y="687.25" width="1.5" height="1.5" fill="#2f4d92"/>
<rect x="410.95" y="690.25" width="1.5" height="1.5" fill="#2f4d92"/>
<rect x="414.95" y="693.25" width="1.5" height="1.5" fill="#2f4d92"/>
<rect x="418.95" y="693.25" width="1.5" height="1.5" fill="#2f4d92"/>
<rect x="422.95" y="696.25" width="1.5" height="1.5" fill="#2f4d92"/>
<rect x="426.95" y="698.25" width="1.5" height="1.5" fill="#2f4d92"/>
<rect x="430.95" y="682.25" width="1.5" height="1.5" fill="#2f4d92"/>
<rect x="434.95" y="692.25" width="1.5" height="1.5" fill="#2f4d92"/>
<rect x="438.95" y="703.25" width="1.5" height="1.5" fill="#2f4d92"/>
<polyline points="387.70,678.00 391.70,690.00 395.70,686.00 399.70,688.00 403.70,691.00 407.70,695.00 411.70,697.00 415.70,699.00 419.70,697.00 423.70,698.00 427.70,696.00 431.70,697.00 435.70,697.00 439.70,692.00 443.70,693.00 447.70,676.00 451.70,673.00 455.70,672.00 459.70,671.00 463.70,671.50 467.70,673.00 471.70,673.00 475.70,672.50 479.70,670.00 483.70,668.00 487.70,666.00 491.70,665.50 495.70,667.50 499.70,669.50 503.70,668.50 507.70,664.00" fill="none" stroke="#c21d3c" stroke-width="1.1" stroke-linejoin="miter"/>
<rect x="386.95" y="677.25" width="1.5" height="1.5" fill="#c21d3c"/>
<rect x="390.95" y="689.25" width="1.5" height="1.5" fill="#c21d3c"/>
<rect x="394.95" y="685.25" width="1.5" height="1.5" fill="#c21d3c"/>
<rect x="398.95" y="687.25" width="1.5" height="1.5" fill="#c21d3c"/>
<rect x="402.95" y="690.25" width="1.5" height="1.5" fill="#c21d3c"/>
<rect x="406.95" y="694.25" width="1.5" height="1.5" fill="#c21d3c"/>
<rect x="410.95" y="696.25" width="1.5" height="1.5" fill="#c21d3c"/>
<rect x="414.95" y="698.25" width="1.5" height="1.5" fill="#c21d3c"/>
<rect x="418.95" y="696.25" width="1.5" height="1.5" fill="#c21d3c"/>
<rect x="422.95" y="697.25" width="1.5" height="1.5" fill="#c21d3c"/>
<rect x="426.95" y="695.25" width="1.5" height="1.5" fill="#c21d3c"/>
<rect x="430.95" y="696.25" width="1.5" height="1.5" fill="#c21d3c"/>
<rect x="434.95" y="696.25" width="1.5" height="1.5" fill="#c21d3c"/>
<rect x="438.95" y="691.25" width="1.5" height="1.5" fill="#c21d3c"/>
<rect x="442.95" y="692.25" width="1.5" height="1.5" fill="#c21d3c"/>
<rect x="446.95" y="675.25" width="1.5" height="1.5" fill="#c21d3c"/>
<rect x="450.95" y="672.25" width="1.5" height="1.5" fill="#c21d3c"/>
<rect x="454.95" y="671.25" width="1.5" height="1.5" fill="#c21d3c"/>
<rect x="458.95" y="670.25" width="1.5" height="1.5" fill="#c21d3c"/>
<rect x="462.95" y="670.75" width="1.5" height="1.5" fill="#c21d3c"/>
<rect x="466.95" y="672.25" width="1.5" height="1.5" fill="#c21d3c"/>
<rect x="470.95" y="672.25" width="1.5" height="1.5" fill="#c21d3c"/>
<rect x="474.95" y="671.75" width="1.5" height="1.5" fill="#c21d3c"/>
<rect x="478.95" y="669.25" width="1.5" height="1.5" fill="#c21d3c"/>
<rect x="482.95" y="667.25" width="1.5" height="1.5" fill="#c21d3c"/>
<rect x="486.95" y="665.25" width="1.5" height="1.5" fill="#c21d3c"/>
<rect x="490.95" y="664.75" width="1.5" height="1.5" fill="#c21d3c"/>
<rect x="494.95" y="666.75" width="1.5" height="1.5" fill="#c21d3c"/>
<rect x="498.95" y="668.75" width="1.5" height="1.5" fill="#c21d3c"/>
<rect x="502.95" y="667.75" width="1.5" height="1.5" fill="#c21d3c"/>
<rect x="506.95" y="663.25" width="1.5" height="1.5" fill="#c21d3c"/>
<rect x="0" y="0" width="1.3" height="776" fill="#000"/>
<rect x="0" y="0" width="520" height="1.2" fill="#000"/>
<rect x="518.5" y="0" width="1.5" height="776" fill="#000"/>
<rect x="0" y="774.5" width="520" height="1.5" fill="#000"/>
</svg>
</body></html>
